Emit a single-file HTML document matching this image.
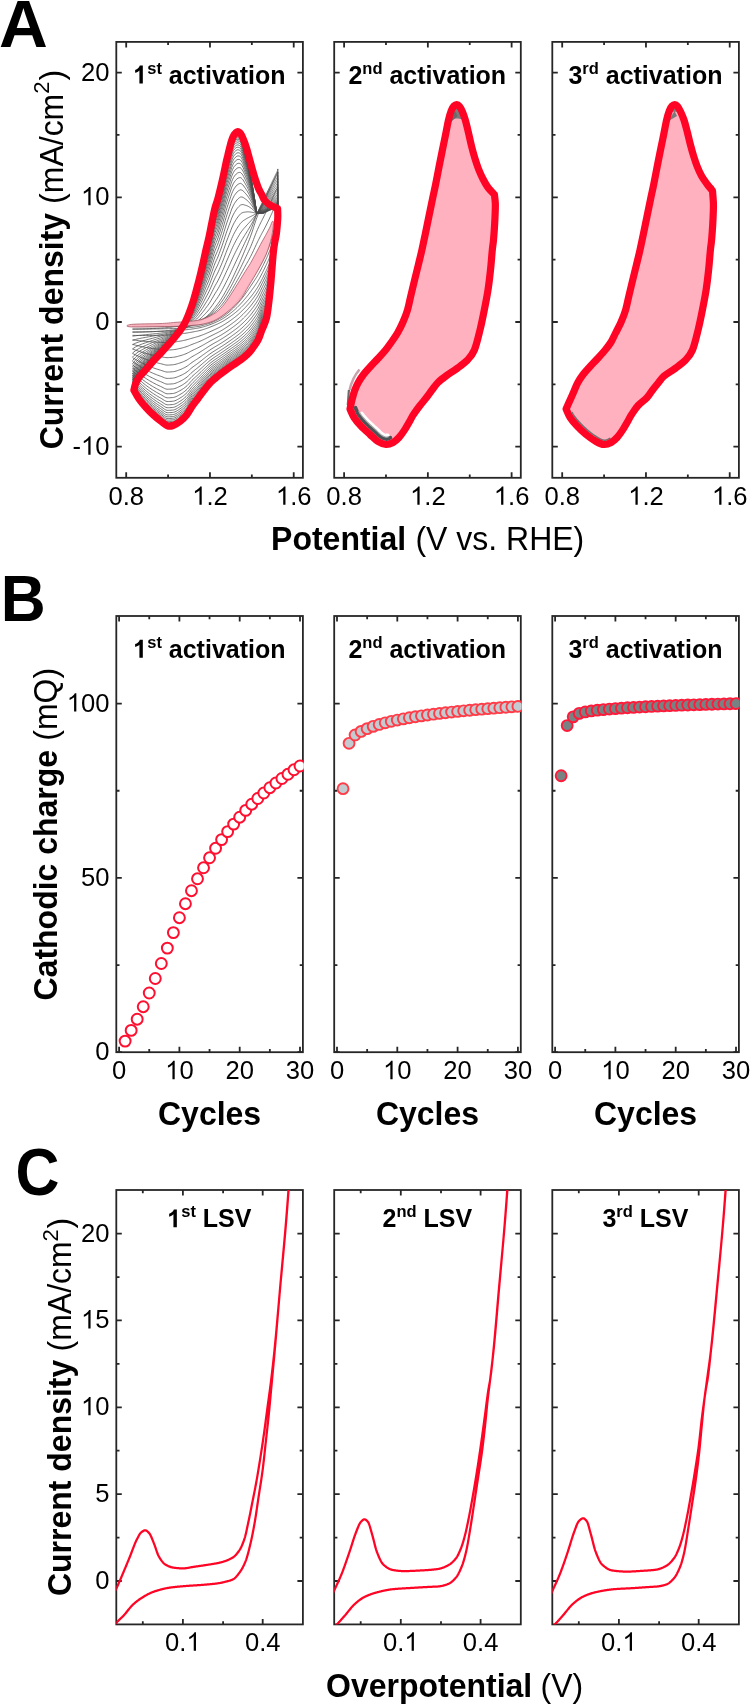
<!DOCTYPE html>
<html><head><meta charset="utf-8"><style>
html,body{margin:0;padding:0;background:#fff;}
svg{display:block;will-change:transform;}
text{font-family:"Liberation Sans",sans-serif;fill:#000;}
.t{font-size:25.6px;}
.b{font-weight:bold;}
</style></head><body>
<svg width="750" height="1704" viewBox="0 0 750 1704">
<rect x="116.3" y="41.9" width="186.6" height="435.9" fill="none" stroke="#262626" stroke-width="1.8"/>
<path d="M126.2,477.8V472.3M126.2,41.9V47.4M209.96,477.8V472.3M209.96,41.9V47.4M293.72,477.8V472.3M293.72,41.9V47.4M168.08,477.8V474.6M168.08,41.9V45.1M251.84,477.8V474.6M251.84,41.9V45.1M116.3,446.7H121.8M302.9,446.7H297.4M116.3,322H121.8M302.9,322H297.4M116.3,197.3H121.8M302.9,197.3H297.4M116.3,72.6H121.8M302.9,72.6H297.4M116.3,384.35H119.5M302.9,384.35H299.7M116.3,259.65H119.5M302.9,259.65H299.7M116.3,134.95H119.5M302.9,134.95H299.7" stroke="#262626" stroke-width="1.8" fill="none"/>
<rect x="334.2" y="41.9" width="186.6" height="435.9" fill="none" stroke="#262626" stroke-width="1.8"/>
<path d="M344.1,477.8V472.3M344.1,41.9V47.4M427.86,477.8V472.3M427.86,41.9V47.4M511.62,477.8V472.3M511.62,41.9V47.4M385.98,477.8V474.6M385.98,41.9V45.1M469.74,477.8V474.6M469.74,41.9V45.1M334.2,446.7H339.7M520.8,446.7H515.3M334.2,322H339.7M520.8,322H515.3M334.2,197.3H339.7M520.8,197.3H515.3M334.2,72.6H339.7M520.8,72.6H515.3M334.2,384.35H337.4M520.8,384.35H517.6M334.2,259.65H337.4M520.8,259.65H517.6M334.2,134.95H337.4M520.8,134.95H517.6" stroke="#262626" stroke-width="1.8" fill="none"/>
<rect x="552.3" y="41.9" width="186.6" height="435.9" fill="none" stroke="#262626" stroke-width="1.8"/>
<path d="M562.2,477.8V472.3M562.2,41.9V47.4M645.96,477.8V472.3M645.96,41.9V47.4M729.72,477.8V472.3M729.72,41.9V47.4M604.08,477.8V474.6M604.08,41.9V45.1M687.84,477.8V474.6M687.84,41.9V45.1M552.3,446.7H557.8M738.9,446.7H733.4M552.3,322H557.8M738.9,322H733.4M552.3,197.3H557.8M738.9,197.3H733.4M552.3,72.6H557.8M738.9,72.6H733.4M552.3,384.35H555.5M738.9,384.35H735.7M552.3,259.65H555.5M738.9,259.65H735.7M552.3,134.95H555.5M738.9,134.95H735.7" stroke="#262626" stroke-width="1.8" fill="none"/>
<rect x="116.3" y="616" width="186.6" height="436.2" fill="none" stroke="#262626" stroke-width="1.8"/>
<path d="M119.1,1052.2V1046.7M119.1,616V621.5M179.4,1052.2V1046.7M179.4,616V621.5M239.7,1052.2V1046.7M239.7,616V621.5M300,1052.2V1046.7M300,616V621.5M149.25,1052.2V1049M149.25,616V619.2M209.55,1052.2V1049M209.55,616V619.2M269.85,1052.2V1049M269.85,616V619.2M116.3,1052.2H121.8M302.9,1052.2H297.4M116.3,877.9H121.8M302.9,877.9H297.4M116.3,703.6H121.8M302.9,703.6H297.4M116.3,965.05H119.5M302.9,965.05H299.7M116.3,790.75H119.5M302.9,790.75H299.7" stroke="#262626" stroke-width="1.8" fill="none"/>
<rect x="334.2" y="616" width="186.6" height="436.2" fill="none" stroke="#262626" stroke-width="1.8"/>
<path d="M337,1052.2V1046.7M337,616V621.5M397.3,1052.2V1046.7M397.3,616V621.5M457.6,1052.2V1046.7M457.6,616V621.5M517.9,1052.2V1046.7M517.9,616V621.5M367.15,1052.2V1049M367.15,616V619.2M427.45,1052.2V1049M427.45,616V619.2M487.75,1052.2V1049M487.75,616V619.2M334.2,1052.2H339.7M520.8,1052.2H515.3M334.2,877.9H339.7M520.8,877.9H515.3M334.2,703.6H339.7M520.8,703.6H515.3M334.2,965.05H337.4M520.8,965.05H517.6M334.2,790.75H337.4M520.8,790.75H517.6" stroke="#262626" stroke-width="1.8" fill="none"/>
<rect x="552.3" y="616" width="186.6" height="436.2" fill="none" stroke="#262626" stroke-width="1.8"/>
<path d="M555.1,1052.2V1046.7M555.1,616V621.5M615.4,1052.2V1046.7M615.4,616V621.5M675.7,1052.2V1046.7M675.7,616V621.5M736,1052.2V1046.7M736,616V621.5M585.25,1052.2V1049M585.25,616V619.2M645.55,1052.2V1049M645.55,616V619.2M705.85,1052.2V1049M705.85,616V619.2M552.3,1052.2H557.8M738.9,1052.2H733.4M552.3,877.9H557.8M738.9,877.9H733.4M552.3,703.6H557.8M738.9,703.6H733.4M552.3,965.05H555.5M738.9,965.05H735.7M552.3,790.75H555.5M738.9,790.75H735.7" stroke="#262626" stroke-width="1.8" fill="none"/>
<rect x="116.3" y="1190" width="186.6" height="434.4" fill="none" stroke="#262626" stroke-width="1.8"/>
<path d="M182.9,1624.4V1618.9M182.9,1190V1195.5M262.7,1624.4V1618.9M262.7,1190V1195.5M142.8,1624.4V1621.2M142.8,1190V1193.2M223.1,1624.4V1621.2M223.1,1190V1193.2M116.3,1581H121.8M302.9,1581H297.4M116.3,1494.15H121.8M302.9,1494.15H297.4M116.3,1407.3H121.8M302.9,1407.3H297.4M116.3,1320.45H121.8M302.9,1320.45H297.4M116.3,1233.6H121.8M302.9,1233.6H297.4M116.3,1537.58H119.5M302.9,1537.58H299.7M116.3,1450.72H119.5M302.9,1450.72H299.7M116.3,1363.88H119.5M302.9,1363.88H299.7M116.3,1277.03H119.5M302.9,1277.03H299.7" stroke="#262626" stroke-width="1.8" fill="none"/>
<rect x="334.2" y="1190" width="186.6" height="434.4" fill="none" stroke="#262626" stroke-width="1.8"/>
<path d="M400.8,1624.4V1618.9M400.8,1190V1195.5M480.6,1624.4V1618.9M480.6,1190V1195.5M360.7,1624.4V1621.2M360.7,1190V1193.2M441,1624.4V1621.2M441,1190V1193.2M334.2,1581H339.7M520.8,1581H515.3M334.2,1494.15H339.7M520.8,1494.15H515.3M334.2,1407.3H339.7M520.8,1407.3H515.3M334.2,1320.45H339.7M520.8,1320.45H515.3M334.2,1233.6H339.7M520.8,1233.6H515.3M334.2,1537.58H337.4M520.8,1537.58H517.6M334.2,1450.72H337.4M520.8,1450.72H517.6M334.2,1363.88H337.4M520.8,1363.88H517.6M334.2,1277.03H337.4M520.8,1277.03H517.6" stroke="#262626" stroke-width="1.8" fill="none"/>
<rect x="552.3" y="1190" width="186.6" height="434.4" fill="none" stroke="#262626" stroke-width="1.8"/>
<path d="M618.9,1624.4V1618.9M618.9,1190V1195.5M698.7,1624.4V1618.9M698.7,1190V1195.5M578.8,1624.4V1621.2M578.8,1190V1193.2M659.1,1624.4V1621.2M659.1,1190V1193.2M552.3,1581H557.8M738.9,1581H733.4M552.3,1494.15H557.8M738.9,1494.15H733.4M552.3,1407.3H557.8M738.9,1407.3H733.4M552.3,1320.45H557.8M738.9,1320.45H733.4M552.3,1233.6H557.8M738.9,1233.6H733.4M552.3,1537.58H555.5M738.9,1537.58H735.7M552.3,1450.72H555.5M738.9,1450.72H735.7M552.3,1363.88H555.5M738.9,1363.88H735.7M552.3,1277.03H555.5M738.9,1277.03H735.7" stroke="#262626" stroke-width="1.8" fill="none"/>
<clipPath id="bc0"><rect x="115.4" y="615.1" width="188.4" height="438"/></clipPath>
<clipPath id="bc1"><rect x="333.3" y="615.1" width="188.4" height="438"/></clipPath>
<clipPath id="bc2"><rect x="551.4" y="615.1" width="188.4" height="438"/></clipPath>
<g clip-path="url(#bc0)">
<circle cx="125.13" cy="1041.1" r="5.45" fill="#fff" stroke="#ff1030" stroke-width="2.0"/>
<circle cx="131.16" cy="1030.4" r="5.45" fill="#fff" stroke="#ff1030" stroke-width="2.0"/>
<circle cx="137.19" cy="1019.2" r="5.45" fill="#fff" stroke="#ff1030" stroke-width="2.0"/>
<circle cx="143.22" cy="1006.7" r="5.45" fill="#fff" stroke="#ff1030" stroke-width="2.0"/>
<circle cx="149.25" cy="993" r="5.45" fill="#fff" stroke="#ff1030" stroke-width="2.0"/>
<circle cx="155.28" cy="978.5" r="5.45" fill="#fff" stroke="#ff1030" stroke-width="2.0"/>
<circle cx="161.31" cy="963.5" r="5.45" fill="#fff" stroke="#ff1030" stroke-width="2.0"/>
<circle cx="167.34" cy="948.1" r="5.45" fill="#fff" stroke="#ff1030" stroke-width="2.0"/>
<circle cx="173.37" cy="932.6" r="5.45" fill="#fff" stroke="#ff1030" stroke-width="2.0"/>
<circle cx="179.4" cy="917.7" r="5.45" fill="#fff" stroke="#ff1030" stroke-width="2.0"/>
<circle cx="185.43" cy="903.7" r="5.45" fill="#fff" stroke="#ff1030" stroke-width="2.0"/>
<circle cx="191.46" cy="890.7" r="5.45" fill="#fff" stroke="#ff1030" stroke-width="2.0"/>
<circle cx="197.49" cy="878.8" r="5.45" fill="#fff" stroke="#ff1030" stroke-width="2.0"/>
<circle cx="203.52" cy="867.8" r="5.45" fill="#fff" stroke="#ff1030" stroke-width="2.0"/>
<circle cx="209.55" cy="857.8" r="5.45" fill="#fff" stroke="#ff1030" stroke-width="2.0"/>
<circle cx="215.58" cy="848.3" r="5.45" fill="#fff" stroke="#ff1030" stroke-width="2.0"/>
<circle cx="221.61" cy="839.6" r="5.45" fill="#fff" stroke="#ff1030" stroke-width="2.0"/>
<circle cx="227.64" cy="831.6" r="5.45" fill="#fff" stroke="#ff1030" stroke-width="2.0"/>
<circle cx="233.67" cy="824.1" r="5.45" fill="#fff" stroke="#ff1030" stroke-width="2.0"/>
<circle cx="239.7" cy="817.2" r="5.45" fill="#fff" stroke="#ff1030" stroke-width="2.0"/>
<circle cx="245.73" cy="810.4" r="5.45" fill="#fff" stroke="#ff1030" stroke-width="2.0"/>
<circle cx="251.76" cy="804.2" r="5.45" fill="#fff" stroke="#ff1030" stroke-width="2.0"/>
<circle cx="257.79" cy="798.5" r="5.45" fill="#fff" stroke="#ff1030" stroke-width="2.0"/>
<circle cx="263.82" cy="793" r="5.45" fill="#fff" stroke="#ff1030" stroke-width="2.0"/>
<circle cx="269.85" cy="787.7" r="5.45" fill="#fff" stroke="#ff1030" stroke-width="2.0"/>
<circle cx="275.88" cy="783" r="5.45" fill="#fff" stroke="#ff1030" stroke-width="2.0"/>
<circle cx="281.91" cy="778.5" r="5.45" fill="#fff" stroke="#ff1030" stroke-width="2.0"/>
<circle cx="287.94" cy="774.3" r="5.45" fill="#fff" stroke="#ff1030" stroke-width="2.0"/>
<circle cx="293.97" cy="769.8" r="5.45" fill="#fff" stroke="#ff1030" stroke-width="2.0"/>
<circle cx="300" cy="766" r="5.45" fill="#fff" stroke="#ff1030" stroke-width="2.0"/>
</g><g clip-path="url(#bc1)">
<circle cx="343.03" cy="788.66" r="5.45" fill="#c3cbd0" stroke="#ff3c48" stroke-width="1.9"/>
<circle cx="349.06" cy="743.34" r="5.45" fill="#c3cbd0" stroke="#ff3c48" stroke-width="1.9"/>
<circle cx="355.09" cy="734.97" r="5.45" fill="#c3cbd0" stroke="#ff3c48" stroke-width="1.9"/>
<circle cx="361.12" cy="731.4" r="5.45" fill="#c3cbd0" stroke="#ff3c48" stroke-width="1.9"/>
<circle cx="367.15" cy="728.63" r="5.45" fill="#c3cbd0" stroke="#ff3c48" stroke-width="1.9"/>
<circle cx="373.18" cy="726.37" r="5.45" fill="#c3cbd0" stroke="#ff3c48" stroke-width="1.9"/>
<circle cx="379.21" cy="724.46" r="5.45" fill="#c3cbd0" stroke="#ff3c48" stroke-width="1.9"/>
<circle cx="385.24" cy="722.8" r="5.45" fill="#c3cbd0" stroke="#ff3c48" stroke-width="1.9"/>
<circle cx="391.27" cy="721.34" r="5.45" fill="#c3cbd0" stroke="#ff3c48" stroke-width="1.9"/>
<circle cx="397.3" cy="720.03" r="5.45" fill="#c3cbd0" stroke="#ff3c48" stroke-width="1.9"/>
<circle cx="403.33" cy="718.85" r="5.45" fill="#c3cbd0" stroke="#ff3c48" stroke-width="1.9"/>
<circle cx="409.36" cy="717.77" r="5.45" fill="#c3cbd0" stroke="#ff3c48" stroke-width="1.9"/>
<circle cx="415.39" cy="716.77" r="5.45" fill="#c3cbd0" stroke="#ff3c48" stroke-width="1.9"/>
<circle cx="421.42" cy="715.85" r="5.45" fill="#c3cbd0" stroke="#ff3c48" stroke-width="1.9"/>
<circle cx="427.45" cy="715" r="5.45" fill="#c3cbd0" stroke="#ff3c48" stroke-width="1.9"/>
<circle cx="433.48" cy="714.2" r="5.45" fill="#c3cbd0" stroke="#ff3c48" stroke-width="1.9"/>
<circle cx="439.51" cy="713.44" r="5.45" fill="#c3cbd0" stroke="#ff3c48" stroke-width="1.9"/>
<circle cx="445.54" cy="712.73" r="5.45" fill="#c3cbd0" stroke="#ff3c48" stroke-width="1.9"/>
<circle cx="451.57" cy="712.06" r="5.45" fill="#c3cbd0" stroke="#ff3c48" stroke-width="1.9"/>
<circle cx="457.6" cy="711.43" r="5.45" fill="#c3cbd0" stroke="#ff3c48" stroke-width="1.9"/>
<circle cx="463.63" cy="710.82" r="5.45" fill="#c3cbd0" stroke="#ff3c48" stroke-width="1.9"/>
<circle cx="469.66" cy="710.24" r="5.45" fill="#c3cbd0" stroke="#ff3c48" stroke-width="1.9"/>
<circle cx="475.69" cy="709.69" r="5.45" fill="#c3cbd0" stroke="#ff3c48" stroke-width="1.9"/>
<circle cx="481.72" cy="709.16" r="5.45" fill="#c3cbd0" stroke="#ff3c48" stroke-width="1.9"/>
<circle cx="487.75" cy="708.66" r="5.45" fill="#c3cbd0" stroke="#ff3c48" stroke-width="1.9"/>
<circle cx="493.78" cy="708.17" r="5.45" fill="#c3cbd0" stroke="#ff3c48" stroke-width="1.9"/>
<circle cx="499.81" cy="707.7" r="5.45" fill="#c3cbd0" stroke="#ff3c48" stroke-width="1.9"/>
<circle cx="505.84" cy="707.25" r="5.45" fill="#c3cbd0" stroke="#ff3c48" stroke-width="1.9"/>
<circle cx="511.87" cy="706.82" r="5.45" fill="#c3cbd0" stroke="#ff3c48" stroke-width="1.9"/>
<circle cx="517.9" cy="706.39" r="5.45" fill="#c3cbd0" stroke="#ff3c48" stroke-width="1.9"/>
</g><g clip-path="url(#bc2)">
<circle cx="561.13" cy="775.76" r="5.45" fill="#788283" stroke="#ff1a3a" stroke-width="1.9"/>
<circle cx="567.16" cy="725.56" r="5.45" fill="#788283" stroke="#ff1a3a" stroke-width="1.9"/>
<circle cx="573.19" cy="716.85" r="5.45" fill="#788283" stroke="#ff1a3a" stroke-width="1.9"/>
<circle cx="579.22" cy="713.36" r="5.45" fill="#788283" stroke="#ff1a3a" stroke-width="1.9"/>
<circle cx="585.25" cy="711.97" r="5.45" fill="#788283" stroke="#ff1a3a" stroke-width="1.9"/>
<circle cx="591.28" cy="710.92" r="5.45" fill="#788283" stroke="#ff1a3a" stroke-width="1.9"/>
<circle cx="597.31" cy="710.22" r="5.45" fill="#788283" stroke="#ff1a3a" stroke-width="1.9"/>
<circle cx="603.34" cy="709.62" r="5.45" fill="#788283" stroke="#ff1a3a" stroke-width="1.9"/>
<circle cx="609.37" cy="709.08" r="5.45" fill="#788283" stroke="#ff1a3a" stroke-width="1.9"/>
<circle cx="615.4" cy="708.6" r="5.45" fill="#788283" stroke="#ff1a3a" stroke-width="1.9"/>
<circle cx="621.43" cy="708.17" r="5.45" fill="#788283" stroke="#ff1a3a" stroke-width="1.9"/>
<circle cx="627.46" cy="707.77" r="5.45" fill="#788283" stroke="#ff1a3a" stroke-width="1.9"/>
<circle cx="633.49" cy="707.41" r="5.45" fill="#788283" stroke="#ff1a3a" stroke-width="1.9"/>
<circle cx="639.52" cy="707.07" r="5.45" fill="#788283" stroke="#ff1a3a" stroke-width="1.9"/>
<circle cx="645.55" cy="706.75" r="5.45" fill="#788283" stroke="#ff1a3a" stroke-width="1.9"/>
<circle cx="651.58" cy="706.46" r="5.45" fill="#788283" stroke="#ff1a3a" stroke-width="1.9"/>
<circle cx="657.61" cy="706.19" r="5.45" fill="#788283" stroke="#ff1a3a" stroke-width="1.9"/>
<circle cx="663.64" cy="705.92" r="5.45" fill="#788283" stroke="#ff1a3a" stroke-width="1.9"/>
<circle cx="669.67" cy="705.68" r="5.45" fill="#788283" stroke="#ff1a3a" stroke-width="1.9"/>
<circle cx="675.7" cy="705.45" r="5.45" fill="#788283" stroke="#ff1a3a" stroke-width="1.9"/>
<circle cx="681.73" cy="705.22" r="5.45" fill="#788283" stroke="#ff1a3a" stroke-width="1.9"/>
<circle cx="687.76" cy="705.01" r="5.45" fill="#788283" stroke="#ff1a3a" stroke-width="1.9"/>
<circle cx="693.79" cy="704.81" r="5.45" fill="#788283" stroke="#ff1a3a" stroke-width="1.9"/>
<circle cx="699.82" cy="704.62" r="5.45" fill="#788283" stroke="#ff1a3a" stroke-width="1.9"/>
<circle cx="705.85" cy="704.43" r="5.45" fill="#788283" stroke="#ff1a3a" stroke-width="1.9"/>
<circle cx="711.88" cy="704.25" r="5.45" fill="#788283" stroke="#ff1a3a" stroke-width="1.9"/>
<circle cx="717.91" cy="704.08" r="5.45" fill="#788283" stroke="#ff1a3a" stroke-width="1.9"/>
<circle cx="723.94" cy="703.91" r="5.45" fill="#788283" stroke="#ff1a3a" stroke-width="1.9"/>
<circle cx="729.97" cy="703.75" r="5.45" fill="#788283" stroke="#ff1a3a" stroke-width="1.9"/>
<circle cx="736" cy="703.6" r="5.45" fill="#788283" stroke="#ff1a3a" stroke-width="1.9"/>
</g>
<path d="M132.5,326.12 133.96,326.12 135.41,326.11 136.86,326.1 138.3,326.08 139.73,326.06 141.16,326.03 142.58,326 144,325.96 145.41,325.92 146.81,325.88 148.21,325.83 149.6,325.78 150.99,325.73 152.36,325.68 153.74,325.63 155.1,325.57 156.46,325.51 157.82,325.46 159.16,325.4 160.51,325.34 161.84,325.26 163.17,325.17 164.49,325.07 165.81,324.96 167.12,324.85 168.42,324.72 169.72,324.59 171.01,324.46 172.29,324.33 173.57,324.2 174.84,324.08 176.11,323.96 177.37,323.84 178.62,323.72 179.87,323.61 181.1,323.49 182.34,323.37 183.56,323.24 184.78,323.11 186,322.96 187.2,322.81 188.4,322.65 189.6,322.47 190.78,322.29 191.96,322.09 193.14,321.89 194.3,321.67 195.46,321.43 196.62,321.16 197.76,320.85 198.9,320.51 200.04,320.13 201.16,319.72 202.28,319.28 203.4,318.83 204.5,318.35 205.6,317.86 206.69,317.34 207.78,316.77 208.86,316.16 209.93,315.5 210.99,314.8 212.05,314.06 213.1,313.28 214.15,312.48 215.18,311.64 216.21,310.77 217.24,309.86 218.25,308.87 219.26,307.81 220.26,306.69 221.26,305.51 222.25,304.3 223.23,303.04 224.2,301.76 225.16,300.4 226.12,298.97 227.07,297.5 228.02,296.01 228.95,294.52 229.88,293.02 230.81,291.49 231.72,289.95 232.63,288.4 233.53,286.85 234.42,285.31 235.3,283.78 236.18,282.26 237.05,280.74 237.91,279.24 238.77,277.73 239.62,276.24 240.45,274.74 241.29,273.25 242.11,271.77 242.93,270.3 243.73,268.84 244.53,267.4 245.33,265.98 246.11,264.59 246.89,263.23 247.66,261.89 248.42,260.54 249.17,259.19 249.92,257.82 250.65,256.42 251.38,254.98 252.1,253.5 252.81,252 253.52,250.48 254.21,248.97 254.9,247.48 255.58,246.02 256.25,244.6 256.91,243.2 257.56,241.85 258.21,240.54 258.84,239.26 259.47,238.02 260.09,236.82 260.7,235.64 261.3,234.51 261.89,233.4 262.48,232.31 263.05,231.24 263.62,230.18 264.17,229.14 264.72,228.1 265.26,227.07 265.79,226.03 266.31,225 266.81,223.98 267.31,222.96 267.81,221.95 268.29,220.96 268.76,219.98 269.22,219.01 269.67,218.06 270.11,217.12 270.54,216.19 270.96,215.27 271.37,214.38 271.77,213.5 272.16,212.65 272.54,211.82 272.9,211.01 273.26,210.22 273.61,209.46 273.94,208.71 274.26,208.01 274.57,207.33 274.87,206.69 275.16,206.09 275.43,205.52 275.69,204.98 275.94,204.47 276.18,203.99 276.4,203.54 276.61,203.13 276.81,202.74 276.99,202.39 277.15,202.06 277.3,201.77 277.43,201.51 277.55,201.29 277.65,201.11 277.72,200.96 277.78,200.86 277.8,200.81 277.8,210 277.78,210.68 277.72,212.28 277.65,214.26 277.55,215.51 277.43,216.52 277.3,217.48 277.15,218.32 276.99,219.07 276.81,219.76 276.61,220.51 276.4,221.45 276.18,222.44 275.94,223.44 275.69,224.46 275.43,225.48 275.16,226.53 274.87,227.6 274.57,228.72 274.26,229.9 273.94,231.12 273.61,232.37 273.26,233.65 272.9,234.93 272.54,236.21 272.16,237.48 271.77,238.73 271.37,239.98 270.96,241.22 270.54,242.47 270.11,243.7 269.67,244.93 269.22,246.15 268.76,247.35 268.29,248.53 267.81,249.7 267.31,250.86 266.81,252 266.31,253.13 265.79,254.26 265.26,255.38 264.72,256.51 264.17,257.64 263.62,258.78 263.05,259.93 262.48,261.07 261.89,262.22 261.3,263.36 260.7,264.5 260.09,265.64 259.47,266.77 258.84,267.89 258.21,269.01 257.56,270.11 256.91,271.19 256.25,272.27 255.58,273.34 254.9,274.42 254.21,275.5 253.52,276.59 252.81,277.7 252.1,278.84 251.38,280.01 250.65,281.2 249.92,282.41 249.17,283.64 248.42,284.87 247.66,286.11 246.89,287.34 246.11,288.56 245.33,289.76 244.53,290.96 243.73,292.17 242.93,293.37 242.11,294.56 241.29,295.74 240.45,296.91 239.62,298.05 238.77,299.16 237.91,300.24 237.05,301.3 236.18,302.35 235.3,303.39 234.42,304.4 233.53,305.39 232.63,306.35 231.72,307.29 230.81,308.19 229.88,309.08 228.95,309.96 228.02,310.83 227.07,311.68 226.12,312.51 225.16,313.31 224.2,314.08 223.23,314.82 222.25,315.51 221.26,316.15 220.26,316.77 219.26,317.37 218.25,317.96 217.24,318.53 216.21,319.07 215.18,319.6 214.15,320.1 213.1,320.57 212.05,321.02 210.99,321.44 209.93,321.82 208.86,322.19 207.78,322.56 206.69,322.91 205.6,323.25 204.5,323.58 203.4,323.88 202.28,324.17 201.16,324.43 200.04,324.66 198.9,324.86 197.76,325.03 196.62,325.19 195.46,325.34 194.3,325.49 193.14,325.63 191.96,325.77 190.78,325.89 189.6,326.01 188.4,326.11 187.2,326.2 186,326.28 184.78,326.34 183.56,326.38 182.34,326.4 181.1,326.42 179.87,326.43 178.62,326.45 177.37,326.46 176.11,326.47 174.84,326.49 173.57,326.5 172.29,326.51 171.01,326.52 169.72,326.53 168.42,326.54 167.12,326.55 165.81,326.56 164.49,326.56 163.17,326.57 161.84,326.58 160.51,326.58 159.16,326.59 157.82,326.59 156.46,326.59 155.1,326.6 153.74,326.6 152.36,326.6 150.99,326.6 149.6,326.6 148.21,326.6 146.81,326.6 145.41,326.6 144,326.6 142.58,326.6 141.16,326.6 139.73,326.6 138.3,326.6 136.86,326.6 135.41,326.6 133.96,326.6 132.5,326.6M132.5,329.03 133.96,329.03 135.41,329.02 136.86,329 138.3,328.98 139.73,328.95 141.16,328.92 142.58,328.88 144,328.84 145.41,328.8 146.81,328.75 148.21,328.7 149.6,328.64 150.99,328.59 152.36,328.53 153.74,328.47 155.1,328.4 156.46,328.34 157.82,328.27 159.16,328.21 160.51,328.14 161.84,328.06 163.17,327.96 164.49,327.86 165.81,327.74 167.12,327.62 168.42,327.48 169.72,327.34 171.01,327.2 172.29,327.05 173.57,326.9 174.84,326.74 176.11,326.59 177.37,326.43 178.62,326.27 179.87,326.11 181.1,325.94 182.34,325.75 183.56,325.55 184.78,325.33 186,325.09 187.2,324.84 188.4,324.57 189.6,324.29 190.78,323.99 191.96,323.67 193.14,323.34 194.3,323 195.46,322.64 196.62,322.23 197.76,321.78 198.9,321.28 200.04,320.74 201.16,320.16 202.28,319.56 203.4,318.93 204.5,318.27 205.6,317.59 206.69,316.89 207.78,316.15 208.86,315.35 209.93,314.5 210.99,313.6 212.05,312.65 213.1,311.67 214.15,310.65 215.18,309.6 216.21,308.53 217.24,307.41 218.25,306.24 219.26,305.01 220.26,303.71 221.26,302.36 222.25,300.96 223.23,299.53 224.2,298.06 225.16,296.54 226.12,294.98 227.07,293.38 228.02,291.77 228.95,290.15 229.88,288.5 230.81,286.83 231.72,285.13 232.63,283.42 233.53,281.71 234.42,279.99 235.3,278.29 236.18,276.58 237.05,274.89 237.91,273.2 238.77,271.5 239.62,269.81 240.45,268.11 241.29,266.41 242.11,264.72 242.93,263.03 243.73,261.36 244.53,259.69 245.33,258.04 246.11,256.42 246.89,254.82 247.66,253.22 248.42,251.62 249.17,250.01 249.92,248.38 250.65,246.72 251.38,245.02 252.1,243.25 252.81,241.43 253.52,239.59 254.21,237.75 254.9,235.95 255.58,234.21 256.25,232.53 256.91,230.94 257.56,229.44 258.21,228.02 258.84,226.66 259.47,225.35 260.09,224.08 260.7,222.84 261.3,221.64 261.89,220.45 262.48,219.27 263.05,218.11 263.62,216.98 264.17,215.86 264.72,214.75 265.26,213.66 265.79,212.57 266.31,211.49 266.81,210.43 267.31,209.38 267.81,208.34 268.29,207.32 268.76,206.31 269.22,205.33 269.67,204.36 270.11,203.4 270.54,202.46 270.96,201.55 271.37,200.65 271.77,199.77 272.16,198.92 272.54,198.1 272.9,197.29 273.26,196.51 273.61,195.75 273.94,195.02 274.26,194.31 274.57,193.64 274.87,193 275.16,192.39 275.43,191.81 275.69,191.26 275.94,190.74 276.18,190.25 276.4,189.79 276.61,189.36 276.81,188.96 276.99,188.59 277.15,188.26 277.3,187.96 277.43,187.69 277.55,187.45 277.65,187.26 277.72,187.11 277.78,187 277.8,186.95 277.8,195.64 277.78,197.69 277.72,201.96 277.65,206 277.55,209.32 277.43,212.1 277.3,214.45 277.15,216.64 276.99,218.62 276.81,220.38 276.61,221.99 276.4,223.6 276.18,225.19 275.94,226.73 275.69,228.22 275.43,229.64 275.16,231.02 274.87,232.37 274.57,233.73 274.26,235.1 273.94,236.47 273.61,237.85 273.26,239.22 272.9,240.57 272.54,241.9 272.16,243.21 271.77,244.48 271.37,245.75 270.96,247 270.54,248.25 270.11,249.47 269.67,250.68 269.22,251.87 268.76,253.05 268.29,254.2 267.81,255.33 267.31,256.45 266.81,257.56 266.31,258.67 265.79,259.77 265.26,260.88 264.72,262.01 264.17,263.14 263.62,264.28 263.05,265.43 262.48,266.57 261.89,267.72 261.3,268.87 260.7,270.01 260.09,271.14 259.47,272.27 258.84,273.39 258.21,274.49 257.56,275.58 256.91,276.65 256.25,277.7 255.58,278.74 254.9,279.79 254.21,280.83 253.52,281.87 252.81,282.93 252.1,283.99 251.38,285.08 250.65,286.17 249.92,287.27 249.17,288.38 248.42,289.5 247.66,290.61 246.89,291.71 246.11,292.81 245.33,293.89 244.53,294.97 243.73,296.05 242.93,297.13 242.11,298.21 241.29,299.27 240.45,300.31 239.62,301.34 238.77,302.34 237.91,303.32 237.05,304.28 236.18,305.22 235.3,306.15 234.42,307.06 233.53,307.94 232.63,308.81 231.72,309.65 230.81,310.47 229.88,311.28 228.95,312.09 228.02,312.88 227.07,313.65 226.12,314.41 225.16,315.14 224.2,315.85 223.23,316.53 222.25,317.18 221.26,317.78 220.26,318.36 219.26,318.93 218.25,319.47 217.24,320 216.21,320.51 215.18,321.01 214.15,321.48 213.1,321.94 212.05,322.38 210.99,322.8 209.93,323.19 208.86,323.57 207.78,323.94 206.69,324.3 205.6,324.65 204.5,324.98 203.4,325.3 202.28,325.59 201.16,325.86 200.04,326.11 198.9,326.33 197.76,326.51 196.62,326.69 195.46,326.85 194.3,327.01 193.14,327.17 191.96,327.32 190.78,327.46 189.6,327.6 188.4,327.72 187.2,327.84 186,327.94 184.78,328.04 183.56,328.11 182.34,328.18 181.1,328.23 179.87,328.29 178.62,328.34 177.37,328.39 176.11,328.44 174.84,328.49 173.57,328.53 172.29,328.57 171.01,328.61 169.72,328.65 168.42,328.68 167.12,328.72 165.81,328.75 164.49,328.77 163.17,328.8 161.84,328.82 160.51,328.85 159.16,328.87 157.82,328.9 156.46,328.92 155.1,328.94 153.74,328.96 152.36,328.98 150.99,329 149.6,329.02 148.21,329.03 146.81,329.05 145.41,329.06 144,329.08 142.58,329.09 141.16,329.1 139.73,329.11 138.3,329.12 136.86,329.12 135.41,329.13 133.96,329.13 132.5,329.13M132.5,332.22 133.96,332.22 135.41,332.21 136.86,332.19 138.3,332.17 139.73,332.14 141.16,332.1 142.58,332.06 144,332.01 145.41,331.96 146.81,331.91 148.21,331.85 149.6,331.79 150.99,331.73 152.36,331.66 153.74,331.59 155.1,331.52 156.46,331.45 157.82,331.37 159.16,331.3 160.51,331.22 161.84,331.13 163.17,331.03 164.49,330.92 165.81,330.8 167.12,330.67 168.42,330.52 169.72,330.37 171.01,330.21 172.29,330.04 173.57,329.86 174.84,329.67 176.11,329.48 177.37,329.28 178.62,329.07 179.87,328.86 181.1,328.63 182.34,328.37 183.56,328.08 184.78,327.77 186,327.43 187.2,327.07 188.4,326.69 189.6,326.28 190.78,325.85 191.96,325.41 193.14,324.94 194.3,324.46 195.46,323.96 196.62,323.41 197.76,322.79 198.9,322.13 200.04,321.41 201.16,320.66 202.28,319.86 203.4,319.03 204.5,318.18 205.6,317.3 206.69,316.39 207.78,315.45 208.86,314.45 209.93,313.39 210.99,312.27 212.05,311.11 213.1,309.9 214.15,308.65 215.18,307.36 216.21,306.05 217.24,304.71 218.25,303.35 219.26,301.92 220.26,300.43 221.26,298.88 222.25,297.29 223.23,295.66 224.2,293.99 225.16,292.3 226.12,290.58 227.07,288.84 228.02,287.1 228.95,285.33 229.88,283.53 230.81,281.7 231.72,279.83 232.63,277.95 233.53,276.05 234.42,274.15 235.3,272.24 236.18,270.34 237.05,268.45 237.91,266.55 238.77,264.64 239.62,262.73 240.45,260.81 241.29,258.89 242.11,256.96 242.93,255.04 243.73,253.12 244.53,251.21 245.33,249.31 246.11,247.42 246.89,245.55 247.66,243.68 248.42,241.81 249.17,239.92 249.92,238 250.65,236.06 251.38,234.07 252.1,231.97 252.81,229.8 253.52,227.6 254.21,225.41 254.9,223.27 255.58,221.21 256.25,219.26 256.91,217.44 257.56,215.78 258.21,214.24 258.84,212.78 259.47,211.4 260.09,210.06 260.7,208.76 261.3,207.47 261.89,206.19 262.48,204.92 263.05,203.67 263.62,202.44 264.17,201.24 264.72,200.06 265.26,198.9 265.79,197.76 266.31,196.63 266.81,195.52 267.31,194.43 267.81,193.36 268.29,192.31 268.76,191.27 269.22,190.26 269.67,189.27 270.11,188.31 270.54,187.36 270.96,186.44 271.37,185.54 271.77,184.67 272.16,183.82 272.54,182.99 272.9,182.2 273.26,181.42 273.61,180.67 273.94,179.95 274.26,179.25 274.57,178.58 274.87,177.93 275.16,177.32 275.43,176.73 275.69,176.17 275.94,175.63 276.18,175.13 276.4,174.66 276.61,174.21 276.81,173.8 276.99,173.42 277.15,173.07 277.3,172.75 277.43,172.47 277.55,172.23 277.65,172.02 277.72,171.86 277.78,171.75 277.8,171.7 277.8,179.83 277.78,183.38 277.72,190.61 277.65,196.91 277.55,202.52 277.43,207.23 277.3,211.13 277.15,214.79 276.99,218.13 276.81,221.07 276.61,223.61 276.4,225.96 276.18,228.21 275.94,230.35 275.69,232.35 275.43,234.22 275.16,235.97 274.87,237.63 274.57,239.23 274.26,240.81 273.94,242.36 273.61,243.87 273.26,245.35 272.9,246.78 272.54,248.16 272.16,249.51 271.77,250.81 271.37,252.09 270.96,253.36 270.54,254.61 270.11,255.83 269.67,257.02 269.22,258.18 268.76,259.32 268.29,260.43 267.81,261.53 267.31,262.61 266.81,263.68 266.31,264.75 265.79,265.84 265.26,266.93 264.72,268.06 264.17,269.19 263.62,270.33 263.05,271.48 262.48,272.63 261.89,273.78 261.3,274.93 260.7,276.07 260.09,277.21 259.47,278.33 258.84,279.44 258.21,280.53 257.56,281.6 256.91,282.65 256.25,283.67 255.58,284.69 254.9,285.69 254.21,286.69 253.52,287.69 252.81,288.68 252.1,289.67 251.38,290.65 250.65,291.64 249.92,292.63 249.17,293.61 248.42,294.59 247.66,295.56 246.89,296.52 246.11,297.48 245.33,298.44 244.53,299.39 243.73,300.34 242.93,301.28 242.11,302.22 241.29,303.14 240.45,304.06 239.62,304.96 238.77,305.84 237.91,306.7 237.05,307.55 236.18,308.38 235.3,309.19 234.42,309.99 233.53,310.75 232.63,311.51 231.72,312.26 230.81,312.99 229.88,313.71 228.95,314.43 228.02,315.13 227.07,315.82 226.12,316.5 225.16,317.16 224.2,317.8 223.23,318.42 222.25,319.01 221.26,319.58 220.26,320.12 219.26,320.64 218.25,321.14 217.24,321.62 216.21,322.09 215.18,322.56 214.15,323.01 213.1,323.45 212.05,323.88 210.99,324.3 209.93,324.7 208.86,325.09 207.78,325.47 206.69,325.84 205.6,326.19 204.5,326.53 203.4,326.85 202.28,327.16 201.16,327.44 200.04,327.7 198.9,327.93 197.76,328.14 196.62,328.33 195.46,328.51 194.3,328.69 193.14,328.86 191.96,329.03 190.78,329.19 189.6,329.35 188.4,329.5 187.2,329.64 186,329.78 184.78,329.9 183.56,330.02 182.34,330.13 181.1,330.23 179.87,330.33 178.62,330.43 177.37,330.52 176.11,330.61 174.84,330.69 173.57,330.77 172.29,330.85 171.01,330.92 169.72,330.98 168.42,331.05 167.12,331.1 165.81,331.16 164.49,331.2 163.17,331.25 161.84,331.3 160.51,331.34 159.16,331.39 157.82,331.43 156.46,331.48 155.1,331.52 153.74,331.56 152.36,331.6 150.99,331.64 149.6,331.68 148.21,331.71 146.81,331.74 145.41,331.77 144,331.8 142.58,331.83 141.16,331.85 139.73,331.87 138.3,331.88 136.86,331.9 135.41,331.91 133.96,331.91 132.5,331.92M132.5,336.15 133.96,335.96 135.41,335.77 136.86,335.59 138.3,335.43 139.73,335.29 141.16,335.14 142.58,335.01 144,334.87 145.41,334.73 146.81,334.59 148.21,334.45 149.6,334.3 150.99,334.16 152.36,334.01 153.74,333.87 155.1,333.72 156.46,333.57 157.82,333.43 159.16,333.28 160.51,333.13 161.84,332.97 163.17,332.8 164.49,332.61 165.81,332.42 167.12,332.22 168.42,332.01 169.72,331.79 171.01,331.56 172.29,331.32 173.57,331.06 174.84,330.8 176.11,330.53 177.37,330.25 178.62,329.96 179.87,329.66 181.1,329.33 182.34,328.97 183.56,328.56 184.78,328.11 186,327.62 187.2,327.1 188.4,326.54 189.6,325.94 190.78,325.31 191.96,324.64 193.14,323.95 194.3,323.25 195.46,322.5 196.62,321.7 197.76,320.83 198.9,319.91 200.04,318.94 201.16,317.91 202.28,316.84 203.4,315.74 204.5,314.59 205.6,313.42 206.69,312.25 207.78,311.06 208.86,309.81 209.93,308.46 210.99,307.05 212.05,305.59 213.1,304.1 214.15,302.58 215.18,301.07 216.21,299.59 217.24,298.1 218.25,296.55 219.26,294.93 220.26,293.24 221.26,291.5 222.25,289.71 223.23,287.87 224.2,285.99 225.16,284.08 226.12,282.17 227.07,280.27 228.02,278.39 228.95,276.5 229.88,274.58 230.81,272.62 231.72,270.64 232.63,268.7 233.53,266.77 234.42,264.86 235.3,262.98 236.18,261.11 237.05,259.26 237.91,257.43 238.77,255.61 239.62,253.8 240.45,251.99 241.29,250.22 242.11,248.48 242.93,246.75 243.73,245.05 244.53,243.38 245.33,241.7 246.11,240.04 246.89,238.39 247.66,236.75 248.42,235.11 249.17,233.47 249.92,231.81 250.65,230.12 251.38,228.4 252.1,226.58 252.81,224.71 253.52,222.81 254.21,220.91 254.9,219.06 255.58,217.33 256.25,215.69 256.91,214.09 257.56,212.52 258.21,211.04 258.84,209.65 259.47,208.33 260.09,207.05 260.7,205.81 261.3,204.58 261.89,203.36 262.48,202.13 263.05,200.92 263.62,199.74 264.17,198.58 264.72,197.43 265.26,196.31 265.79,195.2 266.31,194.11 266.81,193.04 267.31,191.99 267.81,190.96 268.29,189.95 268.76,188.96 269.22,187.99 269.67,187.04 270.11,186.12 270.54,185.21 270.96,184.33 271.37,183.48 271.77,182.65 272.16,181.84 272.54,181.06 272.9,180.3 273.26,179.56 273.61,178.85 273.94,178.16 274.26,177.5 274.57,176.86 274.87,176.25 275.16,175.66 275.43,175.1 275.69,174.56 275.94,174.05 276.18,173.57 276.4,173.12 276.61,172.69 276.81,172.3 276.99,171.93 277.15,171.6 277.3,171.29 277.43,171.02 277.55,170.79 277.65,170.59 277.72,170.44 277.78,170.33 277.8,170.28 277.8,168.93 277.78,173.54 277.72,182.84 277.65,190.74 277.55,197.97 277.43,204.05 277.3,209.05 277.15,213.77 276.99,218.07 276.81,221.84 276.61,225.06 276.4,227.94 276.18,230.68 275.94,233.24 275.69,235.62 275.43,237.82 275.16,239.84 274.87,241.71 274.57,243.5 274.26,245.24 273.94,246.91 273.61,248.54 273.26,250.11 272.9,251.62 272.54,253.09 272.16,254.51 271.77,255.92 271.37,257.32 270.96,258.67 270.54,260 270.11,261.29 269.67,262.54 269.22,263.75 268.76,264.93 268.29,266.08 267.81,267.21 267.31,268.31 266.81,269.4 266.31,270.48 265.79,271.56 265.26,272.66 264.72,273.79 264.17,274.93 263.62,276.07 263.05,277.22 262.48,278.38 261.89,279.54 261.3,280.7 260.7,281.86 260.09,283 259.47,284.14 258.84,285.26 258.21,286.35 257.56,287.41 256.91,288.44 256.25,289.44 255.58,290.44 254.9,291.42 254.21,292.38 253.52,293.34 252.81,294.28 252.1,295.21 251.38,296.13 250.65,297.04 249.92,297.93 249.17,298.82 248.42,299.69 247.66,300.56 246.89,301.42 246.11,302.27 245.33,303.12 244.53,303.97 243.73,304.82 242.93,305.65 242.11,306.48 241.29,307.31 240.45,308.12 239.62,308.92 238.77,309.71 237.91,310.48 237.05,311.24 236.18,311.98 235.3,312.7 234.42,313.4 233.53,314.08 232.63,314.76 231.72,315.43 230.81,316.09 229.88,316.75 228.95,317.4 228.02,318.04 227.07,318.67 226.12,319.29 225.16,319.9 224.2,320.49 223.23,321.06 222.25,321.62 221.26,322.16 220.26,322.68 219.26,323.18 218.25,323.65 217.24,324.11 216.21,324.56 215.18,325.01 214.15,325.45 213.1,325.89 212.05,326.33 210.99,326.76 209.93,327.18 208.86,327.6 207.78,328.01 206.69,328.4 205.6,328.79 204.5,329.15 203.4,329.51 202.28,329.85 201.16,330.17 200.04,330.47 198.9,330.75 197.76,331 196.62,331.24 195.46,331.46 194.3,331.68 193.14,331.9 191.96,332.11 190.78,332.33 189.6,332.54 188.4,332.75 187.2,332.95 186,333.14 184.78,333.33 183.56,333.5 182.34,333.67 181.1,333.83 179.87,333.98 178.62,334.13 177.37,334.27 176.11,334.41 174.84,334.53 173.57,334.64 172.29,334.75 171.01,334.84 169.72,334.93 168.42,335.01 167.12,335.08 165.81,335.14 164.49,335.18 163.17,335.22 161.84,335.25 160.51,335.28 159.16,335.32 157.82,335.35 156.46,335.38 155.1,335.41 153.74,335.44 152.36,335.46 150.99,335.48 149.6,335.5 148.21,335.51 146.81,335.52 145.41,335.53 144,335.53 142.58,335.52 141.16,335.51 139.73,335.49 138.3,335.47 136.86,335.44 135.41,335.41 133.96,335.37 132.5,335.32M132.5,340.37 133.96,339.92 135.41,339.5 136.86,339.11 138.3,338.77 139.73,338.47 141.16,338.19 142.58,337.92 144,337.66 145.41,337.41 146.81,337.16 148.21,336.91 149.6,336.65 150.99,336.39 152.36,336.15 153.74,335.9 155.1,335.65 156.46,335.41 157.82,335.17 159.16,334.92 160.51,334.68 161.84,334.42 163.17,334.16 164.49,333.89 165.81,333.61 167.12,333.32 168.42,333.02 169.72,332.71 171.01,332.39 172.29,332.06 173.57,331.71 174.84,331.36 176.11,331 177.37,330.63 178.62,330.24 179.87,329.84 181.1,329.4 182.34,328.91 183.56,328.37 184.78,327.76 186,327.11 187.2,326.41 188.4,325.65 189.6,324.84 190.78,323.96 191.96,323.05 193.14,322.11 194.3,321.14 195.46,320.12 196.62,319.02 197.76,317.87 198.9,316.66 200.04,315.4 201.16,314.07 202.28,312.7 203.4,311.28 204.5,309.81 205.6,308.31 206.69,306.85 207.78,305.4 208.86,303.87 209.93,302.22 210.99,300.47 212.05,298.69 213.1,296.9 214.15,295.09 215.18,293.36 216.21,291.73 217.24,290.1 218.25,288.38 219.26,286.56 220.26,284.67 221.26,282.73 222.25,280.73 223.23,278.69 224.2,276.59 225.16,274.44 226.12,272.32 227.07,270.26 228.02,268.24 228.95,266.23 229.88,264.21 230.81,262.12 231.72,260.04 232.63,258.08 233.53,256.16 234.42,254.31 235.3,252.53 236.18,250.76 237.05,249.05 237.91,247.37 238.77,245.74 239.62,244.12 240.45,242.54 241.29,241.06 242.11,239.64 242.93,238.24 243.73,236.92 244.53,235.63 245.33,234.34 246.11,233.07 246.89,231.81 247.66,230.57 248.42,229.34 249.17,228.11 249.92,226.88 250.65,225.63 251.38,224.37 252.1,223.03 252.81,221.66 253.52,220.28 254.21,218.89 254.9,217.54 255.58,216.36 256.25,215.23 256.91,213.99 257.56,212.58 258.21,211.23 258.84,209.95 259.47,208.75 260.09,207.58 260.7,206.44 261.3,205.32 261.89,204.19 262.48,203.06 263.05,201.95 263.62,200.85 264.17,199.76 264.72,198.69 265.26,197.63 265.79,196.59 266.31,195.57 266.81,194.57 267.31,193.58 267.81,192.62 268.29,191.67 268.76,190.75 269.22,189.84 269.67,188.96 270.11,188.09 270.54,187.25 270.96,186.43 271.37,185.63 271.77,184.85 272.16,184.1 272.54,183.37 272.9,182.66 273.26,181.97 273.61,181.31 273.94,180.67 274.26,180.05 274.57,179.46 274.87,178.89 275.16,178.34 275.43,177.82 275.69,177.32 275.94,176.85 276.18,176.4 276.4,175.98 276.61,175.58 276.81,175.22 276.99,174.87 277.15,174.56 277.3,174.28 277.43,174.03 277.55,173.81 277.65,173.63 277.72,173.49 277.78,173.39 277.8,173.34 277.8,172.1 277.78,176.48 277.72,185.32 277.65,192.91 277.55,199.81 277.43,205.64 277.3,210.44 277.15,214.97 276.99,219.11 276.81,222.74 276.61,225.87 276.4,228.68 276.18,231.36 275.94,233.88 275.69,236.22 275.43,238.39 275.16,240.39 274.87,242.24 274.57,244.01 274.26,245.73 273.94,247.41 273.61,249.07 273.26,250.7 272.9,252.3 272.54,253.89 272.16,255.5 271.77,257.19 271.37,258.91 270.96,260.56 270.54,262.15 270.11,263.7 269.67,265.21 269.22,266.65 268.76,268.04 268.29,269.42 267.81,270.75 267.31,272.05 266.81,273.28 266.31,274.45 265.79,275.59 265.26,276.73 264.72,277.88 264.17,279.03 263.62,280.18 263.05,281.34 262.48,282.51 261.89,283.69 261.3,284.89 260.7,286.09 260.09,287.29 259.47,288.47 258.84,289.62 258.21,290.74 257.56,291.82 256.91,292.85 256.25,293.86 255.58,294.85 254.9,295.83 254.21,296.79 253.52,297.75 252.81,298.69 252.1,299.63 251.38,300.55 250.65,301.45 249.92,302.35 249.17,303.23 248.42,304.1 247.66,304.96 246.89,305.8 246.11,306.65 245.33,307.49 244.53,308.32 243.73,309.15 242.93,309.97 242.11,310.79 241.29,311.59 240.45,312.39 239.62,313.17 238.77,313.94 237.91,314.7 237.05,315.44 236.18,316.17 235.3,316.88 234.42,317.57 233.53,318.24 232.63,318.91 231.72,319.58 230.81,320.24 229.88,320.9 228.95,321.55 228.02,322.19 227.07,322.82 226.12,323.45 225.16,324.06 224.2,324.66 223.23,325.25 222.25,325.82 221.26,326.38 220.26,326.92 219.26,327.44 218.25,327.94 217.24,328.42 216.21,328.91 215.18,329.39 214.15,329.87 213.1,330.35 212.05,330.82 210.99,331.3 209.93,331.78 208.86,332.26 207.78,332.74 206.69,333.22 205.6,333.68 204.5,334.14 203.4,334.58 202.28,335.01 201.16,335.43 200.04,335.83 198.9,336.22 197.76,336.58 196.62,336.92 195.46,337.25 194.3,337.57 193.14,337.9 191.96,338.23 190.78,338.58 189.6,338.95 188.4,339.3 187.2,339.64 186,339.94 184.78,340.22 183.56,340.48 182.34,340.73 181.1,340.97 179.87,341.19 178.62,341.4 177.37,341.6 176.11,341.8 174.84,341.97 173.57,342.11 172.29,342.21 171.01,342.31 169.72,342.4 168.42,342.48 167.12,342.54 165.81,342.55 164.49,342.51 163.17,342.44 161.84,342.38 160.51,342.32 159.16,342.27 157.82,342.21 156.46,342.15 155.1,342.08 153.74,342 152.36,341.92 150.99,341.83 149.6,341.73 148.21,341.63 146.81,341.51 145.41,341.39 144,341.26 142.58,341.11 141.16,340.96 139.73,340.79 138.3,340.62 136.86,340.44 135.41,340.24 133.96,340.04 132.5,339.82M132.5,344.65 133.96,343.94 135.41,343.28 136.86,342.67 138.3,342.16 139.73,341.7 141.16,341.27 142.58,340.87 144,340.49 145.41,340.13 146.81,339.76 148.21,339.39 149.6,339.02 150.99,338.66 152.36,338.31 153.74,337.96 155.1,337.62 156.46,337.27 157.82,336.93 159.16,336.59 160.51,336.25 161.84,335.9 163.17,335.54 164.49,335.17 165.81,334.8 167.12,334.43 168.42,334.04 169.72,333.64 171.01,333.23 172.29,332.81 173.57,332.37 174.84,331.92 176.11,331.47 177.37,331.01 178.62,330.53 179.87,330.02 181.1,329.47 182.34,328.86 183.56,328.17 184.78,327.41 186,326.59 187.2,325.71 188.4,324.76 189.6,323.72 190.78,322.61 191.96,321.44 193.14,320.24 194.3,319.01 195.46,317.7 196.62,316.32 197.76,314.88 198.9,313.37 200.04,311.81 201.16,310.19 202.28,308.5 203.4,306.77 204.5,304.96 205.6,303.14 206.69,301.38 207.78,299.67 208.86,297.86 209.93,295.89 210.99,293.8 212.05,291.71 213.1,289.6 214.15,287.51 215.18,285.55 216.21,283.77 217.24,282.01 218.25,280.1 219.26,278.08 220.26,275.98 221.26,273.84 222.25,271.64 223.23,269.39 224.2,267.07 225.16,264.68 226.12,262.35 227.07,260.12 228.02,257.95 228.95,255.83 229.88,253.7 230.81,251.49 231.72,249.3 232.63,247.32 233.53,245.41 234.42,243.62 235.3,241.94 236.18,240.28 237.05,238.69 237.91,237.18 238.77,235.73 239.62,234.32 240.45,232.96 241.29,231.77 242.11,230.68 242.93,229.62 243.73,228.67 244.53,227.79 245.33,226.89 246.11,226.01 246.89,225.14 247.66,224.3 248.42,223.48 249.17,222.68 249.92,221.88 250.65,221.09 251.38,220.28 252.1,219.43 252.81,218.58 253.52,217.72 254.21,216.84 254.9,216 255.58,215.38 256.25,214.76 256.91,213.88 257.56,212.64 258.21,211.42 258.84,210.27 259.47,209.17 260.09,208.11 260.7,207.08 261.3,206.06 261.89,205.04 262.48,204.01 263.05,202.98 263.62,201.97 264.17,200.96 264.72,199.96 265.26,198.97 265.79,198 266.31,197.05 266.81,196.11 267.31,195.19 267.81,194.29 268.29,193.42 268.76,192.56 269.22,191.72 269.67,190.89 270.11,190.09 270.54,189.31 270.96,188.55 271.37,187.8 271.77,187.08 272.16,186.39 272.54,185.71 272.9,185.05 273.26,184.42 273.61,183.81 273.94,183.21 274.26,182.64 274.57,182.09 274.87,181.57 275.16,181.06 275.43,180.58 275.69,180.12 275.94,179.68 276.18,179.27 276.4,178.88 276.61,178.51 276.81,178.17 276.99,177.86 277.15,177.57 277.3,177.31 277.43,177.08 277.55,176.88 277.65,176.71 277.72,176.58 277.78,176.49 277.8,176.44 277.8,175.32 277.78,179.45 277.72,187.84 277.65,195.11 277.55,201.68 277.43,207.25 277.3,211.85 277.15,216.19 276.99,220.16 276.81,223.66 276.61,226.69 276.4,229.43 276.18,232.06 275.94,234.53 275.69,236.83 275.43,238.97 275.16,240.95 274.87,242.78 274.57,244.53 274.26,246.23 273.94,247.92 273.61,249.6 273.26,251.29 272.9,252.98 272.54,254.7 272.16,256.49 271.77,258.47 271.37,260.52 270.96,262.46 270.54,264.33 270.11,266.15 269.67,267.91 269.22,269.59 268.76,271.2 268.29,272.8 267.81,274.35 267.31,275.83 266.81,277.21 266.31,278.47 265.79,279.67 265.26,280.85 264.72,282.02 264.17,283.19 263.62,284.34 263.05,285.51 262.48,286.69 261.89,287.89 261.3,289.13 260.7,290.38 260.09,291.62 259.47,292.85 258.84,294.05 258.21,295.19 257.56,296.28 256.91,297.32 256.25,298.34 255.58,299.33 254.9,300.3 254.21,301.26 253.52,302.22 252.81,303.16 252.1,304.1 251.38,305.02 250.65,305.93 249.92,306.82 249.17,307.7 248.42,308.56 247.66,309.41 246.89,310.25 246.11,311.08 245.33,311.91 244.53,312.73 243.73,313.55 242.93,314.35 242.11,315.15 241.29,315.93 240.45,316.71 239.62,317.48 238.77,318.23 237.91,318.97 237.05,319.7 236.18,320.41 235.3,321.11 234.42,321.79 233.53,322.45 232.63,323.12 231.72,323.78 230.81,324.44 229.88,325.09 228.95,325.75 228.02,326.39 227.07,327.03 226.12,327.66 225.16,328.28 224.2,328.89 223.23,329.49 222.25,330.08 221.26,330.65 220.26,331.21 219.26,331.75 218.25,332.28 217.24,332.8 216.21,333.31 215.18,333.82 214.15,334.34 213.1,334.86 212.05,335.38 210.99,335.91 209.93,336.44 208.86,336.99 207.78,337.54 206.69,338.1 205.6,338.65 204.5,339.19 203.4,339.72 202.28,340.24 201.16,340.76 200.04,341.27 198.9,341.76 197.76,342.23 196.62,342.67 195.46,343.11 194.3,343.54 193.14,343.98 191.96,344.44 190.78,344.92 189.6,345.43 188.4,345.94 187.2,346.41 186,346.82 184.78,347.2 183.56,347.56 182.34,347.89 181.1,348.2 179.87,348.49 178.62,348.76 177.37,349.03 176.11,349.29 174.84,349.5 173.57,349.67 172.29,349.78 171.01,349.88 169.72,349.96 168.42,350.04 167.12,350.1 165.81,350.06 164.49,349.94 163.17,349.77 161.84,349.6 160.51,349.46 159.16,349.31 157.82,349.16 156.46,349 155.1,348.83 153.74,348.65 152.36,348.46 150.99,348.26 149.6,348.04 148.21,347.82 146.81,347.58 145.41,347.33 144,347.06 142.58,346.78 141.16,346.48 139.73,346.16 138.3,345.84 136.86,345.5 135.41,345.14 133.96,344.76 132.5,344.37M132.5,348.94 133.96,347.98 135.41,347.07 136.86,346.25 138.3,345.55 139.73,344.93 141.16,344.36 142.58,343.83 144,343.33 145.41,342.85 146.81,342.37 148.21,341.89 149.6,341.41 150.99,340.94 152.36,340.48 153.74,340.03 155.1,339.58 156.46,339.14 157.82,338.71 159.16,338.27 160.51,337.83 161.84,337.37 163.17,336.92 164.49,336.46 165.81,336 167.12,335.54 168.42,335.06 169.72,334.58 171.01,334.08 172.29,333.56 173.57,333.03 174.84,332.49 176.11,331.95 177.37,331.39 178.62,330.81 179.87,330.2 181.1,329.54 182.34,328.81 183.56,327.98 184.78,327.06 186,326.07 187.2,325 188.4,323.86 189.6,322.59 190.78,321.24 191.96,319.83 193.14,318.36 194.3,316.86 195.46,315.27 196.62,313.6 197.76,311.87 198.9,310.07 200.04,308.21 201.16,306.29 202.28,304.29 203.4,302.24 204.5,300.1 205.6,297.95 206.69,295.9 207.78,293.91 208.86,291.83 209.93,289.54 210.99,287.12 212.05,284.7 213.1,282.29 214.15,279.9 215.18,277.72 216.21,275.78 217.24,273.88 218.25,271.8 219.26,269.57 220.26,267.27 221.26,264.92 222.25,262.52 223.23,260.06 224.2,257.51 225.16,254.88 226.12,252.35 227.07,249.95 228.02,247.64 228.95,245.39 229.88,243.15 230.81,240.82 231.72,238.53 232.63,236.52 233.53,234.63 234.42,232.9 235.3,231.31 236.18,229.77 237.05,228.31 237.91,226.96 238.77,225.7 239.62,224.49 240.45,223.36 241.29,222.45 242.11,221.69 242.93,220.97 243.73,220.41 244.53,219.92 245.33,219.41 246.11,218.92 246.89,218.45 247.66,218.01 248.42,217.61 249.17,217.23 249.92,216.87 250.65,216.53 251.38,216.18 252.1,215.82 252.81,215.49 253.52,215.15 254.21,214.78 254.9,214.46 255.58,214.4 256.25,214.29 256.91,213.78 257.56,212.7 258.21,211.61 258.84,210.58 259.47,209.6 260.09,208.65 260.7,207.72 261.3,206.8 261.89,205.88 262.48,204.96 263.05,204.02 263.62,203.09 264.17,202.16 264.72,201.24 265.26,200.32 265.79,199.42 266.31,198.53 266.81,197.66 267.31,196.8 267.81,195.97 268.29,195.16 268.76,194.37 269.22,193.6 269.67,192.84 270.11,192.1 270.54,191.38 270.96,190.67 271.37,189.99 271.77,189.32 272.16,188.68 272.54,188.06 272.9,187.46 273.26,186.87 273.61,186.31 273.94,185.76 274.26,185.24 274.57,184.73 274.87,184.25 275.16,183.79 275.43,183.34 275.69,182.92 275.94,182.52 276.18,182.14 276.4,181.78 276.61,181.45 276.81,181.14 276.99,180.85 277.15,180.59 277.3,180.35 277.43,180.14 277.55,179.95 277.65,179.8 277.72,179.68 277.78,179.59 277.8,179.55 277.8,178.54 277.78,182.44 277.72,190.37 277.65,197.32 277.55,203.56 277.43,208.86 277.3,213.27 277.15,217.42 276.99,221.21 276.81,224.58 276.61,227.51 276.4,230.19 276.18,232.75 275.94,235.17 275.69,237.44 275.43,239.55 275.16,241.51 274.87,243.32 274.57,245.04 274.26,246.73 273.94,248.42 273.61,250.14 273.26,251.89 272.9,253.67 272.54,255.52 272.16,257.49 271.77,259.76 271.37,262.14 270.96,264.38 270.54,266.52 270.11,268.6 269.67,270.62 269.22,272.54 268.76,274.37 268.29,276.19 267.81,277.96 267.31,279.63 266.81,281.16 266.31,282.5 265.79,283.76 265.26,284.98 264.72,286.18 264.17,287.36 263.62,288.52 263.05,289.69 262.48,290.88 261.89,292.11 261.3,293.38 260.7,294.68 260.09,295.97 259.47,297.25 258.84,298.49 258.21,299.66 257.56,300.76 256.91,301.81 256.25,302.83 255.58,303.82 254.9,304.79 254.21,305.75 253.52,306.7 252.81,307.65 252.1,308.59 251.38,309.51 250.65,310.42 249.92,311.31 249.17,312.18 248.42,313.04 247.66,313.88 246.89,314.71 246.11,315.53 245.33,316.35 244.53,317.16 243.73,317.95 242.93,318.74 242.11,319.52 241.29,320.29 240.45,321.05 239.62,321.8 238.77,322.54 237.91,323.26 237.05,323.97 236.18,324.67 235.3,325.35 234.42,326.02 233.53,326.68 232.63,327.34 231.72,328 230.81,328.65 229.88,329.31 228.95,329.96 228.02,330.6 227.07,331.25 226.12,331.88 225.16,332.51 224.2,333.13 223.23,333.74 222.25,334.35 221.26,334.94 220.26,335.52 219.26,336.08 218.25,336.64 217.24,337.19 216.21,337.73 215.18,338.28 214.15,338.82 213.1,339.38 212.05,339.95 210.99,340.52 209.93,341.12 208.86,341.73 207.78,342.36 206.69,342.99 205.6,343.62 204.5,344.25 203.4,344.87 202.28,345.49 201.16,346.11 200.04,346.73 198.9,347.32 197.76,347.9 196.62,348.45 195.46,348.99 194.3,349.53 193.14,350.08 191.96,350.66 190.78,351.28 189.6,351.94 188.4,352.59 187.2,353.2 186,353.72 184.78,354.2 183.56,354.65 182.34,355.07 181.1,355.46 179.87,355.81 178.62,356.15 177.37,356.49 176.11,356.8 174.84,357.06 173.57,357.26 172.29,357.37 171.01,357.47 169.72,357.55 168.42,357.63 167.12,357.68 165.81,357.59 164.49,357.39 163.17,357.12 161.84,356.84 160.51,356.61 159.16,356.38 157.82,356.13 156.46,355.87 155.1,355.6 153.74,355.31 152.36,355.02 150.99,354.7 149.6,354.38 148.21,354.03 146.81,353.67 145.41,353.29 144,352.89 142.58,352.46 141.16,352.01 139.73,351.55 138.3,351.07 136.86,350.57 135.41,350.05 133.96,349.51 132.5,348.94M132.5,353.15 133.96,351.93 135.41,350.79 136.86,349.75 138.3,348.88 139.73,348.11 141.16,347.4 142.58,346.74 144,346.12 145.41,345.52 146.81,344.93 148.21,344.34 149.6,343.74 150.99,343.17 152.36,342.6 153.74,342.05 155.1,341.51 156.46,340.98 157.82,340.44 159.16,339.91 160.51,339.37 161.84,338.83 163.17,338.28 164.49,337.73 165.81,337.18 167.12,336.63 168.42,336.07 169.72,335.49 171.01,334.91 172.29,334.3 173.57,333.68 174.84,333.05 176.11,332.41 177.37,331.76 178.62,331.09 179.87,330.38 181.1,329.61 182.34,328.75 183.56,327.79 184.78,326.72 186,325.56 187.2,324.31 188.4,322.97 189.6,321.49 190.78,319.91 191.96,318.24 193.14,316.52 194.3,314.76 195.46,312.9 196.62,310.94 197.76,308.92 198.9,306.84 200.04,304.68 201.16,302.46 202.28,300.16 203.4,297.8 204.5,295.34 205.6,292.86 206.69,290.52 207.78,288.27 208.86,285.91 209.93,283.31 210.99,280.56 212.05,277.83 213.1,275.11 214.15,272.44 215.18,270.03 216.21,267.95 217.24,265.91 218.25,263.65 219.26,261.23 220.26,258.72 221.26,256.17 222.25,253.57 223.23,250.91 224.2,248.14 225.16,245.27 226.12,242.53 227.07,239.97 228.02,237.51 228.95,235.14 229.88,232.8 230.81,230.35 231.72,227.96 232.63,225.93 233.53,224.05 234.42,222.38 235.3,220.89 236.18,219.45 237.05,218.12 237.91,216.93 238.77,215.85 239.62,214.84 240.45,213.93 241.29,213.31 242.11,212.87 242.93,212.49 243.73,212.29 244.53,212.19 245.33,212.08 246.11,211.97 246.89,211.88 247.66,211.84 248.42,211.85 249.17,211.89 249.92,211.96 250.65,212.05 251.38,212.16 252.1,212.28 252.81,212.45 253.52,212.62 254.21,212.76 254.9,212.94 255.58,213.43 256.25,213.83 256.91,213.68 257.56,212.76 258.21,211.79 258.84,210.88 259.47,210.01 260.09,209.17 260.7,208.35 261.3,207.53 261.89,206.72 262.48,205.89 263.05,205.04 263.62,204.19 264.17,203.34 264.72,202.49 265.26,201.64 265.79,200.81 266.31,199.98 266.81,199.18 267.31,198.39 267.81,197.62 268.29,196.88 268.76,196.15 269.22,195.44 269.67,194.75 270.11,194.07 270.54,193.4 270.96,192.76 271.37,192.13 271.77,191.52 272.16,190.93 272.54,190.36 272.9,189.81 273.26,189.28 273.61,188.76 273.94,188.27 274.26,187.79 274.57,187.33 274.87,186.88 275.16,186.46 275.43,186.06 275.69,185.67 275.94,185.31 276.18,184.96 276.4,184.63 276.61,184.33 276.81,184.05 276.99,183.78 277.15,183.54 277.3,183.33 277.43,183.14 277.55,182.97 277.65,182.83 277.72,182.72 277.78,182.64 277.8,182.61 277.8,181.7 277.78,185.37 277.72,192.85 277.65,199.48 277.55,205.4 277.43,210.45 277.3,214.65 277.15,218.62 276.99,222.25 276.81,225.48 276.61,228.31 276.4,230.93 276.18,233.43 275.94,235.81 275.69,238.04 275.43,240.12 275.16,242.05 274.87,243.84 274.57,245.55 274.26,247.23 273.94,248.92 273.61,250.67 273.26,252.48 272.9,254.35 272.54,256.32 272.16,258.47 271.77,261.02 271.37,263.73 270.96,266.25 270.54,268.66 270.11,271.01 269.67,273.28 269.22,275.43 268.76,277.48 268.29,279.52 267.81,281.49 267.31,283.35 266.81,285.03 266.31,286.46 265.79,287.78 265.26,289.04 264.72,290.26 264.17,291.45 263.62,292.62 263.05,293.8 262.48,295 261.89,296.25 261.3,297.56 260.7,298.9 260.09,300.24 259.47,301.57 258.84,302.84 258.21,304.04 257.56,305.15 256.91,306.21 256.25,307.23 255.58,308.22 254.9,309.19 254.21,310.15 253.52,311.1 252.81,312.05 252.1,312.99 251.38,313.92 250.65,314.83 249.92,315.72 249.17,316.58 248.42,317.43 247.66,318.27 246.89,319.09 246.11,319.9 245.33,320.7 244.53,321.5 243.73,322.28 242.93,323.05 242.11,323.81 241.29,324.57 240.45,325.31 239.62,326.04 238.77,326.76 237.91,327.47 237.05,328.16 236.18,328.84 235.3,329.51 234.42,330.17 233.53,330.82 232.63,331.48 231.72,332.13 230.81,332.79 229.88,333.44 228.95,334.09 228.02,334.74 227.07,335.39 226.12,336.03 225.16,336.66 224.2,337.29 223.23,337.92 222.25,338.53 221.26,339.14 220.26,339.74 219.26,340.33 218.25,340.92 217.24,341.49 216.21,342.07 215.18,342.64 214.15,343.23 213.1,343.82 212.05,344.43 210.99,345.05 209.93,345.71 208.86,346.38 207.78,347.08 206.69,347.79 205.6,348.51 204.5,349.22 203.4,349.93 202.28,350.64 201.16,351.36 200.04,352.08 198.9,352.78 197.76,353.46 196.62,354.11 195.46,354.76 194.3,355.41 193.14,356.07 191.96,356.76 190.78,357.52 189.6,358.32 188.4,359.12 187.2,359.86 186,360.49 184.78,361.07 183.56,361.61 182.34,362.12 181.1,362.58 179.87,362.99 178.62,363.4 177.37,363.8 176.11,364.17 174.84,364.48 173.57,364.7 172.29,364.82 171.01,364.92 169.72,365 168.42,365.07 167.12,365.11 165.81,364.98 164.49,364.7 163.17,364.32 161.84,363.95 160.51,363.63 159.16,363.31 157.82,362.97 156.46,362.61 155.1,362.24 153.74,361.85 152.36,361.45 150.99,361.03 149.6,360.59 148.21,360.13 146.81,359.65 145.41,359.14 144,358.6 142.58,358.04 141.16,357.45 139.73,356.83 138.3,356.2 136.86,355.55 135.41,354.87 133.96,354.16 132.5,353.43M132.5,357.09 133.96,355.64 135.41,354.26 136.86,353.03 138.3,351.99 139.73,351.08 141.16,350.24 142.58,349.46 144,348.72 145.41,348.02 146.81,347.33 148.21,346.63 149.6,345.93 150.99,345.25 152.36,344.6 153.74,343.95 155.1,343.32 156.46,342.69 157.82,342.07 159.16,341.45 160.51,340.82 161.84,340.18 163.17,339.55 164.49,338.92 165.81,338.29 167.12,337.65 168.42,337.01 169.72,336.35 171.01,335.68 172.29,335 173.57,334.29 174.84,333.57 176.11,332.85 177.37,332.11 178.62,331.35 179.87,330.55 181.1,329.67 182.34,328.7 183.56,327.61 184.78,326.4 186,325.08 187.2,323.67 188.4,322.15 189.6,320.46 190.78,318.66 191.96,316.76 193.14,314.8 194.3,312.8 195.46,310.67 196.62,308.44 197.76,306.16 198.9,303.81 200.04,301.38 201.16,298.88 202.28,296.3 203.4,293.65 204.5,290.88 205.6,288.1 206.69,285.49 207.78,282.99 208.86,280.38 209.93,277.49 210.99,274.42 212.05,271.4 213.1,268.39 214.15,265.46 215.18,262.84 216.21,260.62 217.24,258.46 218.25,256.03 219.26,253.42 220.26,250.72 221.26,247.99 222.25,245.2 223.23,242.35 224.2,239.37 225.16,236.28 226.12,233.35 227.07,230.63 228.02,228.04 228.95,225.56 229.88,223.12 230.81,220.56 231.72,218.08 232.63,216.02 233.53,214.15 234.42,212.54 235.3,211.14 236.18,209.8 237.05,208.59 237.91,207.54 238.77,206.64 239.62,205.82 240.45,205.12 241.29,204.77 242.11,204.62 242.93,204.55 243.73,204.7 244.53,204.97 245.33,205.22 246.11,205.46 246.89,205.74 247.66,206.07 248.42,206.46 249.17,206.89 249.92,207.36 250.65,207.87 251.38,208.4 252.1,208.97 252.81,209.61 253.52,210.27 254.21,210.88 254.9,211.52 255.58,212.53 256.25,213.4 256.91,213.58 257.56,212.81 258.21,211.97 258.84,211.17 259.47,210.41 260.09,209.67 260.7,208.94 261.3,208.22 261.89,207.49 262.48,206.75 263.05,206 263.62,205.22 264.17,204.44 264.72,203.66 265.26,202.88 265.79,202.1 266.31,201.34 266.81,200.6 267.31,199.87 267.81,199.17 268.29,198.49 268.76,197.82 269.22,197.17 269.67,196.53 270.11,195.91 270.54,195.3 270.96,194.71 271.37,194.14 271.77,193.58 272.16,193.04 272.54,192.52 272.9,192.02 273.26,191.53 273.61,191.06 273.94,190.61 274.26,190.17 274.57,189.75 274.87,189.35 275.16,188.96 275.43,188.59 275.69,188.24 275.94,187.91 276.18,187.6 276.4,187.3 276.61,187.03 276.81,186.77 276.99,186.53 277.15,186.31 277.3,186.12 277.43,185.94 277.55,185.79 277.65,185.66 277.72,185.56 277.78,185.49 277.8,185.46 277.8,184.66 277.78,188.11 277.72,195.16 277.65,201.5 277.55,207.12 277.43,211.93 277.3,215.95 277.15,219.74 276.99,223.22 276.81,226.32 276.61,229.07 276.4,231.62 276.18,234.07 275.94,236.4 275.69,238.6 275.43,240.66 275.16,242.57 274.87,244.34 274.57,246.02 274.26,247.69 273.94,249.38 273.61,251.16 273.26,253.03 272.9,254.98 272.54,257.06 272.16,259.38 271.77,262.2 271.37,265.22 270.96,268.01 270.54,270.67 270.11,273.26 269.67,275.76 269.22,278.13 268.76,280.39 268.29,282.63 267.81,284.8 267.31,286.84 266.81,288.65 266.31,290.16 265.79,291.54 265.26,292.83 264.72,294.08 264.17,295.28 263.62,296.45 263.05,297.64 262.48,298.85 261.89,300.12 261.3,301.47 260.7,302.85 260.09,304.24 259.47,305.6 258.84,306.92 258.21,308.14 257.56,309.26 256.91,310.33 256.25,311.35 255.58,312.34 254.9,313.3 254.21,314.26 253.52,315.21 252.81,316.17 252.1,317.11 251.38,318.04 250.65,318.95 249.92,319.84 249.17,320.7 248.42,321.54 247.66,322.37 246.89,323.18 246.11,323.98 245.33,324.78 244.53,325.56 243.73,326.32 242.93,327.08 242.11,327.83 241.29,328.56 240.45,329.29 239.62,330.01 238.77,330.71 237.91,331.4 237.05,332.08 236.18,332.75 235.3,333.41 234.42,334.06 233.53,334.7 232.63,335.35 231.72,336 230.81,336.66 229.88,337.31 228.95,337.96 228.02,338.61 227.07,339.26 226.12,339.9 225.16,340.55 224.2,341.19 223.23,341.82 222.25,342.45 221.26,343.08 220.26,343.7 219.26,344.31 218.25,344.92 217.24,345.52 216.21,346.12 215.18,346.73 214.15,347.34 213.1,347.97 212.05,348.62 210.99,349.29 209.93,350 208.86,350.74 207.78,351.5 206.69,352.28 205.6,353.08 204.5,353.86 203.4,354.65 202.28,355.46 201.16,356.27 200.04,357.08 198.9,357.88 197.76,358.66 196.62,359.41 195.46,360.15 194.3,360.9 193.14,361.67 191.96,362.47 190.78,363.35 189.6,364.29 188.4,365.23 187.2,366.09 186,366.82 184.78,367.5 183.56,368.12 182.34,368.71 181.1,369.24 179.87,369.71 178.62,370.18 177.37,370.64 176.11,371.07 174.84,371.42 173.57,371.66 172.29,371.78 171.01,371.88 169.72,371.97 168.42,372.03 167.12,372.07 165.81,371.9 164.49,371.53 163.17,371.07 161.84,370.6 160.51,370.2 159.16,369.79 157.82,369.36 156.46,368.92 155.1,368.46 153.74,367.97 152.36,367.47 150.99,366.95 149.6,366.4 148.21,365.83 146.81,365.24 145.41,364.61 144,363.95 142.58,363.25 141.16,362.53 139.73,361.78 138.3,361.01 136.86,360.21 135.41,359.37 133.96,358.51 132.5,357.62M132.5,360.69 133.96,359.01 135.41,357.44 136.86,356.03 138.3,354.84 139.73,353.79 141.16,352.83 142.58,351.94 144,351.1 145.41,350.3 146.81,349.51 148.21,348.72 149.6,347.93 150.99,347.16 152.36,346.41 153.74,345.68 155.1,344.97 156.46,344.26 157.82,343.55 159.16,342.85 160.51,342.14 161.84,341.42 163.17,340.71 164.49,340 165.81,339.29 167.12,338.58 168.42,337.86 169.72,337.13 171.01,336.39 172.29,335.63 173.57,334.84 174.84,334.04 176.11,333.25 177.37,332.44 178.62,331.59 179.87,330.7 181.1,329.73 182.34,328.66 183.56,327.45 184.78,326.11 186,324.65 187.2,323.08 188.4,321.39 189.6,319.52 190.78,317.51 191.96,315.4 193.14,313.23 194.3,311.01 195.46,308.64 196.62,306.17 197.76,303.64 198.9,301.04 200.04,298.37 201.16,295.61 202.28,292.77 203.4,289.85 204.5,286.8 205.6,283.75 206.69,280.89 207.78,278.17 208.86,275.32 209.93,272.17 210.99,268.82 212.05,265.52 213.1,262.26 214.15,259.08 215.18,256.27 216.21,253.93 217.24,251.65 218.25,249.07 219.26,246.3 220.26,243.42 221.26,240.52 222.25,237.56 223.23,234.53 224.2,231.36 225.16,228.08 226.12,224.97 227.07,222.11 228.02,219.39 228.95,216.81 229.88,214.29 230.81,211.62 231.72,209.05 232.63,206.98 233.53,205.12 234.42,203.56 235.3,202.23 236.18,200.99 237.05,199.89 237.91,198.97 238.77,198.23 239.62,197.58 240.45,197.07 241.29,196.96 242.11,197.08 242.93,197.3 243.73,197.77 244.53,198.37 245.33,198.95 246.11,199.52 246.89,200.13 247.66,200.8 248.42,201.54 249.17,202.33 249.92,203.16 250.65,204.04 251.38,204.96 252.1,205.94 252.81,207.02 253.52,208.11 254.21,209.15 254.9,210.23 255.58,211.71 256.25,213.01 256.91,213.49 257.56,212.87 258.21,212.13 258.84,211.43 259.47,210.76 260.09,210.11 260.7,209.48 261.3,208.84 261.89,208.2 262.48,207.55 263.05,206.87 263.62,206.16 264.17,205.45 264.72,204.73 265.26,204.01 265.79,203.29 266.31,202.58 266.81,201.89 267.31,201.22 267.81,200.58 268.29,199.95 268.76,199.34 269.22,198.75 269.67,198.16 270.11,197.59 270.54,197.03 270.96,196.49 271.37,195.97 271.77,195.46 272.16,194.96 272.54,194.49 272.9,194.03 273.26,193.59 273.61,193.16 273.94,192.74 274.26,192.35 274.57,191.96 274.87,191.6 275.16,191.25 275.43,190.91 275.69,190.59 275.94,190.29 276.18,190.01 276.4,189.74 276.61,189.49 276.81,189.25 276.99,189.04 277.15,188.84 277.3,188.66 277.43,188.5 277.55,188.36 277.65,188.25 277.72,188.16 277.78,188.1 277.8,188.07 277.8,187.36 277.78,190.61 277.72,197.28 277.65,203.35 277.55,208.69 277.43,213.28 277.3,217.14 277.15,220.77 276.99,224.1 276.81,227.09 276.61,229.75 276.4,232.25 276.18,234.65 275.94,236.94 275.69,239.11 275.43,241.14 275.16,243.04 274.87,244.79 274.57,246.46 274.26,248.11 273.94,249.8 273.61,251.61 273.26,253.53 272.9,255.55 272.54,257.75 272.16,260.22 271.77,263.27 271.37,266.57 270.96,269.61 270.54,272.5 270.11,275.32 269.67,278.04 269.22,280.6 268.76,283.04 268.29,285.47 267.81,287.83 267.31,290.02 266.81,291.95 266.31,293.55 265.79,294.97 265.26,296.3 264.72,297.56 264.17,298.77 263.62,299.96 263.05,301.14 262.48,302.36 261.89,303.66 261.3,305.03 260.7,306.45 260.09,307.88 259.47,309.29 258.84,310.64 258.21,311.88 257.56,313.02 256.91,314.09 256.25,315.11 255.58,316.1 254.9,317.06 254.21,318.02 253.52,318.97 252.81,319.93 252.1,320.87 251.38,321.8 250.65,322.71 249.92,323.6 249.17,324.46 248.42,325.3 247.66,326.12 246.89,326.92 246.11,327.71 245.33,328.49 244.53,329.26 243.73,330.02 242.93,330.76 242.11,331.49 241.29,332.21 240.45,332.93 239.62,333.63 238.77,334.32 237.91,334.99 237.05,335.66 236.18,336.31 235.3,336.96 234.42,337.6 233.53,338.24 232.63,338.89 231.72,339.54 230.81,340.19 229.88,340.84 228.95,341.49 228.02,342.14 227.07,342.79 226.12,343.44 225.16,344.1 224.2,344.74 223.23,345.39 222.25,346.03 221.26,346.67 220.26,347.3 219.26,347.94 218.25,348.57 217.24,349.2 216.21,349.82 215.18,350.46 214.15,351.1 213.1,351.76 212.05,352.45 210.99,353.16 209.93,353.91 208.86,354.71 207.78,355.54 206.69,356.39 205.6,357.25 204.5,358.11 203.4,358.97 202.28,359.86 201.16,360.75 200.04,361.65 198.9,362.54 197.76,363.41 196.62,364.25 195.46,365.08 194.3,365.92 193.14,366.78 191.96,367.69 190.78,368.68 189.6,369.75 188.4,370.81 187.2,371.78 186,372.61 184.78,373.36 183.56,374.07 182.34,374.72 181.1,375.32 179.87,375.85 178.62,376.37 177.37,376.89 176.11,377.36 174.84,377.75 173.57,378.02 172.29,378.15 171.01,378.24 169.72,378.33 168.42,378.39 167.12,378.42 165.81,378.21 164.49,377.77 163.17,377.22 161.84,376.67 160.51,376.19 159.16,375.71 157.82,375.2 156.46,374.68 155.1,374.13 153.74,373.56 152.36,372.97 150.99,372.35 149.6,371.71 148.21,371.04 146.81,370.34 145.41,369.61 144,368.83 142.58,368.02 141.16,367.17 139.73,366.29 138.3,365.39 136.86,364.46 135.41,363.49 133.96,362.49 132.5,361.45M132.5,363.93 133.96,362.06 135.41,360.3 136.86,358.73 138.3,357.4 139.73,356.23 141.16,355.17 142.58,354.18 144,353.25 145.41,352.36 146.81,351.49 148.21,350.61 149.6,349.73 150.99,348.88 152.36,348.05 153.74,347.24 155.1,346.45 156.46,345.67 157.82,344.89 159.16,344.11 160.51,343.33 161.84,342.54 163.17,341.75 164.49,340.98 165.81,340.2 167.12,339.42 168.42,338.64 169.72,337.84 171.01,337.03 172.29,336.2 173.57,335.34 174.84,334.47 176.11,333.6 177.37,332.72 178.62,331.81 179.87,330.84 181.1,329.78 182.34,328.62 183.56,327.3 184.78,325.84 186,324.25 187.2,322.55 188.4,320.71 189.6,318.67 190.78,316.48 191.96,314.18 193.14,311.82 194.3,309.39 195.46,306.81 196.62,304.11 197.76,301.37 198.9,298.55 200.04,295.65 201.16,292.66 202.28,289.59 203.4,286.43 204.5,283.13 205.6,279.83 206.69,276.75 207.78,273.82 208.86,270.76 209.93,267.37 210.99,263.76 212.05,260.23 213.1,256.73 214.15,253.34 215.18,250.35 216.21,247.89 217.24,245.51 218.25,242.8 219.26,239.87 220.26,236.84 221.26,233.78 222.25,230.67 223.23,227.48 224.2,224.14 225.16,220.68 226.12,217.41 227.07,214.42 228.02,211.6 228.95,208.93 229.88,206.32 230.81,203.56 231.72,200.91 232.63,198.82 233.53,196.97 234.42,195.45 235.3,194.2 236.18,193.05 237.05,192.04 237.91,191.25 238.77,190.64 239.62,190.15 240.45,189.81 241.29,189.92 242.11,190.29 242.93,190.76 243.73,191.52 244.53,192.43 245.33,193.3 246.11,194.17 246.89,195.08 247.66,196.05 248.42,197.1 249.17,198.21 249.92,199.38 250.65,200.6 251.38,201.87 252.1,203.21 252.81,204.68 253.52,206.17 254.21,207.6 254.9,209.06 255.58,210.96 256.25,212.65 256.91,213.42 257.56,212.91 258.21,212.27 258.84,211.67 259.47,211.08 260.09,210.52 260.7,209.96 261.3,209.41 261.89,208.84 262.48,208.27 263.05,207.65 263.62,207.01 264.17,206.36 264.72,205.69 265.26,205.02 265.79,204.36 266.31,203.7 266.81,203.06 267.31,202.44 267.81,201.85 268.29,201.28 268.76,200.72 269.22,200.17 269.67,199.63 270.11,199.11 270.54,198.6 270.96,198.1 271.37,197.62 271.77,197.15 272.16,196.7 272.54,196.26 272.9,195.84 273.26,195.44 273.61,195.05 273.94,194.67 274.26,194.31 274.57,193.96 274.87,193.63 275.16,193.31 275.43,193 275.69,192.71 275.94,192.44 276.18,192.18 276.4,191.93 276.61,191.71 276.81,191.49 276.99,191.3 277.15,191.12 277.3,190.96 277.43,190.81 277.55,190.69 277.65,190.58 277.72,190.5 277.78,190.44 277.8,190.42 277.8,189.8 277.78,192.87 277.72,199.19 277.65,205.02 277.55,210.11 277.43,214.5 277.3,218.21 277.15,221.69 276.99,224.9 276.81,227.78 276.61,230.37 276.4,232.82 276.18,235.18 275.94,237.43 275.69,239.57 275.43,241.58 275.16,243.46 274.87,245.19 274.57,246.85 274.26,248.49 273.94,250.19 273.61,252.01 273.26,253.98 272.9,256.07 272.54,258.36 272.16,260.98 271.77,264.25 271.37,267.8 270.96,271.06 270.54,274.15 270.11,277.17 269.67,280.08 269.22,282.83 268.76,285.44 268.29,288.04 267.81,290.55 267.31,292.89 266.81,294.93 266.31,296.59 265.79,298.06 265.26,299.42 264.72,300.7 264.17,301.92 263.62,303.11 263.05,304.3 262.48,305.53 261.89,306.85 261.3,308.25 260.7,309.7 260.09,311.17 259.47,312.61 258.84,313.99 258.21,315.26 257.56,316.4 256.91,317.48 256.25,318.5 255.58,319.49 254.9,320.45 254.21,321.4 253.52,322.36 252.81,323.32 252.1,324.26 251.38,325.19 250.65,326.11 249.92,326.99 249.17,327.85 248.42,328.68 247.66,329.49 246.89,330.29 246.11,331.08 245.33,331.85 244.53,332.61 243.73,333.35 242.93,334.08 242.11,334.8 241.29,335.51 240.45,336.21 239.62,336.89 238.77,337.57 237.91,338.23 237.05,338.89 236.18,339.53 235.3,340.17 234.42,340.8 233.53,341.44 232.63,342.08 231.72,342.72 230.81,343.37 229.88,344.02 228.95,344.67 228.02,345.33 227.07,345.98 226.12,346.64 225.16,347.29 224.2,347.95 223.23,348.6 222.25,349.26 221.26,349.91 220.26,350.56 219.26,351.21 218.25,351.86 217.24,352.51 216.21,353.16 215.18,353.82 214.15,354.49 213.1,355.18 212.05,355.9 210.99,356.65 209.93,357.45 208.86,358.29 207.78,359.17 206.69,360.08 205.6,361.01 204.5,361.93 203.4,362.87 202.28,363.82 201.16,364.8 200.04,365.77 198.9,366.74 197.76,367.69 196.62,368.61 195.46,369.53 194.3,370.45 193.14,371.39 191.96,372.39 190.78,373.48 189.6,374.66 188.4,375.84 187.2,376.92 186,377.82 184.78,378.65 183.56,379.43 182.34,380.15 181.1,380.8 179.87,381.38 178.62,381.96 177.37,382.52 176.11,383.04 174.84,383.46 173.57,383.75 172.29,383.88 171.01,383.98 169.72,384.06 168.42,384.12 167.12,384.15 165.81,383.9 164.49,383.4 163.17,382.78 161.84,382.15 160.51,381.6 159.16,381.05 157.82,380.47 156.46,379.87 155.1,379.25 153.74,378.6 152.36,377.93 150.99,377.23 149.6,376.5 148.21,375.74 146.81,374.94 145.41,374.11 144,373.23 142.58,372.31 141.16,371.35 139.73,370.36 138.3,369.35 136.86,368.29 135.41,367.2 133.96,366.07 132.5,364.9M132.5,366.81 133.96,364.77 135.41,362.85 136.86,361.13 138.3,359.68 139.73,358.41 141.16,357.24 142.58,356.17 144,355.16 145.41,354.19 146.81,353.24 148.21,352.28 149.6,351.33 150.99,350.4 152.36,349.51 153.74,348.63 155.1,347.77 156.46,346.92 157.82,346.08 159.16,345.24 160.51,344.39 161.84,343.53 163.17,342.68 164.49,341.84 165.81,341.01 167.12,340.17 168.42,339.32 169.72,338.47 171.01,337.6 172.29,336.7 173.57,335.79 174.84,334.85 176.11,333.92 177.37,332.98 178.62,332 179.87,330.96 181.1,329.83 182.34,328.58 183.56,327.17 184.78,325.61 186,323.91 187.2,322.08 188.4,320.11 189.6,317.92 190.78,315.57 191.96,313.1 193.14,310.56 194.3,307.95 195.46,305.18 196.62,302.29 197.76,299.35 198.9,296.33 200.04,293.23 201.16,290.05 202.28,286.76 203.4,283.39 204.5,279.87 205.6,276.34 206.69,273.07 207.78,269.96 208.86,266.72 209.93,263.11 210.99,259.28 212.05,255.52 213.1,251.82 214.15,248.23 215.18,245.09 216.21,242.53 217.24,240.06 218.25,237.23 219.26,234.16 220.26,230.99 221.26,227.8 222.25,224.55 223.23,221.22 224.2,217.73 225.16,214.1 226.12,210.69 227.07,207.59 228.02,204.67 228.95,201.92 229.88,199.24 230.81,196.39 231.72,193.68 232.63,191.58 233.53,189.73 234.42,188.26 235.3,187.07 236.18,185.99 237.05,185.07 237.91,184.39 238.77,183.9 239.62,183.55 240.45,183.36 241.29,183.67 242.11,184.26 242.93,184.96 243.73,185.97 244.53,187.14 245.33,188.28 246.11,189.41 246.89,190.59 247.66,191.83 248.42,193.16 249.17,194.55 249.92,196.01 250.65,197.54 251.38,199.12 252.1,200.79 252.81,202.6 253.52,204.44 254.21,206.22 254.9,208.02 255.58,210.3 256.25,212.34 256.91,213.35 257.56,212.95 258.21,212.4 258.84,211.88 259.47,211.37 260.09,210.88 260.7,210.39 261.3,209.9 261.89,209.41 262.48,208.9 263.05,208.35 263.62,207.77 264.17,207.16 264.72,206.55 265.26,205.93 265.79,205.31 266.31,204.7 266.81,204.1 267.31,203.53 267.81,202.98 268.29,202.45 268.76,201.93 269.22,201.43 269.67,200.94 270.11,200.45 270.54,199.98 270.96,199.53 271.37,199.08 271.77,198.65 272.16,198.24 272.54,197.84 272.9,197.46 273.26,197.09 273.61,196.73 273.94,196.38 274.26,196.05 274.57,195.73 274.87,195.43 275.16,195.14 275.43,194.86 275.69,194.59 275.94,194.34 276.18,194.11 276.4,193.89 276.61,193.68 276.81,193.48 276.99,193.31 277.15,193.14 277.3,192.99 277.43,192.86 277.55,192.75 277.65,192.66 277.72,192.58 277.78,192.53 277.8,192.51 277.8,191.96 277.78,194.87 277.72,200.88 277.65,206.5 277.55,211.37 277.43,215.58 277.3,219.16 277.15,222.52 276.99,225.61 276.81,228.4 276.61,230.92 276.4,233.32 276.18,235.65 275.94,237.87 275.69,239.98 275.43,241.97 275.16,243.84 274.87,245.56 274.57,247.2 274.26,248.83 273.94,250.53 273.61,252.37 273.26,254.38 272.9,256.54 272.54,258.91 272.16,261.65 271.77,265.11 271.37,268.88 270.96,272.34 270.54,275.62 270.11,278.82 269.67,281.9 269.22,284.81 268.76,287.56 268.29,290.31 267.81,292.97 267.31,295.43 266.81,297.58 266.31,299.3 265.79,300.81 265.26,302.2 264.72,303.49 264.17,304.72 263.62,305.92 263.05,307.11 262.48,308.35 261.89,309.68 261.3,311.11 260.7,312.59 260.09,314.09 259.47,315.57 258.84,316.97 258.21,318.26 257.56,319.41 256.91,320.49 256.25,321.52 255.58,322.5 254.9,323.46 254.21,324.41 253.52,325.37 252.81,326.33 252.1,327.28 251.38,328.21 250.65,329.12 249.92,330 249.17,330.86 248.42,331.68 247.66,332.49 246.89,333.29 246.11,334.06 245.33,334.83 244.53,335.58 243.73,336.31 242.93,337.03 242.11,337.73 241.29,338.43 240.45,339.12 239.62,339.8 238.77,340.46 237.91,341.11 237.05,341.75 236.18,342.39 235.3,343.02 234.42,343.64 233.53,344.27 232.63,344.91 231.72,345.55 230.81,346.2 229.88,346.85 228.95,347.5 228.02,348.16 227.07,348.81 226.12,349.47 225.16,350.14 224.2,350.8 223.23,351.46 222.25,352.12 221.26,352.79 220.26,353.45 219.26,354.12 218.25,354.79 217.24,355.46 216.21,356.13 215.18,356.81 214.15,357.5 213.1,358.22 212.05,358.96 210.99,359.75 209.93,360.58 208.86,361.47 207.78,362.41 206.69,363.37 205.6,364.35 204.5,365.33 203.4,366.33 202.28,367.35 201.16,368.39 200.04,369.43 198.9,370.47 197.76,371.5 196.62,372.49 195.46,373.47 194.3,374.47 193.14,375.49 191.96,376.56 190.78,377.75 189.6,379.03 188.4,380.31 187.2,381.48 186,382.46 184.78,383.36 183.56,384.19 182.34,384.97 181.1,385.67 179.87,386.3 178.62,386.92 177.37,387.53 176.11,388.08 174.84,388.54 173.57,388.84 172.29,388.98 171.01,389.08 169.72,389.16 168.42,389.22 167.12,389.24 165.81,388.96 164.49,388.4 163.17,387.71 161.84,387.01 160.51,386.4 159.16,385.79 157.82,385.15 156.46,384.48 155.1,383.79 153.74,383.08 152.36,382.33 150.99,381.56 149.6,380.75 148.21,379.91 146.81,379.03 145.41,378.11 144,377.14 142.58,376.13 141.16,375.07 139.73,373.98 138.3,372.86 136.86,371.7 135.41,370.5 133.96,369.25 132.5,367.97M132.5,369.4 133.96,367.2 135.41,365.13 136.86,363.28 138.3,361.73 139.73,360.35 141.16,359.1 142.58,357.95 144,356.87 145.41,355.83 146.81,354.81 148.21,353.79 149.6,352.76 150.99,351.77 152.36,350.81 153.74,349.88 155.1,348.96 156.46,348.05 157.82,347.15 159.16,346.25 160.51,345.34 161.84,344.42 163.17,343.52 164.49,342.62 165.81,341.73 167.12,340.84 168.42,339.94 169.72,339.03 171.01,338.11 172.29,337.16 173.57,336.19 174.84,335.19 176.11,334.21 177.37,333.21 178.62,332.17 179.87,331.07 181.1,329.87 182.34,328.55 183.56,327.06 184.78,325.4 186,323.59 187.2,321.66 188.4,319.56 189.6,317.24 190.78,314.75 191.96,312.12 193.14,309.43 194.3,306.66 195.46,303.72 196.62,300.66 197.76,297.54 198.9,294.35 200.04,291.07 201.16,287.7 202.28,284.23 203.4,280.67 204.5,276.94 205.6,273.22 206.69,269.77 207.78,266.49 208.86,263.09 209.93,259.29 210.99,255.25 212.05,251.31 213.1,247.42 214.15,243.65 215.18,240.37 216.21,237.72 217.24,235.17 218.25,232.23 219.26,229.04 220.26,225.74 221.26,222.43 222.25,219.06 223.23,215.6 224.2,211.98 225.16,208.2 226.12,204.67 227.07,201.47 228.02,198.46 228.95,195.63 229.88,192.89 230.81,189.97 231.72,187.19 232.63,185.08 233.53,183.24 234.42,181.8 235.3,180.68 236.18,179.66 237.05,178.82 237.91,178.23 238.77,177.86 239.62,177.64 240.45,177.58 241.29,178.06 242.11,178.85 242.93,179.75 243.73,180.99 244.53,182.41 245.33,183.78 246.11,185.15 246.89,186.56 247.66,188.04 248.42,189.62 249.17,191.28 249.92,193 250.65,194.79 251.38,196.65 252.1,198.62 252.81,200.74 253.52,202.9 254.21,204.98 254.9,207.09 255.58,209.71 256.25,212.05 256.91,213.28 257.56,212.99 258.21,212.52 258.84,212.06 259.47,211.63 260.09,211.2 260.7,210.78 261.3,210.35 261.89,209.92 262.48,209.47 263.05,208.97 263.62,208.44 264.17,207.89 264.72,207.32 265.26,206.74 265.79,206.16 266.31,205.59 266.81,205.04 267.31,204.5 267.81,203.99 268.29,203.5 268.76,203.03 269.22,202.56 269.67,202.11 270.11,201.66 270.54,201.23 270.96,200.81 271.37,200.4 271.77,200 272.16,199.62 272.54,199.26 272.9,198.9 273.26,198.56 273.61,198.23 273.94,197.92 274.26,197.61 274.57,197.32 274.87,197.04 275.16,196.78 275.43,196.52 275.69,196.28 275.94,196.05 276.18,195.84 276.4,195.63 276.61,195.44 276.81,195.27 276.99,195.11 277.15,194.96 277.3,194.82 277.43,194.7 277.55,194.6 277.65,194.52 277.72,194.45 277.78,194.4 277.8,194.38 277.8,193.9 277.78,196.67 277.72,202.4 277.65,207.83 277.55,212.49 277.43,216.55 277.3,220.01 277.15,223.25 276.99,226.24 276.81,228.95 276.61,231.42 276.4,233.78 276.18,236.07 275.94,238.26 275.69,240.34 275.43,242.32 275.16,244.17 274.87,245.88 274.57,247.51 274.26,249.13 273.94,250.83 273.61,252.7 273.26,254.74 272.9,256.95 272.54,259.4 272.16,262.25 271.77,265.88 271.37,269.86 270.96,273.49 270.54,276.93 270.11,280.3 269.67,283.53 269.22,286.58 268.76,289.47 268.29,292.36 267.81,295.14 267.31,297.72 266.81,299.95 266.31,301.73 265.79,303.28 265.26,304.69 264.72,306 264.17,307.23 263.62,308.43 263.05,309.63 262.48,310.88 261.89,312.22 261.3,313.67 260.7,315.18 260.09,316.71 259.47,318.21 258.84,319.64 258.21,320.94 257.56,322.11 256.91,323.19 256.25,324.22 255.58,325.21 254.9,326.16 254.21,327.11 253.52,328.07 252.81,329.03 252.1,329.98 251.38,330.91 250.65,331.82 249.92,332.71 249.17,333.55 248.42,334.38 247.66,335.19 246.89,335.97 246.11,336.74 245.33,337.5 244.53,338.24 243.73,338.96 242.93,339.67 242.11,340.37 241.29,341.05 240.45,341.73 239.62,342.4 238.77,343.05 237.91,343.69 237.05,344.32 236.18,344.95 235.3,345.57 234.42,346.19 233.53,346.82 232.63,347.45 231.72,348.09 230.81,348.74 229.88,349.38 228.95,350.04 228.02,350.69 227.07,351.35 226.12,352.02 225.16,352.68 224.2,353.35 223.23,354.02 222.25,354.69 221.26,355.37 220.26,356.04 219.26,356.73 218.25,357.41 217.24,358.1 216.21,358.79 215.18,359.49 214.15,360.2 213.1,360.94 212.05,361.71 210.99,362.53 209.93,363.4 208.86,364.33 207.78,365.31 206.69,366.32 205.6,367.35 204.5,368.38 203.4,369.43 202.28,370.51 201.16,371.61 200.04,372.72 198.9,373.82 197.76,374.91 196.62,375.97 195.46,377.01 194.3,378.07 193.14,379.16 191.96,380.31 190.78,381.58 189.6,382.95 188.4,384.32 187.2,385.56 186,386.61 184.78,387.57 183.56,388.47 182.34,389.29 181.1,390.04 179.87,390.71 178.62,391.36 177.37,392.01 176.11,392.6 174.84,393.09 173.57,393.41 172.29,393.55 171.01,393.64 169.72,393.73 168.42,393.78 167.12,393.8 165.81,393.49 164.49,392.89 163.17,392.13 161.84,391.37 160.51,390.71 159.16,390.04 157.82,389.35 156.46,388.62 155.1,387.87 153.74,387.09 152.36,386.28 150.99,385.44 149.6,384.56 148.21,383.65 146.81,382.69 145.41,381.7 144,380.65 142.58,379.55 141.16,378.4 139.73,377.22 138.3,376.01 136.86,374.75 135.41,373.45 133.96,372.11 132.5,370.72M132.5,371.67 133.96,369.34 135.41,367.14 136.86,365.18 138.3,363.53 139.73,362.07 141.16,360.74 142.58,359.52 144,358.37 145.41,357.27 146.81,356.19 148.21,355.11 149.6,354.03 150.99,352.98 152.36,351.96 153.74,350.97 155.1,350 156.46,349.04 157.82,348.09 159.16,347.13 160.51,346.18 161.84,345.21 163.17,344.25 164.49,343.3 165.81,342.37 167.12,341.43 168.42,340.48 169.72,339.53 171.01,338.55 172.29,337.56 173.57,336.54 174.84,335.49 176.11,334.46 177.37,333.41 178.62,332.32 179.87,331.16 181.1,329.91 182.34,328.52 183.56,326.95 184.78,325.21 186,323.32 187.2,321.28 188.4,319.09 189.6,316.65 190.78,314.02 191.96,311.27 193.14,308.43 194.3,305.53 195.46,302.43 196.62,299.21 197.76,295.95 198.9,292.6 200.04,289.16 201.16,285.63 202.28,281.99 203.4,278.27 204.5,274.37 205.6,270.47 206.69,266.86 207.78,263.44 208.86,259.89 209.93,255.92 210.99,251.7 212.05,247.59 213.1,243.53 214.15,239.61 215.18,236.22 216.21,233.49 217.24,230.86 218.25,227.82 219.26,224.53 220.26,221.12 221.26,217.7 222.25,214.22 223.23,210.65 224.2,206.91 225.16,203.01 226.12,199.36 227.07,196.07 228.02,192.98 228.95,190.1 229.88,187.3 230.81,184.31 231.72,181.48 232.63,179.35 233.53,177.52 234.42,176.11 235.3,175.04 236.18,174.08 237.05,173.31 237.91,172.81 238.77,172.54 239.62,172.42 240.45,172.49 241.29,173.12 242.11,174.08 242.93,175.16 243.73,176.61 244.53,178.23 245.33,179.81 246.11,181.39 246.89,183.01 247.66,184.71 248.42,186.51 249.17,188.39 249.92,190.34 250.65,192.37 251.38,194.47 252.1,196.7 252.81,199.1 253.52,201.53 254.21,203.89 254.9,206.27 255.58,209.19 256.25,211.81 256.91,213.23 257.56,213.02 258.21,212.62 258.84,212.23 259.47,211.85 260.09,211.48 260.7,211.12 261.3,210.75 261.89,210.37 262.48,209.97 263.05,209.53 263.62,209.04 264.17,208.53 264.72,207.99 265.26,207.45 265.79,206.91 266.31,206.38 266.81,205.86 267.31,205.36 267.81,204.88 268.29,204.43 268.76,203.99 269.22,203.56 269.67,203.14 270.11,202.73 270.54,202.32 270.96,201.93 271.37,201.56 271.77,201.19 272.16,200.84 272.54,200.5 272.9,200.18 273.26,199.86 273.61,199.56 273.94,199.27 274.26,198.99 274.57,198.72 274.87,198.47 275.16,198.22 275.43,197.99 275.69,197.77 275.94,197.56 276.18,197.36 276.4,197.18 276.61,197 276.81,196.84 276.99,196.69 277.15,196.56 277.3,196.44 277.43,196.33 277.55,196.23 277.65,196.15 277.72,196.09 277.78,196.05 277.8,196.03 277.8,195.61 277.78,198.26 277.72,203.74 277.65,209 277.55,213.49 277.43,217.41 277.3,220.76 277.15,223.9 276.99,226.8 276.81,229.43 276.61,231.85 276.4,234.18 276.18,236.43 275.94,238.6 275.69,240.67 275.43,242.63 275.16,244.47 274.87,246.16 274.57,247.78 274.26,249.4 273.94,251.1 273.61,252.98 273.26,255.06 272.9,257.31 272.54,259.83 272.16,262.78 271.77,266.56 271.37,270.72 270.96,274.5 270.54,278.09 270.11,281.6 269.67,284.97 269.22,288.15 268.76,291.15 268.29,294.16 267.81,297.06 267.31,299.73 266.81,302.04 266.31,303.87 265.79,305.45 265.26,306.88 264.72,308.2 264.17,309.45 263.62,310.65 263.05,311.85 262.48,313.1 261.89,314.46 261.3,315.93 260.7,317.46 260.09,319.02 259.47,320.55 258.84,322 258.21,323.31 257.56,324.48 256.91,325.57 256.25,326.6 255.58,327.59 254.9,328.54 254.21,329.49 253.52,330.44 252.81,331.41 252.1,332.36 251.38,333.29 250.65,334.21 249.92,335.09 249.17,335.93 248.42,336.76 247.66,337.56 246.89,338.34 246.11,339.1 245.33,339.85 244.53,340.58 243.73,341.3 242.93,342 242.11,342.69 241.29,343.36 240.45,344.03 239.62,344.69 238.77,345.33 237.91,345.97 237.05,346.59 236.18,347.21 235.3,347.82 234.42,348.44 233.53,349.06 232.63,349.69 231.72,350.33 230.81,350.97 229.88,351.62 228.95,352.27 228.02,352.93 227.07,353.59 226.12,354.26 225.16,354.93 224.2,355.6 223.23,356.28 222.25,356.96 221.26,357.64 220.26,358.33 219.26,359.02 218.25,359.72 217.24,360.43 216.21,361.14 215.18,361.85 214.15,362.58 213.1,363.34 212.05,364.14 210.99,364.98 209.93,365.88 208.86,366.84 207.78,367.86 206.69,368.91 205.6,369.99 204.5,371.07 203.4,372.16 202.28,373.29 201.16,374.45 200.04,375.61 198.9,376.77 197.76,377.92 196.62,379.03 195.46,380.13 194.3,381.25 193.14,382.4 191.96,383.61 190.78,384.95 189.6,386.4 188.4,387.85 187.2,389.17 186,390.27 184.78,391.29 183.56,392.23 182.34,393.1 181.1,393.89 179.87,394.59 178.62,395.28 177.37,395.97 176.11,396.59 174.84,397.1 173.57,397.43 172.29,397.57 171.01,397.67 169.72,397.75 168.42,397.81 167.12,397.82 165.81,397.49 164.49,396.84 163.17,396.03 161.84,395.21 160.51,394.51 159.16,393.79 157.82,393.04 156.46,392.27 155.1,391.46 153.74,390.63 152.36,389.76 150.99,388.86 149.6,387.92 148.21,386.94 146.81,385.92 145.41,384.86 144,383.74 142.58,382.56 141.16,381.34 139.73,380.08 138.3,378.79 136.86,377.45 135.41,376.06 133.96,374.62 132.5,373.15M132.5,373.77 133.96,371.31 135.41,368.99 136.86,366.93 138.3,365.18 139.73,363.65 141.16,362.25 142.58,360.97 144,359.76 145.41,358.6 146.81,357.47 148.21,356.33 149.6,355.19 150.99,354.09 152.36,353.02 153.74,351.98 155.1,350.96 156.46,349.95 157.82,348.95 159.16,347.95 160.51,346.95 161.84,345.93 163.17,344.93 164.49,343.94 165.81,342.95 167.12,341.97 168.42,340.98 169.72,339.98 171.01,338.97 172.29,337.93 173.57,336.86 174.84,335.77 176.11,334.69 177.37,333.6 178.62,332.46 179.87,331.25 181.1,329.94 182.34,328.49 183.56,326.86 184.78,325.04 186,323.06 187.2,320.94 188.4,318.65 189.6,316.1 190.78,313.36 191.96,310.48 193.14,307.52 194.3,304.48 195.46,301.25 196.62,297.89 197.76,294.48 198.9,290.99 200.04,287.4 201.16,283.72 202.28,279.94 203.4,276.06 204.5,271.99 205.6,267.93 206.69,264.18 207.78,260.63 208.86,256.94 209.93,252.82 210.99,248.44 212.05,244.17 213.1,239.96 214.15,235.9 215.18,232.39 216.21,229.59 217.24,226.89 218.25,223.77 219.26,220.37 220.26,216.86 221.26,213.35 222.25,209.77 223.23,206.1 224.2,202.24 225.16,198.23 226.12,194.48 227.07,191.1 228.02,187.95 228.95,185 229.88,182.15 230.81,179.1 231.72,176.22 232.63,174.08 233.53,172.26 234.42,170.88 235.3,169.85 236.18,168.95 237.05,168.24 237.91,167.81 238.77,167.64 239.62,167.62 240.45,167.8 241.29,168.57 242.11,169.69 242.93,170.94 243.73,172.57 244.53,174.39 245.33,176.16 246.11,177.93 246.89,179.74 247.66,181.64 248.42,183.64 249.17,185.73 249.92,187.89 250.65,190.14 251.38,192.47 252.1,194.94 252.81,197.59 253.52,200.28 254.21,202.88 254.9,205.52 255.58,208.71 256.25,211.58 256.91,213.18 257.56,213.05 258.21,212.71 258.84,212.38 259.47,212.06 260.09,211.75 260.7,211.43 261.3,211.11 261.89,210.79 262.48,210.44 263.05,210.03 263.62,209.59 264.17,209.11 264.72,208.62 265.26,208.11 265.79,207.6 266.31,207.1 266.81,206.61 267.31,206.14 267.81,205.7 268.29,205.29 268.76,204.88 269.22,204.48 269.67,204.09 270.11,203.7 270.54,203.33 270.96,202.97 271.37,202.62 271.77,202.29 272.16,201.96 272.54,201.65 272.9,201.35 273.26,201.06 273.61,200.78 273.94,200.52 274.26,200.26 274.57,200.01 274.87,199.78 275.16,199.56 275.43,199.34 275.69,199.14 275.94,198.95 276.18,198.77 276.4,198.6 276.61,198.44 276.81,198.29 276.99,198.15 277.15,198.03 277.3,197.92 277.43,197.82 277.55,197.73 277.65,197.66 277.72,197.6 277.78,197.57 277.8,197.55 277.8,197.19 277.78,199.71 277.72,204.98 277.65,210.08 277.55,214.41 277.43,218.2 277.3,221.45 277.15,224.5 276.99,227.32 276.81,229.88 276.61,232.25 276.4,234.55 276.18,236.77 275.94,238.92 275.69,240.97 275.43,242.92 275.16,244.74 274.87,246.43 274.57,248.03 274.26,249.64 273.94,251.34 273.61,253.24 273.26,255.35 272.9,257.65 272.54,260.23 272.16,263.26 271.77,267.19 271.37,271.51 270.96,275.44 270.54,279.16 270.11,282.8 269.67,286.3 269.22,289.58 268.76,292.7 268.29,295.81 267.81,298.82 267.31,301.59 266.81,303.97 266.31,305.84 265.79,307.45 265.26,308.9 264.72,310.23 264.17,311.48 263.62,312.69 263.05,313.89 262.48,315.15 261.89,316.52 261.3,318 260.7,319.56 260.09,321.14 259.47,322.7 258.84,324.17 258.21,325.49 257.56,326.67 256.91,327.76 256.25,328.79 255.58,329.78 254.9,330.73 254.21,331.68 253.52,332.63 252.81,333.6 252.1,334.55 251.38,335.49 250.65,336.4 249.92,337.28 249.17,338.12 248.42,338.94 247.66,339.74 246.89,340.52 246.11,341.27 245.33,342.02 244.53,342.74 243.73,343.45 242.93,344.14 242.11,344.82 241.29,345.49 240.45,346.15 239.62,346.8 238.77,347.43 237.91,348.06 237.05,348.67 236.18,349.29 235.3,349.89 234.42,350.5 233.53,351.12 232.63,351.75 231.72,352.39 230.81,353.03 229.88,353.68 228.95,354.33 228.02,354.99 227.07,355.65 226.12,356.32 225.16,357 224.2,357.67 223.23,358.36 222.25,359.04 221.26,359.73 220.26,360.43 219.26,361.14 218.25,361.85 217.24,362.57 216.21,363.29 215.18,364.02 214.15,364.77 213.1,365.55 212.05,366.37 210.99,367.23 209.93,368.16 208.86,369.16 207.78,370.21 206.69,371.3 205.6,372.42 204.5,373.54 203.4,374.68 202.28,375.85 201.16,377.06 200.04,378.27 198.9,379.49 197.76,380.68 196.62,381.85 195.46,383 194.3,384.17 193.14,385.38 191.96,386.65 190.78,388.06 189.6,389.58 188.4,391.1 187.2,392.48 186,393.64 184.78,394.7 183.56,395.69 182.34,396.6 181.1,397.43 179.87,398.17 178.62,398.89 177.37,399.61 176.11,400.26 174.84,400.79 173.57,401.14 172.29,401.28 171.01,401.38 169.72,401.46 168.42,401.51 167.12,401.52 165.81,401.17 164.49,400.48 163.17,399.62 161.84,398.75 160.51,398 159.16,397.24 157.82,396.45 156.46,395.62 155.1,394.77 153.74,393.88 152.36,392.96 150.99,392.01 149.6,391.01 148.21,389.98 146.81,388.9 145.41,387.77 144,386.58 142.58,385.34 141.16,384.04 139.73,382.71 138.3,381.34 136.86,379.92 135.41,378.46 133.96,376.94 132.5,375.38M132.5,375.62 133.96,373.05 135.41,370.63 136.86,368.47 138.3,366.65 139.73,365.05 141.16,363.59 142.58,362.25 144,360.99 145.41,359.78 146.81,358.6 148.21,357.41 149.6,356.22 150.99,355.07 152.36,353.96 153.74,352.88 155.1,351.81 156.46,350.76 157.82,349.72 159.16,348.68 160.51,347.63 161.84,346.57 163.17,345.52 164.49,344.49 165.81,343.47 167.12,342.45 168.42,341.42 169.72,340.39 171.01,339.33 172.29,338.25 173.57,337.15 174.84,336.02 176.11,334.9 177.37,333.76 178.62,332.59 179.87,331.33 181.1,329.97 182.34,328.47 183.56,326.77 184.78,324.89 186,322.84 187.2,320.64 188.4,318.26 189.6,315.62 190.78,312.77 191.96,309.78 193.14,306.71 194.3,303.55 195.46,300.2 196.62,296.71 197.76,293.18 198.9,289.56 200.04,285.85 201.16,282.04 202.28,278.12 203.4,274.1 204.5,269.89 205.6,265.69 206.69,261.81 207.78,258.14 208.86,254.33 209.93,250.07 210.99,245.55 212.05,241.14 213.1,236.8 214.15,232.61 215.18,229 216.21,226.13 217.24,223.38 218.25,220.18 219.26,216.69 220.26,213.1 221.26,209.49 222.25,205.82 223.23,202.06 224.2,198.11 225.16,193.99 226.12,190.15 227.07,186.7 228.02,183.48 228.95,180.48 229.88,177.58 230.81,174.49 231.72,171.56 232.63,169.41 233.53,167.59 234.42,166.24 235.3,165.26 236.18,164.4 237.05,163.75 237.91,163.39 238.77,163.29 239.62,163.37 240.45,163.64 241.29,164.54 242.11,165.8 242.93,167.2 243.73,168.99 244.53,170.98 245.33,172.93 246.11,174.86 246.89,176.85 247.66,178.92 248.42,181.1 249.17,183.37 249.92,185.73 250.65,188.17 251.38,190.7 252.1,193.38 252.81,196.25 253.52,199.17 254.21,201.99 254.9,204.85 255.58,208.28 256.25,211.37 256.91,213.13 257.56,213.08 258.21,212.79 258.84,212.52 259.47,212.24 260.09,211.98 260.7,211.71 261.3,211.43 261.89,211.15 262.48,210.85 263.05,210.48 263.62,210.07 264.17,209.63 264.72,209.17 265.26,208.69 265.79,208.21 266.31,207.74 266.81,207.28 267.31,206.84 267.81,206.43 268.29,206.04 268.76,205.66 269.22,205.29 269.67,204.93 270.11,204.57 270.54,204.23 270.96,203.89 271.37,203.57 271.77,203.26 272.16,202.95 272.54,202.67 272.9,202.39 273.26,202.12 273.61,201.87 273.94,201.62 274.26,201.38 274.57,201.16 274.87,200.94 275.16,200.73 275.43,200.54 275.69,200.35 275.94,200.18 276.18,200.01 276.4,199.85 276.61,199.71 276.81,199.57 276.99,199.45 277.15,199.33 277.3,199.23 277.43,199.14 277.55,199.06 277.65,199 277.72,198.95 277.78,198.91 277.8,198.89 277.8,198.58 277.78,201.01 277.72,206.07 277.65,211.03 277.55,215.22 277.43,218.9 277.3,222.06 277.15,225.03 276.99,227.77 276.81,230.28 276.61,232.61 276.4,234.87 276.18,237.07 275.94,239.2 275.69,241.23 275.43,243.17 275.16,244.98 274.87,246.66 274.57,248.26 274.26,249.86 273.94,251.56 273.61,253.48 273.26,255.61 272.9,257.95 272.54,260.58 272.16,263.7 271.77,267.75 271.37,272.21 270.96,276.27 270.54,280.1 270.11,283.86 269.67,287.47 269.22,290.86 268.76,294.07 268.29,297.28 267.81,300.38 267.31,303.23 266.81,305.67 266.31,307.58 265.79,309.22 265.26,310.69 264.72,312.03 264.17,313.29 263.62,314.49 263.05,315.7 262.48,316.96 261.89,318.34 261.3,319.85 260.7,321.42 260.09,323.03 259.47,324.6 258.84,326.09 258.21,327.43 257.56,328.61 256.91,329.7 256.25,330.73 255.58,331.72 254.9,332.67 254.21,333.62 253.52,334.57 252.81,335.54 252.1,336.49 251.38,337.43 250.65,338.34 249.92,339.22 249.17,340.06 248.42,340.88 247.66,341.67 246.89,342.45 246.11,343.2 245.33,343.94 244.53,344.66 243.73,345.36 242.93,346.04 242.11,346.71 241.29,347.37 240.45,348.03 239.62,348.67 238.77,349.3 237.91,349.91 237.05,350.52 236.18,351.13 235.3,351.73 234.42,352.34 233.53,352.95 232.63,353.58 231.72,354.21 230.81,354.85 229.88,355.5 228.95,356.15 228.02,356.81 227.07,357.48 226.12,358.15 225.16,358.83 224.2,359.51 223.23,360.2 222.25,360.89 221.26,361.59 220.26,362.3 219.26,363.01 218.25,363.74 217.24,364.47 216.21,365.2 215.18,365.95 214.15,366.71 213.1,367.51 212.05,368.34 210.99,369.23 209.93,370.18 208.86,371.21 207.78,372.29 206.69,373.42 205.6,374.57 204.5,375.73 203.4,376.91 202.28,378.13 201.16,379.37 200.04,380.63 198.9,381.89 197.76,383.13 196.62,384.35 195.46,385.55 194.3,386.76 193.14,388.02 191.96,389.34 190.78,390.81 189.6,392.39 188.4,393.98 187.2,395.42 186,396.63 184.78,397.73 183.56,398.76 182.34,399.71 181.1,400.57 179.87,401.34 178.62,402.09 177.37,402.83 176.11,403.51 174.84,404.06 173.57,404.42 172.29,404.56 171.01,404.66 169.72,404.74 168.42,404.8 167.12,404.8 165.81,404.42 164.49,403.7 163.17,402.8 161.84,401.89 160.51,401.1 159.16,400.3 157.82,399.46 156.46,398.6 155.1,397.7 153.74,396.77 152.36,395.8 150.99,394.8 149.6,393.75 148.21,392.66 146.81,391.53 145.41,390.35 144,389.1 142.58,387.8 141.16,386.44 139.73,385.04 138.3,383.6 136.86,382.12 135.41,380.58 133.96,378.99 132.5,377.36M132.5,377.27 133.96,374.6 135.41,372.09 136.86,369.85 138.3,367.96 139.73,366.29 141.16,364.78 142.58,363.39 144,362.08 145.41,360.83 146.81,359.6 148.21,358.37 149.6,357.14 150.99,355.95 152.36,354.79 153.74,353.67 155.1,352.57 156.46,351.48 157.82,350.4 159.16,349.32 160.51,348.23 161.84,347.14 163.17,346.06 164.49,344.99 165.81,343.93 167.12,342.88 168.42,341.82 169.72,340.75 171.01,339.66 172.29,338.54 173.57,337.4 174.84,336.24 176.11,335.08 177.37,333.91 178.62,332.7 179.87,331.4 181.1,330 182.34,328.45 183.56,326.7 184.78,324.76 186,322.64 187.2,320.37 188.4,317.91 189.6,315.18 190.78,312.25 191.96,309.16 193.14,305.98 194.3,302.73 195.46,299.27 196.62,295.67 197.76,292.02 198.9,288.29 200.04,284.46 201.16,280.54 202.28,276.5 203.4,272.36 204.5,268.02 205.6,263.7 206.69,259.7 207.78,255.93 208.86,252.01 209.93,247.63 210.99,242.98 212.05,238.44 213.1,233.98 214.15,229.69 215.18,225.99 216.21,223.06 217.24,220.25 218.25,216.99 219.26,213.42 220.26,209.75 221.26,206.06 222.25,202.32 223.23,198.47 224.2,194.43 225.16,190.22 226.12,186.3 227.07,182.79 228.02,179.52 228.95,176.47 229.88,173.53 230.81,170.39 231.72,167.42 232.63,165.26 233.53,163.45 234.42,162.12 235.3,161.17 236.18,160.36 237.05,159.76 237.91,159.46 238.77,159.44 239.62,159.59 240.45,159.95 241.29,160.96 242.11,162.34 242.93,163.87 243.73,165.81 244.53,167.96 245.33,170.05 246.11,172.14 246.89,174.27 247.66,176.5 248.42,178.84 249.17,181.28 249.92,183.8 250.65,186.42 251.38,189.12 252.1,191.99 252.81,195.06 253.52,198.18 254.21,201.2 254.9,204.26 255.58,207.9 256.25,211.19 256.91,213.09 257.56,213.1 258.21,212.87 258.84,212.64 259.47,212.41 260.09,212.18 260.7,211.95 261.3,211.72 261.89,211.48 262.48,211.21 263.05,210.88 263.62,210.51 264.17,210.09 264.72,209.66 265.26,209.21 265.79,208.76 266.31,208.31 266.81,207.88 267.31,207.46 267.81,207.08 268.29,206.71 268.76,206.36 269.22,206.01 269.67,205.68 270.11,205.34 270.54,205.02 270.96,204.71 271.37,204.41 271.77,204.12 272.16,203.84 272.54,203.57 272.9,203.31 273.26,203.06 273.61,202.83 273.94,202.6 274.26,202.38 274.57,202.17 274.87,201.97 275.16,201.78 275.43,201.6 275.69,201.43 275.94,201.27 276.18,201.11 276.4,200.97 276.61,200.84 276.81,200.71 276.99,200.6 277.15,200.49 277.3,200.4 277.43,200.32 277.55,200.24 277.65,200.18 277.72,200.14 277.78,200.1 277.8,200.09 277.8,199.82 277.78,202.15 277.72,207.04 277.65,211.88 277.55,215.94 277.43,219.52 277.3,222.6 277.15,225.5 276.99,228.18 276.81,230.63 276.61,232.92 276.4,235.16 276.18,237.34 275.94,239.45 275.69,241.46 275.43,243.39 275.16,245.2 274.87,246.87 274.57,248.46 274.26,250.06 273.94,251.76 273.61,253.68 273.26,255.84 272.9,258.21 272.54,260.9 272.16,264.08 271.77,268.24 271.37,272.83 270.96,277 270.54,280.94 270.11,284.8 269.67,288.51 269.22,291.99 268.76,295.29 268.29,298.58 267.81,301.76 267.31,304.69 266.81,307.19 266.31,309.14 265.79,310.79 265.26,312.28 264.72,313.63 264.17,314.89 263.62,316.1 263.05,317.31 262.48,318.58 261.89,319.96 261.3,321.48 260.7,323.08 260.09,324.7 259.47,326.29 258.84,327.79 258.21,329.14 257.56,330.33 256.91,331.43 256.25,332.46 255.58,333.44 254.9,334.4 254.21,335.34 253.52,336.3 252.81,337.26 252.1,338.22 251.38,339.15 250.65,340.07 249.92,340.95 249.17,341.79 248.42,342.6 247.66,343.39 246.89,344.16 246.11,344.91 245.33,345.64 244.53,346.36 243.73,347.05 242.93,347.73 242.11,348.4 241.29,349.05 240.45,349.7 239.62,350.33 238.77,350.95 237.91,351.56 237.05,352.16 236.18,352.76 235.3,353.36 234.42,353.96 233.53,354.57 232.63,355.2 231.72,355.83 230.81,356.47 229.88,357.12 228.95,357.77 228.02,358.43 227.07,359.1 226.12,359.77 225.16,360.45 224.2,361.14 223.23,361.83 222.25,362.53 221.26,363.24 220.26,363.95 219.26,364.68 218.25,365.41 217.24,366.16 216.21,366.9 215.18,367.66 214.15,368.44 213.1,369.25 212.05,370.1 210.99,371 209.93,371.98 208.86,373.03 207.78,374.14 206.69,375.3 205.6,376.48 204.5,377.68 203.4,378.89 202.28,380.14 201.16,381.43 200.04,382.73 198.9,384.03 197.76,385.31 196.62,386.57 195.46,387.81 194.3,389.07 193.14,390.36 191.96,391.73 190.78,393.25 189.6,394.9 188.4,396.53 187.2,398.03 186,399.28 184.78,400.43 183.56,401.49 182.34,402.47 181.1,403.36 179.87,404.15 178.62,404.93 177.37,405.7 176.11,406.4 174.84,406.97 173.57,407.33 172.29,407.48 171.01,407.58 169.72,407.66 168.42,407.71 167.12,407.71 165.81,407.32 164.49,406.56 163.17,405.62 161.84,404.67 160.51,403.85 159.16,403.01 157.82,402.14 156.46,401.24 155.1,400.3 153.74,399.33 152.36,398.32 150.99,397.28 149.6,396.19 148.21,395.05 146.81,393.87 145.41,392.64 144,391.34 142.58,389.98 141.16,388.57 139.73,387.11 138.3,385.62 136.86,384.07 135.41,382.47 133.96,380.81 132.5,379.11M132.5,378.77 133.96,376 135.41,373.41 136.86,371.09 138.3,369.14 139.73,367.42 141.16,365.86 142.58,364.42 144,363.07 145.41,361.77 146.81,360.51 148.21,359.24 149.6,357.97 150.99,356.74 152.36,355.55 153.74,354.39 155.1,353.25 156.46,352.13 157.82,351.02 159.16,349.9 160.51,348.78 161.84,347.65 163.17,346.54 164.49,345.44 165.81,344.35 167.12,343.27 168.42,342.17 169.72,341.07 171.01,339.95 172.29,338.81 173.57,337.63 174.84,336.43 176.11,335.25 177.37,334.04 178.62,332.8 179.87,331.47 181.1,330.02 182.34,328.43 183.56,326.63 184.78,324.63 186,322.46 187.2,320.12 188.4,317.6 189.6,314.79 190.78,311.77 191.96,308.6 193.14,305.33 194.3,301.99 195.46,298.42 196.62,294.72 197.76,290.98 198.9,287.14 200.04,283.21 201.16,279.18 202.28,275.03 203.4,270.78 204.5,266.33 205.6,261.89 206.69,257.79 207.78,253.93 208.86,249.91 209.93,245.43 210.99,240.65 212.05,236 213.1,231.44 214.15,227.04 215.18,223.27 216.21,220.28 217.24,217.43 218.25,214.1 219.26,210.46 220.26,206.71 221.26,202.96 222.25,199.14 223.23,195.23 224.2,191.11 225.16,186.82 226.12,182.82 227.07,179.25 228.02,175.93 228.95,172.84 229.88,169.86 230.81,166.67 231.72,163.67 232.63,161.51 233.53,159.7 234.42,158.39 235.3,157.48 236.18,156.7 237.05,156.15 237.91,155.9 238.77,155.94 239.62,156.17 240.45,156.61 241.29,157.72 242.11,159.22 242.93,160.86 243.73,162.94 244.53,165.22 245.33,167.45 246.11,169.67 246.89,171.95 247.66,174.31 248.42,176.8 249.17,179.38 249.92,182.06 250.65,184.83 251.38,187.7 252.1,190.73 252.81,193.98 253.52,197.28 254.21,200.49 254.9,203.72 255.58,207.56 256.25,211.03 256.91,213.06 257.56,213.12 258.21,212.93 258.84,212.74 259.47,212.56 260.09,212.37 260.7,212.18 261.3,211.98 261.89,211.78 262.48,211.54 263.05,211.24 263.62,210.9 264.17,210.51 264.72,210.1 265.26,209.68 265.79,209.25 266.31,208.83 266.81,208.42 267.31,208.02 267.81,207.66 268.29,207.32 268.76,206.99 269.22,206.67 269.67,206.35 270.11,206.04 270.54,205.74 270.96,205.45 271.37,205.17 271.77,204.9 272.16,204.64 272.54,204.39 272.9,204.15 273.26,203.92 273.61,203.7 273.94,203.49 274.26,203.29 274.57,203.09 274.87,202.91 275.16,202.73 275.43,202.56 275.69,202.4 275.94,202.25 276.18,202.11 276.4,201.98 276.61,201.86 276.81,201.74 276.99,201.64 277.15,201.54 277.3,201.46 277.43,201.38 277.55,201.31 277.65,201.26 277.72,201.21 277.78,201.18 277.8,201.17 277.8,200.94 277.78,203.19 277.72,207.92 277.65,212.64 277.55,216.59 277.43,220.08 277.3,223.1 277.15,225.93 276.99,228.55 276.81,230.95 276.61,233.21 276.4,235.42 276.18,237.58 275.94,239.67 275.69,241.67 275.43,243.59 275.16,245.39 274.87,247.05 274.57,248.64 274.26,250.23 273.94,251.93 273.61,253.87 273.26,256.05 272.9,258.45 272.54,261.18 272.16,264.43 271.77,268.69 271.37,273.39 270.96,277.67 270.54,281.7 270.11,285.66 269.67,289.45 269.22,293.02 268.76,296.39 268.29,299.76 267.81,303.02 267.31,306.01 266.81,308.56 266.31,310.54 265.79,312.22 265.26,313.72 264.72,315.08 264.17,316.34 263.62,317.55 263.05,318.77 262.48,320.04 261.89,321.43 261.3,322.96 260.7,324.57 260.09,326.21 259.47,327.82 258.84,329.34 258.21,330.7 257.56,331.89 256.91,332.99 256.25,334.02 255.58,335.01 254.9,335.96 254.21,336.9 253.52,337.86 252.81,338.82 252.1,339.78 251.38,340.72 250.65,341.63 249.92,342.51 249.17,343.35 248.42,344.16 247.66,344.95 246.89,345.71 246.11,346.46 245.33,347.19 244.53,347.9 243.73,348.59 242.93,349.26 242.11,349.92 241.29,350.56 240.45,351.2 239.62,351.83 238.77,352.45 237.91,353.05 237.05,353.65 236.18,354.24 235.3,354.84 234.42,355.44 233.53,356.04 232.63,356.67 231.72,357.3 230.81,357.94 229.88,358.58 228.95,359.24 228.02,359.9 227.07,360.56 226.12,361.24 225.16,361.93 224.2,362.62 223.23,363.31 222.25,364.02 221.26,364.73 220.26,365.45 219.26,366.18 218.25,366.93 217.24,367.68 216.21,368.44 215.18,369.21 214.15,370 213.1,370.82 212.05,371.69 210.99,372.61 209.93,373.61 208.86,374.68 207.78,375.82 206.69,377 205.6,378.22 204.5,379.44 203.4,380.68 202.28,381.97 201.16,383.29 200.04,384.63 198.9,385.96 197.76,387.28 196.62,388.57 195.46,389.85 194.3,391.15 193.14,392.49 191.96,393.89 190.78,395.46 189.6,397.16 188.4,398.85 187.2,400.39 186,401.68 184.78,402.86 183.56,403.96 182.34,404.97 181.1,405.88 179.87,406.7 178.62,407.5 177.37,408.29 176.11,409.01 174.84,409.6 173.57,409.97 172.29,410.12 171.01,410.22 169.72,410.3 168.42,410.35 167.12,410.35 165.81,409.94 164.49,409.16 163.17,408.18 161.84,407.19 160.51,406.34 159.16,405.47 157.82,404.57 156.46,403.63 155.1,402.66 153.74,401.65 152.36,400.6 150.99,399.52 149.6,398.39 148.21,397.22 146.81,395.99 145.41,394.71 144,393.37 142.58,391.96 141.16,390.49 139.73,388.98 138.3,387.44 136.86,385.83 135.41,384.18 133.96,382.46 132.5,380.7M132.5,380.09 133.96,377.25 135.41,374.58 136.86,372.19 138.3,370.18 139.73,368.42 141.16,366.81 142.58,365.33 144,363.94 145.41,362.61 146.81,361.31 148.21,360.01 149.6,358.7 150.99,357.44 152.36,356.22 153.74,355.03 155.1,353.86 156.46,352.71 157.82,351.56 159.16,350.42 160.51,349.27 161.84,348.11 163.17,346.96 164.49,345.84 165.81,344.72 167.12,343.61 168.42,342.49 169.72,341.36 171.01,340.21 172.29,339.04 173.57,337.84 174.84,336.61 176.11,335.39 177.37,334.16 178.62,332.88 179.87,331.52 181.1,330.04 182.34,328.41 183.56,326.57 184.78,324.53 186,322.3 187.2,319.91 188.4,317.32 189.6,314.45 190.78,311.35 191.96,308.1 193.14,304.75 194.3,301.33 195.46,297.68 196.62,293.89 197.76,290.05 198.9,286.13 200.04,282.1 201.16,277.98 202.28,273.73 203.4,269.39 204.5,264.84 205.6,260.29 206.69,256.1 207.78,252.16 208.86,248.05 209.93,243.47 210.99,238.59 212.05,233.84 213.1,229.18 214.15,224.69 215.18,220.85 216.21,217.82 217.24,214.92 218.25,211.54 219.26,207.84 220.26,204.03 221.26,200.21 222.25,196.33 223.23,192.35 224.2,188.16 225.16,183.8 226.12,179.74 227.07,176.11 228.02,172.75 228.95,169.62 229.88,166.61 230.81,163.38 231.72,160.35 232.63,158.18 233.53,156.37 234.42,155.08 235.3,154.2 236.18,153.45 237.05,152.94 237.91,152.75 238.77,152.85 239.62,153.14 240.45,153.65 241.29,154.84 242.11,156.44 242.93,158.2 243.73,160.39 244.53,162.79 245.33,165.15 246.11,167.49 246.89,169.88 247.66,172.37 248.42,174.99 249.17,177.7 249.92,180.51 250.65,183.42 251.38,186.43 252.1,189.62 252.81,193.03 253.52,196.49 254.21,199.85 254.9,203.24 255.58,207.26 256.25,210.88 256.91,213.02 257.56,213.14 258.21,212.99 258.84,212.84 259.47,212.69 260.09,212.53 260.7,212.37 261.3,212.21 261.89,212.04 262.48,211.83 263.05,211.56 263.62,211.24 264.17,210.88 264.72,210.5 265.26,210.09 265.79,209.69 266.31,209.28 266.81,208.89 267.31,208.52 267.81,208.18 268.29,207.86 268.76,207.55 269.22,207.25 269.67,206.95 270.11,206.66 270.54,206.38 270.96,206.11 271.37,205.84 271.77,205.59 272.16,205.34 272.54,205.11 272.9,204.89 273.26,204.67 273.61,204.47 273.94,204.27 274.26,204.09 274.57,203.91 274.87,203.73 275.16,203.57 275.43,203.42 275.69,203.27 275.94,203.13 276.18,203 276.4,202.88 276.61,202.76 276.81,202.66 276.99,202.56 277.15,202.47 277.3,202.39 277.43,202.32 277.55,202.26 277.65,202.21 277.72,202.17 277.78,202.14 277.8,202.13 277.8,201.94 277.78,204.11 277.72,208.7 277.65,213.33 277.55,217.17 277.43,220.58 277.3,223.53 277.15,226.31 276.99,228.87 276.81,231.23 276.61,233.46 276.4,235.66 276.18,237.8 275.94,239.87 275.69,241.86 275.43,243.77 275.16,245.57 274.87,247.22 274.57,248.8 274.26,250.39 273.94,252.09 273.61,254.03 273.26,256.23 272.9,258.66 272.54,261.43 272.16,264.73 271.77,269.09 271.37,273.89 270.96,278.26 270.54,282.38 270.11,286.41 269.67,290.29 269.22,293.93 268.76,297.37 268.29,300.81 267.81,304.13 267.31,307.18 266.81,309.78 266.31,311.78 265.79,313.48 265.26,314.99 264.72,316.36 264.17,317.63 263.62,318.84 263.05,320.06 262.48,321.33 261.89,322.73 261.3,324.28 260.7,325.9 260.09,327.55 259.47,329.18 258.84,330.71 258.21,332.07 257.56,333.27 256.91,334.37 256.25,335.41 255.58,336.39 254.9,337.34 254.21,338.28 253.52,339.24 252.81,340.2 252.1,341.16 251.38,342.1 250.65,343.02 249.92,343.89 249.17,344.73 248.42,345.54 247.66,346.32 246.89,347.09 246.11,347.83 245.33,348.55 244.53,349.26 243.73,349.95 242.93,350.61 242.11,351.27 241.29,351.91 240.45,352.54 239.62,353.17 238.77,353.78 237.91,354.37 237.05,354.97 236.18,355.56 235.3,356.15 234.42,356.74 233.53,357.35 232.63,357.97 231.72,358.6 230.81,359.24 229.88,359.88 228.95,360.54 228.02,361.2 227.07,361.87 226.12,362.54 225.16,363.23 224.2,363.92 223.23,364.62 222.25,365.33 221.26,366.05 220.26,366.78 219.26,367.52 218.25,368.27 217.24,369.04 216.21,369.8 215.18,370.58 214.15,371.38 213.1,372.22 212.05,373.1 210.99,374.03 209.93,375.05 208.86,376.14 207.78,377.3 206.69,378.51 205.6,379.75 204.5,381 203.4,382.27 202.28,383.59 201.16,384.94 200.04,386.31 198.9,387.68 197.76,389.03 196.62,390.36 195.46,391.67 194.3,393 193.14,394.37 191.96,395.81 190.78,397.42 189.6,399.17 188.4,400.9 187.2,402.49 186,403.81 184.78,405.02 183.56,406.15 182.34,407.18 181.1,408.12 179.87,408.96 178.62,409.77 177.37,410.59 176.11,411.33 174.84,411.93 173.57,412.31 172.29,412.46 171.01,412.56 169.72,412.64 168.42,412.69 167.12,412.69 165.81,412.26 164.49,411.45 163.17,410.44 161.84,409.43 160.51,408.54 159.16,407.65 157.82,406.72 156.46,405.75 155.1,404.74 153.74,403.7 152.36,402.63 150.99,401.51 149.6,400.34 148.21,399.13 146.81,397.87 145.41,396.55 144,395.17 142.58,393.71 141.16,392.2 139.73,390.65 138.3,389.05 136.86,387.4 135.41,385.69 133.96,383.93 132.5,382.11M132.5,381.34 133.96,378.42 135.41,375.68 136.86,373.24 138.3,371.17 139.73,369.36 141.16,367.71 142.58,366.19 144,364.77 145.41,363.41 146.81,362.07 148.21,360.74 149.6,359.4 150.99,358.1 152.36,356.85 153.74,355.63 155.1,354.43 156.46,353.25 157.82,352.08 159.16,350.91 160.51,349.73 161.84,348.54 163.17,347.37 164.49,346.22 165.81,345.07 167.12,343.93 168.42,342.79 169.72,341.63 171.01,340.46 172.29,339.26 173.57,338.03 174.84,336.77 176.11,335.53 177.37,334.27 178.62,332.97 179.87,331.57 181.1,330.06 182.34,328.4 183.56,326.52 184.78,324.42 186,322.14 187.2,319.7 188.4,317.06 189.6,314.12 190.78,310.95 191.96,307.63 193.14,304.21 194.3,300.7 195.46,296.97 196.62,293.09 197.76,289.17 198.9,285.16 200.04,281.05 201.16,276.84 202.28,272.51 203.4,268.07 204.5,263.42 205.6,258.78 206.69,254.5 207.78,250.48 208.86,246.29 209.93,241.62 210.99,236.64 212.05,231.8 213.1,227.05 214.15,222.47 215.18,218.56 216.21,215.49 217.24,212.55 218.25,209.11 219.26,205.36 220.26,201.48 221.26,197.61 222.25,193.67 223.23,189.63 224.2,185.37 225.16,180.94 226.12,176.82 227.07,173.14 228.02,169.73 228.95,166.57 229.88,163.53 230.81,160.27 231.72,157.2 232.63,155.03 233.53,153.23 234.42,151.95 235.3,151.1 236.18,150.39 237.05,149.91 237.91,149.77 238.77,149.92 239.62,150.27 240.45,150.84 241.29,152.12 242.11,153.82 242.93,155.67 243.73,157.97 244.53,160.49 245.33,162.96 246.11,165.42 246.89,167.93 247.66,170.54 248.42,173.27 249.17,176.11 249.92,179.05 250.65,182.09 251.38,185.24 252.1,188.57 252.81,192.12 253.52,195.74 254.21,199.25 254.9,202.79 255.58,206.97 256.25,210.75 256.91,212.99 257.56,213.16 258.21,213.05 258.84,212.93 259.47,212.81 260.09,212.69 260.7,212.56 261.3,212.43 261.89,212.28 262.48,212.11 263.05,211.87 263.62,211.57 264.17,211.23 264.72,210.87 265.26,210.49 265.79,210.1 266.31,209.72 266.81,209.34 267.31,208.99 267.81,208.67 268.29,208.37 268.76,208.08 269.22,207.8 269.67,207.52 270.11,207.25 270.54,206.98 270.96,206.73 271.37,206.48 271.77,206.24 272.16,206.01 272.54,205.8 272.9,205.59 273.26,205.39 273.61,205.2 273.94,205.02 274.26,204.84 274.57,204.68 274.87,204.52 275.16,204.37 275.43,204.22 275.69,204.09 275.94,203.96 276.18,203.84 276.4,203.73 276.61,203.62 276.81,203.52 276.99,203.43 277.15,203.35 277.3,203.28 277.43,203.21 277.55,203.16 277.65,203.11 277.72,203.08 277.78,203.05 277.8,203.04 277.8,202.88 277.78,204.98 277.72,209.43 277.65,213.97 277.55,217.72 277.43,221.05 277.3,223.95 277.15,226.66 276.99,229.18 276.81,231.5 276.61,233.7 276.4,235.88 276.18,238 275.94,240.06 275.69,242.04 275.43,243.94 275.16,245.73 274.87,247.38 274.57,248.95 274.26,250.53 273.94,252.24 273.61,254.19 273.26,256.41 272.9,258.86 272.54,261.67 272.16,265.03 271.77,269.46 271.37,274.37 270.96,278.81 270.54,283.02 270.11,287.13 269.67,291.08 269.22,294.79 268.76,298.29 268.29,301.8 267.81,305.18 267.31,308.29 266.81,310.93 266.31,312.96 265.79,314.67 265.26,316.2 264.72,317.57 264.17,318.84 263.62,320.06 263.05,321.28 262.48,322.56 261.89,323.96 261.3,325.52 260.7,327.16 260.09,328.82 259.47,330.46 258.84,332 258.21,333.38 257.56,334.58 256.91,335.68 256.25,336.72 255.58,337.7 254.9,338.65 254.21,339.59 253.52,340.55 252.81,341.51 252.1,342.47 251.38,343.41 250.65,344.33 249.92,345.2 249.17,346.04 248.42,346.85 247.66,347.63 246.89,348.39 246.11,349.13 245.33,349.85 244.53,350.55 243.73,351.23 242.93,351.9 242.11,352.54 241.29,353.18 240.45,353.81 239.62,354.43 238.77,355.03 237.91,355.63 237.05,356.21 236.18,356.8 235.3,357.38 234.42,357.98 233.53,358.58 232.63,359.2 231.72,359.83 230.81,360.47 229.88,361.11 228.95,361.77 228.02,362.43 227.07,363.1 226.12,363.78 225.16,364.47 224.2,365.16 223.23,365.87 222.25,366.58 221.26,367.3 220.26,368.03 219.26,368.78 218.25,369.54 217.24,370.32 216.21,371.09 215.18,371.88 214.15,372.69 213.1,373.54 212.05,374.43 210.99,375.38 209.93,376.41 208.86,377.53 207.78,378.71 206.69,379.94 205.6,381.2 204.5,382.48 203.4,383.77 202.28,385.12 201.16,386.5 200.04,387.9 198.9,389.3 197.76,390.69 196.62,392.04 195.46,393.38 194.3,394.74 193.14,396.15 191.96,397.63 190.78,399.28 189.6,401.07 188.4,402.85 187.2,404.47 186,405.83 184.78,407.06 183.56,408.22 182.34,409.28 181.1,410.24 179.87,411.09 178.62,411.93 177.37,412.76 176.11,413.52 174.84,414.13 173.57,414.53 172.29,414.68 171.01,414.78 169.72,414.86 168.42,414.91 167.12,414.9 165.81,414.46 164.49,413.63 163.17,412.59 161.84,411.54 160.51,410.63 159.16,409.71 157.82,408.75 156.46,407.75 155.1,406.72 153.74,405.65 152.36,404.54 150.99,403.39 149.6,402.19 148.21,400.95 146.81,399.65 145.41,398.29 144,396.87 142.58,395.37 141.16,393.82 139.73,392.22 138.3,390.58 136.86,388.88 135.41,387.12 133.96,385.31 132.5,383.45M132.5,382.44 133.96,379.45 135.41,376.65 136.86,374.15 138.3,372.04 139.73,370.19 141.16,368.5 142.58,366.95 144,365.49 145.41,364.1 146.81,362.74 148.21,361.37 149.6,360 150.99,358.68 152.36,357.4 153.74,356.16 155.1,354.93 156.46,353.73 157.82,352.53 159.16,351.33 160.51,350.13 161.84,348.92 163.17,347.72 164.49,346.54 165.81,345.38 167.12,344.22 168.42,343.05 169.72,341.87 171.01,340.67 172.29,339.45 173.57,338.2 174.84,336.92 176.11,335.65 177.37,334.37 178.62,333.04 179.87,331.62 181.1,330.08 182.34,328.38 183.56,326.47 184.78,324.33 186,322.01 187.2,319.52 188.4,316.83 189.6,313.83 190.78,310.61 191.96,307.21 193.14,303.73 194.3,300.16 195.46,296.35 196.62,292.4 197.76,288.41 198.9,284.32 200.04,280.14 201.16,275.85 202.28,271.43 203.4,266.91 204.5,262.18 205.6,257.45 206.69,253.1 207.78,249.01 208.86,244.76 209.93,240 210.99,234.93 212.05,230.01 213.1,225.18 214.15,220.53 215.18,216.57 216.21,213.45 217.24,210.48 218.25,207 219.26,203.19 220.26,199.26 221.26,195.34 222.25,191.34 223.23,187.25 224.2,182.94 225.16,178.44 226.12,174.27 227.07,170.55 228.02,167.1 228.95,163.91 229.88,160.84 230.81,157.55 231.72,154.46 232.63,152.28 233.53,150.48 234.42,149.22 235.3,148.39 236.18,147.71 237.05,147.27 237.91,147.16 238.77,147.36 239.62,147.76 240.45,148.4 241.29,149.75 242.11,151.53 242.93,153.47 243.73,155.87 244.53,158.49 245.33,161.06 246.11,163.61 246.89,166.22 247.66,168.94 248.42,171.78 249.17,174.72 249.92,177.77 250.65,180.93 251.38,184.19 252.1,187.65 252.81,191.33 253.52,195.09 254.21,198.73 254.9,202.4 255.58,206.72 256.25,210.63 256.91,212.97 257.56,213.18 258.21,213.09 258.84,213.01 259.47,212.92 260.09,212.83 260.7,212.72 261.3,212.62 261.89,212.5 262.48,212.35 263.05,212.13 263.62,211.86 264.17,211.54 264.72,211.19 265.26,210.83 265.79,210.46 266.31,210.09 266.81,209.74 267.31,209.41 267.81,209.1 268.29,208.82 268.76,208.55 269.22,208.28 269.67,208.01 270.11,207.76 270.54,207.51 270.96,207.27 271.37,207.04 271.77,206.81 272.16,206.6 272.54,206.39 272.9,206.2 273.26,206.02 273.61,205.84 273.94,205.67 274.26,205.51 274.57,205.35 274.87,205.2 275.16,205.06 275.43,204.93 275.69,204.8 275.94,204.68 276.18,204.57 276.4,204.47 276.61,204.37 276.81,204.28 276.99,204.2 277.15,204.12 277.3,204.05 277.43,203.99 277.55,203.94 277.65,203.9 277.72,203.86 277.78,203.84 277.8,203.83 277.8,203.7 277.78,205.75 277.72,210.08 277.65,214.53 277.55,218.19 277.43,221.46 277.3,224.31 277.15,226.98 276.99,229.45 276.81,231.73 276.61,233.91 276.4,236.07 276.18,238.18 275.94,240.22 275.69,242.2 275.43,244.09 275.16,245.87 274.87,247.51 274.57,249.08 274.26,250.66 273.94,252.37 273.61,254.33 273.26,256.56 272.9,259.04 272.54,261.88 272.16,265.28 271.77,269.79 271.37,274.78 270.96,279.3 270.54,283.57 270.11,287.75 269.67,291.77 269.22,295.54 268.76,299.1 268.29,302.66 267.81,306.1 267.31,309.25 266.81,311.93 266.31,313.99 265.79,315.72 265.26,317.25 264.72,318.63 264.17,319.91 263.62,321.12 263.05,322.34 262.48,323.62 261.89,325.04 261.3,326.6 260.7,328.25 260.09,329.93 259.47,331.58 258.84,333.13 258.21,334.52 257.56,335.72 256.91,336.82 256.25,337.86 255.58,338.84 254.9,339.79 254.21,340.73 253.52,341.69 252.81,342.66 252.1,343.61 251.38,344.56 250.65,345.47 249.92,346.35 249.17,347.18 248.42,347.99 247.66,348.77 246.89,349.53 246.11,350.26 245.33,350.98 244.53,351.68 243.73,352.36 242.93,353.01 242.11,353.66 241.29,354.29 240.45,354.91 239.62,355.53 238.77,356.13 237.91,356.72 237.05,357.3 236.18,357.88 235.3,358.47 234.42,359.05 233.53,359.66 232.63,360.28 231.72,360.91 230.81,361.54 229.88,362.19 228.95,362.84 228.02,363.5 227.07,364.17 226.12,364.85 225.16,365.55 224.2,366.24 223.23,366.95 222.25,367.67 221.26,368.39 220.26,369.13 219.26,369.89 218.25,370.65 217.24,371.44 216.21,372.22 215.18,373.02 214.15,373.84 213.1,374.69 212.05,375.59 210.99,376.56 209.93,377.6 208.86,378.74 207.78,379.94 206.69,381.19 205.6,382.47 204.5,383.77 203.4,385.09 202.28,386.46 201.16,387.86 200.04,389.29 198.9,390.72 197.76,392.13 196.62,393.51 195.46,394.88 194.3,396.27 193.14,397.7 191.96,399.21 190.78,400.9 189.6,402.72 188.4,404.54 187.2,406.2 186,407.58 184.78,408.85 183.56,410.03 182.34,411.11 181.1,412.09 179.87,412.96 178.62,413.81 177.37,414.66 176.11,415.43 174.84,416.06 173.57,416.46 172.29,416.61 171.01,416.71 169.72,416.79 168.42,416.84 167.12,416.83 165.81,416.38 164.49,415.53 163.17,414.46 161.84,413.39 160.51,412.45 159.16,411.51 157.82,410.53 156.46,409.5 155.1,408.45 153.74,407.35 152.36,406.21 150.99,405.03 149.6,403.81 148.21,402.53 146.81,401.2 145.41,399.81 144,398.35 142.58,396.82 141.16,395.23 139.73,393.59 138.3,391.91 136.86,390.17 135.41,388.37 133.96,386.52 132.5,384.61M132.5,383.4 133.96,380.35 135.41,377.5 136.86,374.95 138.3,372.8 139.73,370.91 141.16,369.19 142.58,367.61 144,366.13 145.41,364.71 146.81,363.32 148.21,361.93 149.6,360.54 150.99,359.19 152.36,357.89 153.74,356.62 155.1,355.37 156.46,354.15 157.82,352.93 159.16,351.71 160.51,350.48 161.84,349.25 163.17,348.03 164.49,346.83 165.81,345.65 167.12,344.46 168.42,343.28 169.72,342.08 171.01,340.86 172.29,339.62 173.57,338.34 174.84,337.04 176.11,335.76 177.37,334.46 178.62,333.1 179.87,331.66 181.1,330.1 182.34,328.37 183.56,326.42 184.78,324.26 186,321.9 187.2,319.37 188.4,316.63 189.6,313.58 190.78,310.3 191.96,306.85 193.14,303.31 194.3,299.68 195.46,295.81 196.62,291.79 197.76,287.73 198.9,283.58 200.04,279.33 201.16,274.97 202.28,270.49 203.4,265.9 204.5,261.09 205.6,256.29 206.69,251.88 207.78,247.73 208.86,243.41 209.93,238.58 210.99,233.44 212.05,228.45 213.1,223.55 214.15,218.83 215.18,214.81 216.21,211.67 217.24,208.67 218.25,205.14 219.26,201.29 220.26,197.32 221.26,193.35 222.25,189.31 223.23,185.16 224.2,180.81 225.16,176.25 226.12,172.03 227.07,168.28 228.02,164.8 228.95,161.58 229.88,158.49 230.81,155.17 231.72,152.05 232.63,149.86 233.53,148.07 234.42,146.82 235.3,146.02 236.18,145.36 237.05,144.95 237.91,144.88 238.77,145.12 239.62,145.56 240.45,146.25 241.29,147.67 242.11,149.52 242.93,151.54 243.73,154.02 244.53,156.73 245.33,159.39 246.11,162.03 246.89,164.73 247.66,167.53 248.42,170.47 249.17,173.51 249.92,176.66 250.65,179.91 251.38,183.28 252.1,186.84 252.81,190.64 253.52,194.51 254.21,198.27 254.9,202.05 255.58,206.5 256.25,210.52 256.91,212.94 257.56,213.19 258.21,213.14 258.84,213.08 259.47,213.02 260.09,212.95 260.7,212.87 261.3,212.78 261.89,212.69 262.48,212.56 263.05,212.36 263.62,212.11 264.17,211.81 264.72,211.48 265.26,211.13 265.79,210.78 266.31,210.42 266.81,210.09 267.31,209.77 267.81,209.47 268.29,209.21 268.76,208.95 269.22,208.7 269.67,208.45 270.11,208.21 270.54,207.97 270.96,207.74 271.37,207.52 271.77,207.31 272.16,207.11 272.54,206.92 272.9,206.74 273.26,206.56 273.61,206.4 273.94,206.24 274.26,206.09 274.57,205.94 274.87,205.8 275.16,205.67 275.43,205.55 275.69,205.43 275.94,205.32 276.18,205.21 276.4,205.12 276.61,205.03 276.81,204.94 276.99,204.87 277.15,204.8 277.3,204.73 277.43,204.68 277.55,204.63 277.65,204.59 277.72,204.56 277.78,204.54 277.8,204.53 277.8,204.42 277.78,206.41 277.72,210.64 277.65,215.02 277.55,218.61 277.43,221.82 277.3,224.62 277.15,227.25 276.99,229.69 276.81,231.94 276.61,234.09 276.4,236.24 276.18,238.33 275.94,240.37 275.69,242.33 275.43,244.22 275.16,246 274.87,247.63 274.57,249.2 274.26,250.77 273.94,252.48 273.61,254.45 273.26,256.7 272.9,259.19 272.54,262.06 272.16,265.5 271.77,270.08 271.37,275.14 270.96,279.73 270.54,284.06 270.11,288.3 269.67,292.38 269.22,296.2 268.76,299.81 268.29,303.42 267.81,306.91 267.31,310.1 266.81,312.82 266.31,314.89 265.79,316.63 265.26,318.17 264.72,319.56 264.17,320.84 263.62,322.06 263.05,323.28 262.48,324.56 261.89,325.98 261.3,327.55 260.7,329.21 260.09,330.9 259.47,332.56 258.84,334.12 258.21,335.51 257.56,336.72 256.91,337.83 256.25,338.86 255.58,339.85 254.9,340.8 254.21,341.74 253.52,342.69 252.81,343.66 252.1,344.62 251.38,345.56 250.65,346.47 249.92,347.35 249.17,348.18 248.42,348.99 247.66,349.77 246.89,350.52 246.11,351.26 245.33,351.97 244.53,352.67 243.73,353.34 242.93,354 242.11,354.64 241.29,355.26 240.45,355.88 239.62,356.49 238.77,357.09 237.91,357.68 237.05,358.26 236.18,358.83 235.3,359.41 234.42,360 233.53,360.6 232.63,361.22 231.72,361.85 230.81,362.48 229.88,363.13 228.95,363.78 228.02,364.44 227.07,365.11 226.12,365.8 225.16,366.49 224.2,367.19 223.23,367.9 222.25,368.62 221.26,369.35 220.26,370.09 219.26,370.85 218.25,371.63 217.24,372.42 216.21,373.21 215.18,374.01 214.15,374.84 213.1,375.7 212.05,376.62 210.99,377.59 209.93,378.65 208.86,379.8 207.78,381.01 206.69,382.28 205.6,383.58 204.5,384.9 203.4,386.24 202.28,387.63 201.16,389.06 200.04,390.51 198.9,391.96 197.76,393.4 196.62,394.8 195.46,396.2 194.3,397.61 193.14,399.07 191.96,400.61 190.78,402.32 189.6,404.18 188.4,406.03 187.2,407.72 186,409.13 184.78,410.41 183.56,411.61 182.34,412.71 181.1,413.71 179.87,414.6 178.62,415.47 177.37,416.33 176.11,417.11 174.84,417.75 173.57,418.16 172.29,418.31 171.01,418.41 169.72,418.49 168.42,418.54 167.12,418.52 165.81,418.07 164.49,417.19 163.17,416.1 161.84,415.01 160.51,414.05 159.16,413.09 157.82,412.08 156.46,411.04 155.1,409.96 153.74,408.84 152.36,407.68 150.99,406.47 149.6,405.22 148.21,403.92 146.81,402.56 145.41,401.14 144,399.65 142.58,398.09 141.16,396.47 139.73,394.79 138.3,393.08 136.86,391.31 135.41,389.47 133.96,387.58 132.5,385.63M132.5,384.28 133.96,381.18 135.41,378.27 136.86,375.68 138.3,373.49 139.73,371.57 141.16,369.83 142.58,368.22 144,366.71 145.41,365.27 146.81,363.86 148.21,362.44 149.6,361.02 150.99,359.66 152.36,358.33 153.74,357.04 155.1,355.78 156.46,354.53 157.82,353.29 159.16,352.05 160.51,350.8 161.84,349.55 163.17,348.31 164.49,347.1 165.81,345.89 167.12,344.69 168.42,343.49 169.72,342.27 171.01,341.04 172.29,339.77 173.57,338.48 174.84,337.16 176.11,335.86 177.37,334.54 178.62,333.16 179.87,331.7 181.1,330.11 182.34,328.36 183.56,326.38 184.78,324.18 186,321.79 187.2,319.22 188.4,316.44 189.6,313.35 190.78,310.02 191.96,306.52 193.14,302.93 194.3,299.24 195.46,295.31 196.62,291.24 197.76,287.12 198.9,282.91 200.04,278.6 201.16,274.18 202.28,269.63 203.4,264.97 204.5,260.1 205.6,255.23 206.69,250.76 207.78,246.55 208.86,242.17 209.93,237.28 210.99,232.07 212.05,227.01 213.1,222.05 214.15,217.28 215.18,213.21 216.21,210.03 217.24,207 218.25,203.44 219.26,199.55 220.26,195.53 221.26,191.52 222.25,187.44 223.23,183.25 224.2,178.85 225.16,174.25 226.12,169.99 227.07,166.2 228.02,162.68 228.95,159.44 229.88,156.33 230.81,152.98 231.72,149.85 232.63,147.65 233.53,145.86 234.42,144.63 235.3,143.84 236.18,143.2 237.05,142.82 237.91,142.78 238.77,143.06 239.62,143.55 240.45,144.28 241.29,145.76 242.11,147.68 242.93,149.76 243.73,152.32 244.53,155.12 245.33,157.86 246.11,160.58 246.89,163.36 247.66,166.24 248.42,169.26 249.17,172.39 249.92,175.63 250.65,178.98 251.38,182.44 252.1,186.1 252.81,190.01 253.52,193.98 254.21,197.85 254.9,201.74 255.58,206.3 256.25,210.43 256.91,212.92 257.56,213.2 258.21,213.18 258.84,213.14 259.47,213.1 260.09,213.06 260.7,213 261.3,212.94 261.89,212.86 262.48,212.76 263.05,212.58 263.62,212.34 264.17,212.06 264.72,211.74 265.26,211.41 265.79,211.07 266.31,210.73 266.81,210.4 267.31,210.1 267.81,209.82 268.29,209.57 268.76,209.32 269.22,209.08 269.67,208.85 270.11,208.62 270.54,208.39 270.96,208.18 271.37,207.97 271.77,207.77 272.16,207.58 272.54,207.4 272.9,207.23 273.26,207.07 273.61,206.91 273.94,206.76 274.26,206.62 274.57,206.48 274.87,206.35 275.16,206.23 275.43,206.11 275.69,206 275.94,205.9 276.18,205.8 276.4,205.71 276.61,205.63 276.81,205.55 276.99,205.48 277.15,205.41 277.3,205.35 277.43,205.3 277.55,205.26 277.65,205.22 277.72,205.19 277.78,205.17 277.8,205.16 277.8,205.08 277.78,207.02 277.72,211.16 277.65,215.48 277.55,219 277.43,222.15 277.3,224.91 277.15,227.5 276.99,229.9 276.81,232.13 276.61,234.26 276.4,236.39 276.18,238.48 275.94,240.5 275.69,242.46 275.43,244.34 275.16,246.11 274.87,247.74 274.57,249.3 274.26,250.88 273.94,252.58 273.61,254.56 273.26,256.82 272.9,259.33 272.54,262.23 272.16,265.71 271.77,270.34 271.37,275.47 270.96,280.12 270.54,284.51 270.11,288.8 269.67,292.93 269.22,296.8 268.76,300.46 268.29,304.12 267.81,307.65 267.31,310.88 266.81,313.62 266.31,315.72 265.79,317.47 265.26,319.02 264.72,320.41 264.17,321.69 263.62,322.91 263.05,324.13 262.48,325.42 261.89,326.84 261.3,328.42 260.7,330.09 260.09,331.8 259.47,333.46 258.84,335.03 258.21,336.43 257.56,337.63 256.91,338.75 256.25,339.78 255.58,340.77 254.9,341.72 254.21,342.65 253.52,343.61 252.81,344.58 252.1,345.54 251.38,346.48 250.65,347.39 249.92,348.27 249.17,349.1 248.42,349.91 247.66,350.68 246.89,351.44 246.11,352.17 245.33,352.88 244.53,353.57 243.73,354.24 242.93,354.9 242.11,355.53 241.29,356.16 240.45,356.77 239.62,357.38 238.77,357.97 237.91,358.55 237.05,359.13 236.18,359.7 235.3,360.28 234.42,360.87 233.53,361.47 232.63,362.08 231.72,362.71 230.81,363.35 229.88,363.99 228.95,364.64 228.02,365.31 227.07,365.98 226.12,366.66 225.16,367.36 224.2,368.06 223.23,368.77 222.25,369.49 221.26,370.23 220.26,370.98 219.26,371.74 218.25,372.52 217.24,373.32 216.21,374.11 215.18,374.92 214.15,375.76 213.1,376.63 212.05,377.55 210.99,378.54 209.93,379.61 208.86,380.77 207.78,382 206.69,383.28 205.6,384.6 204.5,385.94 203.4,387.29 202.28,388.71 201.16,390.15 200.04,391.63 198.9,393.1 197.76,394.56 196.62,395.98 195.46,397.4 194.3,398.84 193.14,400.32 191.96,401.88 190.78,403.62 189.6,405.51 188.4,407.39 187.2,409.11 186,410.54 184.78,411.85 183.56,413.06 182.34,414.18 181.1,415.2 179.87,416.1 178.62,416.98 177.37,417.85 176.11,418.65 174.84,419.3 173.57,419.71 172.29,419.86 171.01,419.96 169.72,420.04 168.42,420.09 167.12,420.08 165.81,419.61 164.49,418.72 163.17,417.61 161.84,416.49 160.51,415.52 159.16,414.53 157.82,413.51 156.46,412.45 155.1,411.35 153.74,410.21 152.36,409.02 150.99,407.8 149.6,406.52 148.21,405.19 146.81,403.81 145.41,402.36 144,400.84 142.58,399.25 141.16,397.6 139.73,395.9 138.3,394.15 136.86,392.35 135.41,390.48 133.96,388.55 132.5,386.57M132.5,385.07 133.96,381.93 135.41,378.98 136.86,376.34 138.3,374.12 139.73,372.17 141.16,370.4 142.58,368.77 144,367.24 145.41,365.77 146.81,364.34 148.21,362.91 149.6,361.47 150.99,360.08 152.36,358.74 153.74,357.43 155.1,356.14 156.46,354.87 157.82,353.62 159.16,352.36 160.51,351.1 161.84,349.82 163.17,348.57 164.49,347.34 165.81,346.12 167.12,344.9 168.42,343.68 169.72,342.44 171.01,341.19 172.29,339.91 173.57,338.6 174.84,337.27 176.11,335.94 177.37,334.61 178.62,333.21 179.87,331.73 181.1,330.12 182.34,328.35 183.56,326.35 184.78,324.12 186,321.69 187.2,319.09 188.4,316.28 189.6,313.14 190.78,309.77 191.96,306.22 193.14,302.58 194.3,298.84 195.46,294.86 196.62,290.73 197.76,286.56 198.9,282.3 200.04,277.93 201.16,273.45 202.28,268.85 203.4,264.13 204.5,259.19 205.6,254.27 206.69,249.74 207.78,245.48 208.86,241.05 209.93,236.1 210.99,230.83 212.05,225.71 213.1,220.69 214.15,215.86 215.18,211.75 216.21,208.55 217.24,205.49 218.25,201.9 219.26,197.97 220.26,193.91 221.26,189.86 222.25,185.74 223.23,181.52 224.2,177.07 225.16,172.43 226.12,168.13 227.07,164.3 228.02,160.77 228.95,157.5 229.88,154.37 230.81,151 231.72,147.84 232.63,145.65 233.53,143.86 234.42,142.63 235.3,141.87 236.18,141.25 237.05,140.89 237.91,140.88 238.77,141.2 239.62,141.72 240.45,142.5 241.29,144.03 242.11,146.01 242.93,148.16 243.73,150.79 244.53,153.66 245.33,156.47 246.11,159.26 246.89,162.12 247.66,165.08 248.42,168.17 249.17,171.38 249.92,174.7 250.65,178.13 251.38,181.68 252.1,185.43 252.81,189.43 253.52,193.51 254.21,197.47 254.9,201.45 255.58,206.12 256.25,210.34 256.91,212.9 257.56,213.21 258.21,213.21 258.84,213.2 259.47,213.18 260.09,213.15 260.7,213.12 261.3,213.07 261.89,213.02 262.48,212.93 263.05,212.77 263.62,212.55 264.17,212.28 264.72,211.98 265.26,211.66 265.79,211.33 266.31,211 266.81,210.69 267.31,210.4 267.81,210.13 268.29,209.89 268.76,209.66 269.22,209.43 269.67,209.21 270.11,208.99 270.54,208.78 270.96,208.57 271.37,208.38 271.77,208.19 272.16,208.01 272.54,207.84 272.9,207.68 273.26,207.52 273.61,207.37 273.94,207.23 274.26,207.1 274.57,206.97 274.87,206.85 275.16,206.74 275.43,206.63 275.69,206.52 275.94,206.43 276.18,206.34 276.4,206.25 276.61,206.17 276.81,206.1 276.99,206.03 277.15,205.97 277.3,205.92 277.43,205.87 277.55,205.83 277.65,205.8 277.72,205.77 277.78,205.75 277.8,205.74 277.8,205.68 277.78,207.58 277.72,211.63 277.65,215.89 277.55,219.35 277.43,222.45 277.3,225.17 277.15,227.73 276.99,230.1 276.81,232.3 276.61,234.41 276.4,236.53 276.18,238.61 275.94,240.62 275.69,242.57 275.43,244.45 275.16,246.22 274.87,247.84 274.57,249.4 274.26,250.97 273.94,252.68 273.61,254.66 273.26,256.93 272.9,259.46 272.54,262.38 272.16,265.89 271.77,270.58 271.37,275.77 270.96,280.48 270.54,284.91 270.11,289.26 269.67,293.43 269.22,297.35 268.76,301.04 268.29,304.75 267.81,308.32 267.31,311.58 266.81,314.36 266.31,316.47 265.79,318.23 265.26,319.79 264.72,321.19 264.17,322.47 263.62,323.69 263.05,324.91 262.48,326.2 261.89,327.63 261.3,329.22 260.7,330.89 260.09,332.6 259.47,334.28 258.84,335.86 258.21,337.26 257.56,338.47 256.91,339.58 256.25,340.62 255.58,341.6 254.9,342.55 254.21,343.49 253.52,344.44 252.81,345.41 252.1,346.37 251.38,347.31 250.65,348.23 249.92,349.1 249.17,349.94 248.42,350.74 247.66,351.51 246.89,352.27 246.11,353 245.33,353.71 244.53,354.4 243.73,355.06 242.93,355.71 242.11,356.34 241.29,356.96 240.45,357.58 239.62,358.18 238.77,358.77 237.91,359.35 237.05,359.92 236.18,360.5 235.3,361.07 234.42,361.65 233.53,362.25 232.63,362.87 231.72,363.49 230.81,364.13 229.88,364.77 228.95,365.43 228.02,366.09 227.07,366.76 226.12,367.45 225.16,368.14 224.2,368.85 223.23,369.56 222.25,370.29 221.26,371.03 220.26,371.78 219.26,372.55 218.25,373.33 217.24,374.13 216.21,374.93 215.18,375.75 214.15,376.59 213.1,377.47 212.05,378.4 210.99,379.39 209.93,380.48 208.86,381.65 207.78,382.89 206.69,384.19 205.6,385.53 204.5,386.88 203.4,388.25 202.28,389.68 201.16,391.15 200.04,392.64 198.9,394.13 197.76,395.61 196.62,397.06 195.46,398.49 194.3,399.95 193.14,401.45 191.96,403.04 190.78,404.8 189.6,406.72 188.4,408.63 187.2,410.37 186,411.82 184.78,413.15 183.56,414.38 182.34,415.52 181.1,416.54 179.87,417.46 178.62,418.35 177.37,419.24 176.11,420.05 174.84,420.7 173.57,421.12 172.29,421.27 171.01,421.37 169.72,421.45 168.42,421.5 167.12,421.48 165.81,421.01 164.49,420.1 163.17,418.97 161.84,417.84 160.51,416.85 159.16,415.85 157.82,414.81 156.46,413.72 155.1,412.6 153.74,411.44 152.36,410.24 150.99,408.99 149.6,407.69 148.21,406.34 146.81,404.94 145.41,403.47 144,401.93 142.58,400.31 141.16,398.63 139.73,396.9 138.3,395.12 136.86,393.29 135.41,391.39 133.96,389.43 132.5,387.42M132.5,385.73 133.96,382.55 135.41,379.56 136.86,376.89 138.3,374.65 139.73,372.67 141.16,370.88 142.58,369.22 144,367.67 145.41,366.19 146.81,364.74 148.21,363.29 149.6,361.83 150.99,360.43 152.36,359.07 153.74,357.74 155.1,356.44 156.46,355.16 157.82,353.89 159.16,352.62 160.51,351.34 161.84,350.05 163.17,348.78 164.49,347.54 165.81,346.3 167.12,345.07 168.42,343.83 169.72,342.59 171.01,341.32 172.29,340.03 173.57,338.7 174.84,337.35 176.11,336.02 177.37,334.66 178.62,333.26 179.87,331.76 181.1,330.14 182.34,328.34 183.56,326.32 184.78,324.07 186,321.61 187.2,318.98 188.4,316.14 189.6,312.97 190.78,309.56 191.96,305.97 193.14,302.29 194.3,298.51 195.46,294.49 196.62,290.32 197.76,286.1 198.9,281.79 200.04,277.37 201.16,272.85 202.28,268.2 203.4,263.44 204.5,258.45 205.6,253.47 206.69,248.89 207.78,244.59 208.86,240.13 209.93,235.12 210.99,229.8 212.05,224.63 213.1,219.56 214.15,214.69 215.18,210.55 216.21,207.32 217.24,204.24 218.25,200.62 219.26,196.66 220.26,192.57 221.26,188.49 222.25,184.34 223.23,180.09 224.2,175.6 225.16,170.92 226.12,166.59 227.07,162.74 228.02,159.18 228.95,155.9 229.88,152.75 230.81,149.36 231.72,146.19 232.63,143.99 233.53,142.2 234.42,140.99 235.3,140.23 236.18,139.63 237.05,139.29 237.91,139.31 238.77,139.66 239.62,140.21 240.45,141.02 241.29,142.6 242.11,144.63 242.93,146.83 243.73,149.52 244.53,152.45 245.33,155.32 246.11,158.17 246.89,161.09 247.66,164.11 248.42,167.27 249.17,170.54 249.92,173.93 250.65,177.43 251.38,181.05 252.1,184.87 252.81,188.96 253.52,193.11 254.21,197.15 254.9,201.21 255.58,205.96 256.25,210.27 256.91,212.89 257.56,213.22 258.21,213.24 258.84,213.25 259.47,213.25 260.09,213.24 260.7,213.22 261.3,213.19 261.89,213.15 262.48,213.08 263.05,212.93 263.62,212.72 264.17,212.46 264.72,212.17 265.26,211.86 265.79,211.55 266.31,211.23 266.81,210.93 267.31,210.64 267.81,210.39 268.29,210.16 268.76,209.94 269.22,209.72 269.67,209.51 270.11,209.3 270.54,209.1 270.96,208.9 271.37,208.71 271.77,208.53 272.16,208.36 272.54,208.2 272.9,208.04 273.26,207.9 273.61,207.76 273.94,207.63 274.26,207.5 274.57,207.38 274.87,207.26 275.16,207.16 275.43,207.05 275.69,206.96 275.94,206.86 276.18,206.78 276.4,206.7 276.61,206.62 276.81,206.56 276.99,206.49 277.15,206.44 277.3,206.39 277.43,206.34 277.55,206.3 277.65,206.27 277.72,206.24 277.78,206.23 277.8,206.22 277.8,206.17 277.78,208.04 277.72,212.02 277.65,216.22 277.55,219.63 277.43,222.7 277.3,225.39 277.15,227.92 276.99,230.26 276.81,232.44 276.61,234.54 276.4,236.65 276.18,238.71 275.94,240.72 275.69,242.66 275.43,244.54 275.16,246.3 274.87,247.93 274.57,249.48 274.26,251.05 273.94,252.75 273.61,254.74 273.26,257.02 272.9,259.57 272.54,262.5 272.16,266.05 271.77,270.78 271.37,276.02 270.96,280.77 270.54,285.25 270.11,289.64 269.67,293.85 269.22,297.8 268.76,301.53 268.29,305.27 267.81,308.87 267.31,312.17 266.81,314.96 266.31,317.09 265.79,318.86 265.26,320.43 264.72,321.83 264.17,323.11 263.62,324.33 263.05,325.56 262.48,326.85 261.89,328.28 261.3,329.87 260.7,331.56 260.09,333.27 259.47,334.96 258.84,336.54 258.21,337.95 257.56,339.16 256.91,340.27 256.25,341.31 255.58,342.29 254.9,343.24 254.21,344.18 253.52,345.13 252.81,346.1 252.1,347.06 251.38,348 250.65,348.92 249.92,349.79 249.17,350.63 248.42,351.43 247.66,352.2 246.89,352.95 246.11,353.68 245.33,354.39 244.53,355.08 243.73,355.74 242.93,356.39 242.11,357.02 241.29,357.63 240.45,358.25 239.62,358.85 238.77,359.43 237.91,360.01 237.05,360.58 236.18,361.15 235.3,361.72 234.42,362.31 233.53,362.9 232.63,363.52 231.72,364.14 230.81,364.78 229.88,365.42 228.95,366.07 228.02,366.74 227.07,367.41 226.12,368.1 225.16,368.8 224.2,369.5 223.23,370.22 222.25,370.94 221.26,371.68 220.26,372.44 219.26,373.21 218.25,374 217.24,374.81 216.21,375.61 215.18,376.43 214.15,377.28 213.1,378.17 212.05,379.1 210.99,380.1 209.93,381.19 208.86,382.38 207.78,383.63 206.69,384.95 205.6,386.29 204.5,387.66 203.4,389.04 202.28,390.49 201.16,391.97 200.04,393.48 198.9,394.99 197.76,396.48 196.62,397.95 195.46,399.4 194.3,400.87 193.14,402.39 191.96,403.99 190.78,405.78 189.6,407.72 188.4,409.65 187.2,411.42 186,412.88 184.78,414.23 183.56,415.47 182.34,416.62 181.1,417.66 179.87,418.58 178.62,419.49 177.37,420.39 176.11,421.2 174.84,421.86 173.57,422.29 172.29,422.44 171.01,422.54 169.72,422.62 168.42,422.67 167.12,422.65 165.81,422.17 164.49,421.25 163.17,420.1 161.84,418.95 160.51,417.95 159.16,416.93 157.82,415.88 156.46,414.78 155.1,413.65 153.74,412.47 152.36,411.25 150.99,409.99 149.6,408.67 148.21,407.3 146.81,405.87 145.41,404.39 144,402.82 142.58,401.18 141.16,399.48 139.73,397.73 138.3,395.93 136.86,394.07 135.41,392.15 133.96,390.16 132.5,388.12M132.5,386.32 133.96,383.1 135.41,380.08 136.86,377.38 138.3,375.11 139.73,373.11 141.16,371.3 142.58,369.63 144,368.06 145.41,366.56 146.81,365.1 148.21,363.63 149.6,362.16 150.99,360.74 152.36,359.36 153.74,358.02 155.1,356.71 156.46,355.42 157.82,354.13 159.16,352.85 160.51,351.55 161.84,350.25 163.17,348.97 164.49,347.71 165.81,346.46 167.12,345.22 168.42,343.97 169.72,342.71 171.01,341.44 172.29,340.13 173.57,338.79 174.84,337.43 176.11,336.08 177.37,334.72 178.62,333.3 179.87,331.79 181.1,330.14 182.34,328.34 183.56,326.29 184.78,324.02 186,321.54 187.2,318.89 188.4,316.01 189.6,312.82 190.78,309.37 191.96,305.75 193.14,302.03 194.3,298.22 195.46,294.16 196.62,289.95 197.76,285.69 198.9,281.34 200.04,276.89 201.16,272.32 202.28,267.63 203.4,262.82 204.5,257.79 205.6,252.77 206.69,248.15 207.78,243.81 208.86,239.31 209.93,234.26 210.99,228.89 212.05,223.68 213.1,218.57 214.15,213.66 215.18,209.49 216.21,206.24 217.24,203.14 218.25,199.5 219.26,195.51 220.26,191.39 221.26,187.28 222.25,183.1 223.23,178.82 224.2,174.31 225.16,169.59 226.12,165.23 227.07,161.36 228.02,157.78 228.95,154.48 229.88,151.32 230.81,147.91 231.72,144.73 232.63,142.52 233.53,140.74 234.42,139.53 235.3,138.79 236.18,138.21 237.05,137.88 237.91,137.92 238.77,138.29 239.62,138.88 240.45,139.72 241.29,141.33 242.11,143.41 242.93,145.65 243.73,148.39 244.53,151.38 245.33,154.3 246.11,157.21 246.89,160.18 247.66,163.26 248.42,166.47 249.17,169.8 249.92,173.25 250.65,176.81 251.38,180.49 252.1,184.38 252.81,188.54 253.52,192.76 254.21,196.87 254.9,201 255.58,205.83 256.25,210.2 256.91,212.87 257.56,213.23 258.21,213.27 258.84,213.29 259.47,213.31 260.09,213.31 260.7,213.3 261.3,213.29 261.89,213.27 262.48,213.21 263.05,213.07 263.62,212.87 264.17,212.63 264.72,212.35 265.26,212.05 265.79,211.74 266.31,211.43 266.81,211.14 267.31,210.86 267.81,210.62 268.29,210.4 268.76,210.19 269.22,209.98 269.67,209.77 270.11,209.57 270.54,209.38 270.96,209.19 271.37,209.01 271.77,208.84 272.16,208.67 272.54,208.52 272.9,208.37 273.26,208.23 273.61,208.1 273.94,207.97 274.26,207.85 274.57,207.74 274.87,207.63 275.16,207.53 275.43,207.43 275.69,207.34 275.94,207.25 276.18,207.17 276.4,207.09 276.61,207.02 276.81,206.96 276.99,206.9 277.15,206.85 277.3,206.8 277.43,206.76 277.55,206.72 277.65,206.69 277.72,206.67 277.78,206.65 277.8,206.64 277.8,206.61 277.78,208.44 277.72,212.36 277.65,216.52 277.55,219.89 277.43,222.92 277.3,225.58 277.15,228.08 276.99,230.4 276.81,232.56 276.61,234.65 276.4,236.75 276.18,238.81 275.94,240.81 275.69,242.75 275.43,244.62 275.16,246.38 274.87,248 274.57,249.55 274.26,251.12 273.94,252.82 273.61,254.81 273.26,257.1 272.9,259.66 272.54,262.61 272.16,266.18 271.77,270.95 271.37,276.24 270.96,281.03 270.54,285.55 270.11,289.97 269.67,294.22 269.22,298.2 268.76,301.96 268.29,305.73 267.81,309.36 267.31,312.68 266.81,315.5 266.31,317.63 265.79,319.42 265.26,320.99 264.72,322.39 264.17,323.68 263.62,324.9 263.05,326.12 262.48,327.41 261.89,328.85 261.3,330.45 260.7,332.14 260.09,333.86 259.47,335.56 258.84,337.14 258.21,338.55 257.56,339.76 256.91,340.88 256.25,341.92 255.58,342.9 254.9,343.85 254.21,344.79 253.52,345.74 252.81,346.71 252.1,347.67 251.38,348.61 250.65,349.53 249.92,350.4 249.17,351.23 248.42,352.03 247.66,352.81 246.89,353.56 246.11,354.28 245.33,354.99 244.53,355.68 243.73,356.34 242.93,356.98 242.11,357.61 241.29,358.23 240.45,358.84 239.62,359.43 238.77,360.02 237.91,360.59 237.05,361.16 236.18,361.73 235.3,362.3 234.42,362.88 233.53,363.48 232.63,364.09 231.72,364.72 230.81,365.35 229.88,365.99 228.95,366.65 228.02,367.31 227.07,367.98 226.12,368.67 225.16,369.37 224.2,370.08 223.23,370.79 222.25,371.52 221.26,372.27 220.26,373.02 219.26,373.8 218.25,374.59 217.24,375.4 216.21,376.21 215.18,377.04 214.15,377.89 213.1,378.78 212.05,379.72 210.99,380.73 209.93,381.83 208.86,383.02 207.78,384.29 206.69,385.61 205.6,386.97 204.5,388.35 203.4,389.74 202.28,391.2 201.16,392.7 200.04,394.22 198.9,395.74 197.76,397.25 196.62,398.73 195.46,400.2 194.3,401.68 193.14,403.22 191.96,404.84 190.78,406.64 189.6,408.6 188.4,410.56 187.2,412.34 186,413.82 184.78,415.18 183.56,416.44 182.34,417.6 181.1,418.64 179.87,419.58 178.62,420.49 177.37,421.4 176.11,422.22 174.84,422.89 173.57,423.31 172.29,423.47 171.01,423.57 169.72,423.65 168.42,423.7 167.12,423.68 165.81,423.19 164.49,422.26 163.17,421.1 161.84,419.93 160.51,418.92 159.16,417.89 157.82,416.82 156.46,415.71 155.1,414.56 153.74,413.37 152.36,412.14 150.99,410.86 149.6,409.53 148.21,408.14 146.81,406.7 145.41,405.2 144,403.61 142.58,401.95 141.16,400.23 139.73,398.46 138.3,396.64 136.86,394.76 135.41,392.81 133.96,390.8 132.5,388.74M132.5,386.8 133.96,383.56 135.41,380.51 136.86,377.78 138.3,375.49 139.73,373.48 141.16,371.65 142.58,369.96 144,368.38 145.41,366.87 146.81,365.39 148.21,363.91 149.6,362.43 150.99,361 152.36,359.61 153.74,358.26 155.1,356.94 156.46,355.63 157.82,354.33 159.16,353.04 160.51,351.73 161.84,350.42 163.17,349.13 164.49,347.86 165.81,346.6 167.12,345.35 168.42,344.09 169.72,342.82 171.01,341.53 172.29,340.22 173.57,338.87 174.84,337.49 176.11,336.14 177.37,334.76 178.62,333.33 179.87,331.81 181.1,330.15 182.34,328.33 183.56,326.27 184.78,323.98 186,321.48 187.2,318.81 188.4,315.91 189.6,312.69 190.78,309.22 191.96,305.57 193.14,301.82 194.3,297.98 195.46,293.88 196.62,289.64 197.76,285.35 198.9,280.96 200.04,276.48 201.16,271.88 202.28,267.15 203.4,262.31 204.5,257.23 205.6,252.17 206.69,247.53 207.78,243.16 208.86,238.62 209.93,233.54 210.99,228.13 212.05,222.88 213.1,217.74 214.15,212.79 215.18,208.59 216.21,205.33 217.24,202.22 218.25,198.55 219.26,194.54 220.26,190.4 221.26,186.27 222.25,182.06 223.23,177.76 224.2,173.22 225.16,168.48 226.12,164.09 227.07,160.2 228.02,156.61 228.95,153.29 229.88,150.11 230.81,146.7 231.72,143.5 232.63,141.29 233.53,139.51 234.42,138.31 235.3,137.58 236.18,137.01 237.05,136.7 237.91,136.76 238.77,137.15 239.62,137.76 240.45,138.62 241.29,140.27 242.11,142.38 242.93,144.67 243.73,147.45 244.53,150.48 245.33,153.45 246.11,156.4 246.89,159.42 247.66,162.54 248.42,165.8 249.17,169.18 249.92,172.68 250.65,176.29 251.38,180.02 252.1,183.97 252.81,188.19 253.52,192.47 254.21,196.64 254.9,200.83 255.58,205.72 256.25,210.15 256.91,212.86 257.56,213.24 258.21,213.29 258.84,213.33 259.47,213.35 260.09,213.37 260.7,213.38 261.3,213.37 261.89,213.36 262.48,213.32 263.05,213.19 263.62,213 264.17,212.76 264.72,212.49 265.26,212.2 265.79,211.9 266.31,211.6 266.81,211.31 267.31,211.05 267.81,210.81 268.29,210.6 268.76,210.39 269.22,210.19 269.67,209.99 270.11,209.8 270.54,209.61 270.96,209.43 271.37,209.26 271.77,209.09 272.16,208.93 272.54,208.79 272.9,208.64 273.26,208.51 273.61,208.38 273.94,208.26 274.26,208.15 274.57,208.04 274.87,207.93 275.16,207.84 275.43,207.74 275.69,207.66 275.94,207.57 276.18,207.5 276.4,207.42 276.61,207.36 276.81,207.3 276.99,207.24 277.15,207.19 277.3,207.14 277.43,207.1 277.55,207.07 277.65,207.04 277.72,207.02 277.78,207 277.8,207 277.8,206.98 277.78,208.78 277.72,212.65 277.65,216.78 277.55,220.1 277.43,223.1 277.3,225.74 277.15,228.22 276.99,230.52 276.81,232.67 276.61,234.74 276.4,236.83 276.18,238.89 275.94,240.88 275.69,242.82 275.43,244.68 275.16,246.44 274.87,248.06 274.57,249.61 274.26,251.17 273.94,252.88 273.61,254.87 273.26,257.17 272.9,259.74 272.54,262.71 272.16,266.3 271.77,271.1 271.37,276.43 270.96,281.25 270.54,285.8 270.11,290.25 269.67,294.53 269.22,298.54 268.76,302.32 268.29,306.12 267.81,309.77 267.31,313.12 266.81,315.95 266.31,318.09 265.79,319.88 265.26,321.46 264.72,322.86 264.17,324.15 263.62,325.38 263.05,326.6 262.48,327.89 261.89,329.33 261.3,330.93 260.7,332.63 260.09,334.36 259.47,336.06 258.84,337.65 258.21,339.06 257.56,340.27 256.91,341.39 256.25,342.43 255.58,343.41 254.9,344.36 254.21,345.3 253.52,346.25 252.81,347.22 252.1,348.18 251.38,349.12 250.65,350.04 249.92,350.92 249.17,351.74 248.42,352.54 247.66,353.32 246.89,354.07 246.11,354.79 245.33,355.5 244.53,356.18 243.73,356.84 242.93,357.48 242.11,358.11 241.29,358.72 240.45,359.33 239.62,359.93 238.77,360.51 237.91,361.08 237.05,361.65 236.18,362.21 235.3,362.78 234.42,363.36 233.53,363.96 232.63,364.57 231.72,365.2 230.81,365.83 229.88,366.47 228.95,367.13 228.02,367.79 227.07,368.46 226.12,369.15 225.16,369.85 224.2,370.56 223.23,371.28 222.25,372.01 221.26,372.75 220.26,373.51 219.26,374.29 218.25,375.09 217.24,375.9 216.21,376.72 215.18,377.54 214.15,378.4 213.1,379.29 212.05,380.24 210.99,381.26 209.93,382.36 208.86,383.56 207.78,384.84 206.69,386.17 205.6,387.54 204.5,388.92 203.4,390.33 202.28,391.8 201.16,393.31 200.04,394.84 198.9,396.38 197.76,397.9 196.62,399.39 195.46,400.87 194.3,402.36 193.14,403.91 191.96,405.55 190.78,407.37 189.6,409.34 188.4,411.31 187.2,413.11 186,414.61 184.78,415.97 183.56,417.25 182.34,418.41 181.1,419.47 179.87,420.41 178.62,421.33 177.37,422.25 176.11,423.08 174.84,423.75 173.57,424.18 172.29,424.33 171.01,424.44 169.72,424.51 168.42,424.56 167.12,424.54 165.81,424.05 164.49,423.11 163.17,421.93 161.84,420.76 160.51,419.73 159.16,418.7 157.82,417.62 156.46,416.5 155.1,415.34 153.74,414.13 152.36,412.89 150.99,411.59 149.6,410.25 148.21,408.85 146.81,407.39 145.41,405.88 144,404.28 142.58,402.6 141.16,400.86 139.73,399.07 138.3,397.24 136.86,395.34 135.41,393.37 133.96,391.35 132.5,389.26M132.5,387.25 133.96,383.97 135.41,380.9 136.86,378.15 138.3,375.84 139.73,373.81 141.16,371.97 142.58,370.27 144,368.68 145.41,367.15 146.81,365.66 148.21,364.17 149.6,362.68 150.99,361.23 152.36,359.83 153.74,358.47 155.1,357.14 156.46,355.82 157.82,354.52 159.16,353.21 160.51,351.9 161.84,350.57 163.17,349.27 164.49,347.99 165.81,346.72 167.12,345.46 168.42,344.2 169.72,342.92 171.01,341.62 172.29,340.3 173.57,338.94 174.84,337.55 176.11,336.18 177.37,334.8 178.62,333.36 179.87,331.82 181.1,330.16 182.34,328.32 183.56,326.25 184.78,323.94 186,321.43 187.2,318.74 188.4,315.82 189.6,312.58 190.78,309.08 191.96,305.4 193.14,301.63 194.3,297.76 195.46,293.63 196.62,289.36 197.76,285.04 198.9,280.62 200.04,276.1 201.16,271.47 202.28,266.71 203.4,261.84 204.5,256.73 205.6,251.64 206.69,246.96 207.78,242.56 208.86,238 209.93,232.88 210.99,227.44 212.05,222.16 213.1,216.98 214.15,212.01 215.18,207.78 216.21,204.5 217.24,201.38 218.25,197.69 219.26,193.66 220.26,189.5 221.26,185.34 222.25,181.12 223.23,176.79 224.2,172.23 225.16,167.46 226.12,163.06 227.07,159.15 228.02,155.54 228.95,152.21 229.88,149.02 230.81,145.59 231.72,142.38 232.63,140.18 233.53,138.39 234.42,137.2 235.3,136.48 236.18,135.92 237.05,135.63 237.91,135.7 238.77,136.11 239.62,136.74 240.45,137.63 241.29,139.31 242.11,141.45 242.93,143.77 243.73,146.6 244.53,149.67 245.33,152.68 246.11,155.67 246.89,158.72 247.66,161.89 248.42,165.2 249.17,168.62 249.92,172.16 250.65,175.82 251.38,179.6 252.1,183.6 252.81,187.87 253.52,192.2 254.21,196.42 254.9,200.67 255.58,205.62 256.25,210.1 256.91,212.85 257.56,213.24 258.21,213.31 258.84,213.36 259.47,213.4 260.09,213.43 260.7,213.44 261.3,213.45 261.89,213.45 262.48,213.41 263.05,213.3 263.62,213.12 264.17,212.89 264.72,212.62 265.26,212.34 265.79,212.05 266.31,211.75 266.81,211.47 267.31,211.21 267.81,210.98 268.29,210.78 268.76,210.58 269.22,210.39 269.67,210.19 270.11,210.01 270.54,209.83 270.96,209.65 271.37,209.48 271.77,209.32 272.16,209.17 272.54,209.03 272.9,208.89 273.26,208.76 273.61,208.64 273.94,208.53 274.26,208.42 274.57,208.31 274.87,208.21 275.16,208.12 275.43,208.03 275.69,207.95 275.94,207.87 276.18,207.79 276.4,207.72 276.61,207.66 276.81,207.6 276.99,207.55 277.15,207.5 277.3,207.46 277.43,207.42 277.55,207.39 277.65,207.36 277.72,207.34 277.78,207.32 277.8,207.32 277.8,207.31 277.78,209.09 277.72,212.91 277.65,217 277.55,220.3 277.43,223.27 277.3,225.89 277.15,228.35 276.99,230.63 276.81,232.76 276.61,234.83 276.4,236.91 276.18,238.96 275.94,240.95 275.69,242.88 275.43,244.74 275.16,246.5 274.87,248.12 274.57,249.66 274.26,251.22 273.94,252.93 273.61,254.93 273.26,257.23 272.9,259.81 272.54,262.79 272.16,266.4 271.77,271.23 271.37,276.59 270.96,281.45 270.54,286.02 270.11,290.5 269.67,294.81 269.22,298.84 268.76,302.65 268.29,306.47 267.81,310.14 267.31,313.51 266.81,316.35 266.31,318.51 265.79,320.31 265.26,321.89 264.72,323.29 264.17,324.58 263.62,325.81 263.05,327.03 262.48,328.33 261.89,329.77 261.3,331.37 260.7,333.07 260.09,334.81 259.47,336.51 258.84,338.11 258.21,339.52 257.56,340.74 256.91,341.85 256.25,342.89 255.58,343.87 254.9,344.82 254.21,345.76 253.52,346.71 252.81,347.68 252.1,348.65 251.38,349.59 250.65,350.5 249.92,351.38 249.17,352.21 248.42,353.01 247.66,353.78 246.89,354.53 246.11,355.25 245.33,355.95 244.53,356.64 243.73,357.3 242.93,357.94 242.11,358.56 241.29,359.17 240.45,359.78 239.62,360.37 238.77,360.95 237.91,361.52 237.05,362.09 236.18,362.65 235.3,363.22 234.42,363.8 233.53,364.39 232.63,365.01 231.72,365.63 230.81,366.27 229.88,366.91 228.95,367.56 228.02,368.23 227.07,368.9 226.12,369.59 225.16,370.29 224.2,371 223.23,371.72 222.25,372.45 221.26,373.2 220.26,373.96 219.26,374.74 218.25,375.54 217.24,376.35 216.21,377.17 215.18,378 214.15,378.86 213.1,379.76 212.05,380.71 210.99,381.73 209.93,382.85 208.86,384.05 207.78,385.33 206.69,386.67 205.6,388.05 204.5,389.45 203.4,390.86 202.28,392.34 201.16,393.86 200.04,395.4 198.9,396.95 197.76,398.48 196.62,399.98 195.46,401.47 194.3,402.98 193.14,404.54 191.96,406.19 190.78,408.02 189.6,410.02 188.4,412 187.2,413.81 186,415.32 184.78,416.7 183.56,417.98 182.34,419.16 181.1,420.22 179.87,421.17 178.62,422.1 177.37,423.02 176.11,423.86 174.84,424.53 173.57,424.96 172.29,425.12 171.01,425.22 169.72,425.3 168.42,425.34 167.12,425.32 165.81,424.83 164.49,423.88 163.17,422.69 161.84,421.51 160.51,420.47 159.16,419.43 157.82,418.34 156.46,417.21 155.1,416.04 153.74,414.82 152.36,413.57 150.99,412.26 149.6,410.9 148.21,409.49 146.81,408.02 145.41,406.49 144,404.88 142.58,403.19 141.16,401.43 139.73,399.63 138.3,397.78 136.86,395.86 135.41,393.88 133.96,391.84 132.5,389.73M132.5,387.5 133.96,384.21 135.41,381.12 136.86,378.36 138.3,376.04 139.73,374 141.16,372.15 142.58,370.44 144,368.84 145.41,367.31 146.81,365.82 148.21,364.32 149.6,362.82 150.99,361.37 152.36,359.96 153.74,358.59 155.1,357.25 156.46,355.93 157.82,354.62 159.16,353.31 160.51,351.99 161.84,350.66 163.17,349.35 164.49,348.07 165.81,346.8 167.12,345.53 168.42,344.26 169.72,342.97 171.01,341.67 172.29,340.34 173.57,338.98 174.84,337.59 176.11,336.21 177.37,334.82 178.62,333.38 179.87,331.84 181.1,330.16 182.34,328.32 183.56,326.24 184.78,323.92 186,321.4 187.2,318.69 188.4,315.77 189.6,312.51 190.78,309 191.96,305.31 193.14,301.52 194.3,297.63 195.46,293.49 196.62,289.2 197.76,284.86 198.9,280.43 200.04,275.89 201.16,271.24 202.28,266.47 203.4,261.57 204.5,256.45 205.6,251.33 206.69,246.64 207.78,242.22 208.86,237.64 209.93,232.51 210.99,227.05 212.05,221.75 213.1,216.55 214.15,211.56 215.18,207.32 216.21,204.03 217.24,200.9 218.25,197.2 219.26,193.16 220.26,188.99 221.26,184.82 222.25,180.59 223.23,176.24 224.2,171.67 225.16,166.89 226.12,162.47 227.07,158.55 228.02,154.93 228.95,151.6 229.88,148.4 230.81,144.97 231.72,141.75 232.63,139.54 233.53,137.76 234.42,136.57 235.3,135.86 236.18,135.3 237.05,135.02 237.91,135.1 238.77,135.52 239.62,136.16 240.45,137.07 241.29,138.76 242.11,140.93 242.93,143.27 243.73,146.11 244.53,149.21 245.33,152.24 246.11,155.25 246.89,158.33 247.66,161.52 248.42,164.85 249.17,168.3 249.92,171.87 250.65,175.55 251.38,179.36 252.1,183.39 252.81,187.68 253.52,192.05 254.21,196.3 254.9,200.58 255.58,205.56 256.25,210.07 256.91,212.84 257.56,213.25 258.21,213.32 258.84,213.38 259.47,213.42 260.09,213.46 260.7,213.48 261.3,213.49 261.89,213.5 262.48,213.47 263.05,213.36 263.62,213.18 264.17,212.96 264.72,212.7 265.26,212.42 265.79,212.13 266.31,211.84 266.81,211.57 267.31,211.31 267.81,211.08 268.29,210.88 268.76,210.69 269.22,210.5 269.67,210.31 270.11,210.13 270.54,209.95 270.96,209.78 271.37,209.61 271.77,209.46 272.16,209.31 272.54,209.17 272.9,209.03 273.26,208.91 273.61,208.79 273.94,208.68 274.26,208.57 274.57,208.47 274.87,208.37 275.16,208.28 275.43,208.19 275.69,208.11 275.94,208.03 276.18,207.96 276.4,207.9 276.61,207.83 276.81,207.78 276.99,207.73 277.15,207.68 277.3,207.64 277.43,207.6 277.55,207.57 277.65,207.54 277.72,207.52 277.78,207.51 277.8,207.5 277.8,207.5 277.78,209.27 277.72,213.06 277.65,217.13 277.55,220.41 277.43,223.36 277.3,225.97 277.15,228.42 276.99,230.7 276.81,232.82 276.61,234.88 276.4,236.96 276.18,239 275.94,240.99 275.69,242.91 275.43,244.78 275.16,246.53 274.87,248.15 274.57,249.69 274.26,251.25 273.94,252.96 273.61,254.96 273.26,257.27 272.9,259.85 272.54,262.84 272.16,266.46 271.77,271.31 271.37,276.69 270.96,281.56 270.54,286.15 270.11,290.65 269.67,294.97 269.22,299.02 268.76,302.84 268.29,306.67 267.81,310.36 267.31,313.73 266.81,316.59 266.31,318.75 265.79,320.55 265.26,322.13 264.72,323.54 264.17,324.83 263.62,326.05 263.05,327.28 262.48,328.57 261.89,330.01 261.3,331.62 260.7,333.33 260.09,335.06 259.47,336.77 258.84,338.37 258.21,339.78 257.56,341 256.91,342.12 256.25,343.16 255.58,344.14 254.9,345.09 254.21,346.02 253.52,346.98 252.81,347.95 252.1,348.91 251.38,349.85 250.65,350.77 249.92,351.64 249.17,352.47 248.42,353.27 247.66,354.04 246.89,354.79 246.11,355.51 245.33,356.21 244.53,356.9 243.73,357.56 242.93,358.2 242.11,358.82 241.29,359.43 240.45,360.03 239.62,360.63 238.77,361.21 237.91,361.78 237.05,362.34 236.18,362.9 235.3,363.47 234.42,364.05 233.53,364.64 232.63,365.26 231.72,365.88 230.81,366.51 229.88,367.16 228.95,367.81 228.02,368.47 227.07,369.15 226.12,369.84 225.16,370.54 224.2,371.25 223.23,371.97 222.25,372.7 221.26,373.45 220.26,374.21 219.26,374.99 218.25,375.8 217.24,376.61 216.21,377.43 215.18,378.27 214.15,379.13 213.1,380.03 212.05,380.98 210.99,382.01 209.93,383.12 208.86,384.33 207.78,385.62 206.69,386.96 205.6,388.34 204.5,389.74 203.4,391.17 202.28,392.65 201.16,394.17 200.04,395.72 198.9,397.28 197.76,398.82 196.62,400.32 195.46,401.82 194.3,403.33 193.14,404.9 191.96,406.55 190.78,408.4 189.6,410.4 188.4,412.39 187.2,414.21 186,415.73 184.78,417.11 183.56,418.4 182.34,419.58 181.1,420.65 179.87,421.6 178.62,422.53 177.37,423.46 176.11,424.3 174.84,424.98 173.57,425.41 172.29,425.57 171.01,425.67 169.72,425.74 168.42,425.79 167.12,425.77 165.81,425.27 164.49,424.31 163.17,423.13 161.84,421.93 160.51,420.89 159.16,419.84 157.82,418.75 156.46,417.61 155.1,416.43 153.74,415.21 152.36,413.95 150.99,412.64 149.6,411.28 148.21,409.86 146.81,408.38 145.41,406.84 144,405.22 142.58,403.52 141.16,401.76 139.73,399.94 138.3,398.08 136.86,396.16 135.41,394.17 133.96,392.11 132.5,390" fill="none" stroke="#4a4a4a" stroke-width="0.95" stroke-opacity="0.8"/>
<path d="M131.4,324.4C136.17,323.85 152.73,323.93 160,323.6C167.27,323.27 170.83,322.72 175,322.4C179.17,322.08 181.67,321.97 185,321.7C188.33,321.43 191.55,321.4 195,320.8C198.45,320.2 202.15,319.52 205.7,318.1C209.25,316.68 213.28,314.52 216.3,312.3C219.32,310.08 221.67,307.3 223.8,304.8C225.93,302.3 227.32,299.97 229.1,297.3C230.88,294.63 232.72,291.63 234.5,288.8C236.28,285.97 238.03,283.15 239.8,280.3C241.57,277.45 243.32,274.55 245.1,271.7C246.88,268.85 248.77,266.15 250.5,263.2C252.23,260.25 253.83,257.12 255.5,254C257.17,250.88 258.83,247.58 260.5,244.5C262.17,241.42 263.92,238.42 265.5,235.5C267.08,232.58 268.87,229.33 270,227C271.13,224.67 271.72,222.08 272.3,221.5C272.88,220.92 273.58,221.08 273.5,223.5C273.42,225.92 272.55,232.17 271.8,236C271.05,239.83 270.05,243.17 269,246.5C267.95,249.83 266.98,252.68 265.5,256C264.02,259.32 261.9,263.07 260.1,266.4C258.3,269.73 256.67,272.62 254.7,276C252.73,279.38 250.43,283.15 248.3,286.7C246.17,290.25 244.03,294.28 241.9,297.3C239.77,300.32 237.98,302.3 235.5,304.8C233.02,307.3 230.2,309.82 227,312.3C223.8,314.78 219.85,317.83 216.3,319.7C212.75,321.57 209.25,322.6 205.7,323.5C202.15,324.4 200.12,324.63 195,325.1C189.88,325.57 185.6,326 175,326.3C164.4,326.6 138.67,327.22 131.4,326.9C124.13,326.58 126.63,324.95 131.4,324.4Z" fill="#ffb1bf" fill-opacity="0.9" stroke="#a85a66" stroke-width="0.8"/>
<path d="M133.9,390.2C134.17,389.17 134.65,386.15 135.5,384C136.35,381.85 137.25,379.72 139,377.3C140.75,374.88 143.48,372.38 146,369.5C148.52,366.62 151.47,362.92 154.1,360C156.73,357.08 159.4,354.58 161.8,352C164.2,349.42 166.3,347 168.5,344.5C170.7,342 173,339.42 175,337C177,334.58 178.78,332.5 180.5,330C182.22,327.5 183.8,325 185.3,322C186.8,319 188.12,315.67 189.5,312C190.88,308.33 192.32,304.17 193.6,300C194.88,295.83 196.05,291.33 197.2,287C198.35,282.67 199.48,278.17 200.5,274C201.52,269.83 202.4,266 203.3,262C204.2,258 204.95,254.17 205.9,250C206.85,245.83 207.98,241.67 209,237C210.02,232.33 211,226.83 212,222C213,217.17 214.08,211.67 215,208C215.92,204.33 216.58,203.33 217.5,200C218.42,196.67 219.5,192.17 220.5,188C221.5,183.83 222.58,179.17 223.5,175C224.42,170.83 225.27,166.33 226,163C226.73,159.67 227.3,157.5 227.9,155C228.5,152.5 229,150.33 229.6,148C230.2,145.67 230.77,143.17 231.5,141C232.23,138.83 233.03,136.55 234,135C234.97,133.45 236.17,131.87 237.3,131.7C238.43,131.53 239.75,132.62 240.8,134C241.85,135.38 242.82,138.17 243.6,140C244.38,141.83 244.92,143.33 245.5,145C246.08,146.67 246.43,147.67 247.1,150C247.77,152.33 248.6,155.67 249.5,159C250.4,162.33 251.5,166.5 252.5,170C253.5,173.5 254.45,176.83 255.5,180C256.55,183.17 257.72,186.5 258.8,189C259.88,191.5 261.07,193.17 262,195C262.93,196.83 263.32,198.5 264.4,200C265.48,201.5 267.07,202.92 268.5,204C269.93,205.08 271.48,205.75 273,206.5C274.52,207.25 276.83,208.17 277.6,208.5C277.63,209.92 277.87,214.08 277.8,217C277.73,219.92 277.47,223 277.2,226C276.93,229 276.6,232.33 276.2,235C275.8,237.67 275.23,239.5 274.8,242C274.37,244.5 273.98,246.67 273.6,250C273.22,253.33 272.92,257 272.5,262C272.08,267 271.67,273.67 271.1,280C270.53,286.33 269.87,293.67 269.1,300C268.33,306.33 267.7,313 266.5,318C265.3,323 263.3,326.33 261.9,330C260.5,333.67 259.5,337.17 258.1,340C256.7,342.83 254.92,345 253.5,347C252.08,349 251.02,350.42 249.6,352C248.18,353.58 246.52,355.17 245,356.5C243.48,357.83 242.5,358.58 240.5,360C238.5,361.42 235.43,363.33 233,365C230.57,366.67 228.4,368.17 225.9,370C223.4,371.83 220.48,374 218,376C215.52,378 213.28,379.67 211,382C208.72,384.33 206.47,387.25 204.3,390C202.13,392.75 200.05,395.75 198,398.5C195.95,401.25 193.9,403.75 192,406.5C190.1,409.25 188.6,412.5 186.6,415C184.6,417.5 182.27,419.75 180,421.5C177.73,423.25 175.08,424.78 173,425.5C170.92,426.22 169.45,426.47 167.5,425.8C165.55,425.13 163.63,423.3 161.3,421.5C158.97,419.7 156.05,417.33 153.5,415C150.95,412.67 148.42,410.17 146,407.5C143.58,404.83 141.02,401.88 139,399C136.98,396.12 134.75,391.67 133.9,390.2Z" fill="none" stroke="#ff0424" stroke-width="7.2" stroke-linejoin="round"/>
<path d="M350,409C350.33,407.5 351.25,403 352,400C352.75,397 353.5,393.83 354.5,391C355.5,388.17 356.5,385.75 358,383C359.5,380.25 361.42,377.25 363.5,374.5C365.58,371.75 368.08,369.17 370.5,366.5C372.92,363.83 375.48,361.25 378,358.5C380.52,355.75 383.35,352.75 385.6,350C387.85,347.25 389.52,344.83 391.5,342C393.48,339.17 395.58,336.33 397.5,333C399.42,329.67 401.33,325.83 403,322C404.67,318.17 406.17,314.5 407.5,310C408.83,305.5 409.82,300 411,295C412.18,290 413.38,285 414.6,280C415.82,275 417.08,270 418.3,265C419.52,260 420.7,255.33 421.9,250C423.1,244.67 424.32,238.67 425.5,233C426.68,227.33 427.87,221.5 429,216C430.13,210.5 431.22,205.17 432.3,200C433.38,194.83 434.38,190.5 435.5,185C436.62,179.5 437.85,172.83 439,167C440.15,161.17 441.32,155.33 442.4,150C443.48,144.67 444.48,140 445.5,135C446.52,130 447.53,124.08 448.5,120C449.47,115.92 450.38,112.83 451.3,110.5C452.22,108.17 453.12,107 454,106C454.88,105 455.7,104.47 456.6,104.5C457.5,104.53 458.45,105.03 459.4,106.2C460.35,107.37 461.32,109.2 462.3,111.5C463.28,113.8 464.3,116.58 465.3,120C466.3,123.42 467.27,127.67 468.3,132C469.33,136.33 470.42,141.67 471.5,146C472.58,150.33 473.63,154.17 474.8,158C475.97,161.83 477.13,165.5 478.5,169C479.87,172.5 481.42,175.92 483,179C484.58,182.08 486.1,184.92 488,187.5C489.9,190.08 493.33,193.33 494.4,194.5C494.55,195.92 495.17,200.08 495.3,203C495.43,205.92 495.32,208.33 495.2,212C495.08,215.67 494.88,220.33 494.6,225C494.32,229.67 493.88,235.83 493.5,240C493.12,244.17 492.8,245 492.3,250C491.8,255 491.22,263.33 490.5,270C489.78,276.67 489.03,283.33 488,290C486.97,296.67 485.63,303.33 484.3,310C482.97,316.67 481.65,323.33 480,330C478.35,336.67 476.48,345 474.4,350C472.32,355 470.4,356.92 467.5,360C464.6,363.08 460.58,365.83 457,368.5C453.42,371.17 449.17,373.67 446,376C442.83,378.33 440.33,380.17 438,382.5C435.67,384.83 433.92,387.5 432,390C430.08,392.5 428.5,394.92 426.5,397.5C424.5,400.08 422.17,402.67 420,405.5C417.83,408.33 415.1,412.08 413.5,414.5C411.9,416.92 411.85,417.48 410.4,420C408.95,422.52 406.7,426.68 404.8,429.6C402.9,432.52 400.97,435.35 399,437.5C397.03,439.65 395.17,441.33 393,442.5C390.83,443.67 388.5,444.67 386,444.5C383.5,444.33 380.67,443.17 378,441.5C375.33,439.83 372.83,437.08 370,434.5C367.17,431.92 363.67,428.83 361,426C358.33,423.17 355.83,420.33 354,417.5C352.17,414.67 350.67,410.42 350,409Z" fill="#7c7c7c"/>
<path d="M350,409C350.33,407.5 351.25,403 352,400C352.75,397 353.5,393.83 354.5,391C355.5,388.17 356.5,385.75 358,383C359.5,380.25 361.42,377.25 363.5,374.5C365.58,371.75 368.08,369.17 370.5,366.5C372.92,363.83 375.48,361.25 378,358.5C380.52,355.75 383.35,352.75 385.6,350C387.85,347.25 389.52,344.83 391.5,342C393.48,339.17 395.58,336.33 397.5,333C399.42,329.67 401.33,325.83 403,322C404.67,318.17 406.17,314.5 407.5,310C408.83,305.5 409.82,300 411,295C412.18,290 413.38,285 414.6,280C415.82,275 417.08,270 418.3,265C419.52,260 420.7,255.33 421.9,250C423.1,244.67 424.32,238.67 425.5,233C426.68,227.33 427.87,221.5 429,216C430.13,210.5 431.22,205.17 432.3,200C433.38,194.83 434.38,190.5 435.5,185C436.62,179.5 437.85,172.83 439,167C440.15,161.17 441.32,155.33 442.4,150C443.48,144.67 444.38,139.86 445.5,135C446.62,130.14 448.03,123.45 449.1,120.85C450.17,118.25 450.98,119.77 451.9,119.42C452.82,119.08 453.82,118.9 454.6,118.75C455.38,118.6 455.8,118.52 456.6,118.53C457.4,118.53 458.45,118.61 459.4,118.78C460.35,118.95 461.32,119.23 462.3,119.58C463.28,119.92 464.3,118.78 465.3,120.85C466.3,122.92 467.27,127.81 468.3,132C469.33,136.19 470.42,141.67 471.5,146C472.58,150.33 473.63,154.17 474.8,158C475.97,161.83 477.13,165.5 478.5,169C479.87,172.5 481.42,175.92 483,179C484.58,182.08 486.1,184.92 488,187.5C489.9,190.08 493.33,193.33 494.4,194.5C494.55,195.92 495.17,200.08 495.3,203C495.43,205.92 495.32,208.33 495.2,212C495.08,215.67 494.88,220.33 494.6,225C494.32,229.67 493.88,235.83 493.5,240C493.12,244.17 492.8,245 492.3,250C491.8,255 491.22,263.33 490.5,270C489.78,276.67 489.03,283.33 488,290C486.97,296.67 485.63,303.33 484.3,310C482.97,316.67 481.65,323.33 480,330C478.35,336.67 476.48,345 474.4,350C472.32,355 470.4,356.92 467.5,360C464.6,363.08 460.58,365.83 457,368.5C453.42,371.17 449.17,373.67 446,376C442.83,378.33 440.33,380.17 438,382.5C435.67,384.83 433.92,387.5 432,390C430.08,392.5 428.5,394.92 426.5,397.5C424.5,400.08 422.17,402.67 420,405.5C417.83,408.33 415.1,412.08 413.5,414.5C411.9,416.92 411.85,417.48 410.4,420C408.95,422.52 406.7,426.68 404.8,429.6C402.9,432.52 400.97,435.35 399,437.5C397.03,439.65 395.17,441.33 393,442.5C390.83,443.67 388.5,444.67 386,444.5C383.5,444.33 380.67,443.17 378,441.5C375.33,439.83 372.83,437.08 370,434.5C367.17,431.92 363.67,428.83 361,426C358.33,423.17 355.83,420.33 354,417.5C352.17,414.67 350.67,410.42 350,409Z" fill="#ffb1bf"/>
<path d="M361.82,413.18 362.19,413.72 362.6,414.27 363.04,414.84 363.51,415.43 364.01,416.03 364.53,416.65 365.08,417.28 365.65,417.92 366.24,418.57 366.86,419.23 367.46,419.88 368.06,420.51 368.68,421.14 369.34,421.79 370.04,422.45 370.75,423.13 371.49,423.82 372.24,424.51 372.99,425.2 373.75,425.89 374.51,426.57 375.26,427.25 376.01,427.94 376.78,428.65 377.52,429.35 378.23,430.02 378.89,430.66 379.52,431.26 380.11,431.82 380.66,432.32 381.17,432.77 381.64,433.16 382.05,433.49 382.41,433.75 382.76,433.98 383.17,434.23 383.63,434.49 384.06,434.72 384.48,434.92 384.88,435.1 385.26,435.25 385.6,435.38 385.9,435.47 386.15,435.54 386.36,435.59 386.51,435.61 386.54,435.62 386.55,435.62 386.56,435.61 386.57,435.62 386.63,435.6 386.74,435.57 386.91,435.52 387.12,435.45 387.38,435.35 387.67,435.22 388.01,435.06" fill="none" stroke="#ffffff" stroke-width="3.2" stroke-linecap="round"/>
<path d="M355.48,407.81 355.74,408.44 356.01,409.11 356.3,409.81 356.61,410.54 356.93,411.27 357.27,412.01 357.61,412.71 357.96,413.38 358.3,413.99 358.63,414.54 359.01,415.1 359.43,415.7 359.89,416.32 360.37,416.94 360.87,417.57 361.4,418.22 361.96,418.87 362.53,419.53 363.13,420.19 363.74,420.87 364.37,421.55 364.99,422.22 365.62,422.88 366.28,423.54 366.97,424.22 367.69,424.91 368.42,425.61 369.18,426.31 369.94,427.01 370.7,427.71 371.47,428.41 372.23,429.09 372.97,429.77 373.72,430.45 374.46,431.13 375.18,431.81 375.88,432.48 376.54,433.12 377.19,433.73 377.8,434.31 378.39,434.85 378.96,435.35 379.49,435.8 380,436.2 380.47,436.54 380.94,436.85 381.45,437.16 381.99,437.47 382.52,437.75 383.04,438 383.55,438.23 384.04,438.43 384.5,438.6 384.95,438.74 385.36,438.85 385.73,438.93 386.07,438.98 386.35,439.01 386.58,439.02 386.81,439.01 387.05,438.98 387.32,438.93 387.62,438.86 387.95,438.76 388.3,438.64 388.68,438.49 389.08,438.32 389.5,438.12 389.94,437.9 390.36,437.67" fill="none" stroke="#4d5354" stroke-width="3.8" stroke-linecap="round"/>
<path d="M358.9,411.24 359.22,411.91 359.54,412.53 359.85,413.08 360.15,413.57 360.5,414.08 360.89,414.65 361.32,415.23 361.78,415.83 362.27,416.44 362.78,417.06 363.32,417.69 363.88,418.34 364.46,418.99 365.07,419.65 365.68,420.32 366.3,420.98 366.91,421.62 367.55,422.27 368.23,422.93 368.93,423.61 369.66,424.3 370.4,424.99 371.16,425.69 371.92,426.38 372.68,427.07 373.44,427.76 374.18,428.44 374.93,429.12 375.69,429.81 376.42,430.51 377.12,431.18 377.79,431.82 378.42,432.42 379.03,432.99 379.6,433.51 380.13,433.98 380.63,434.4 381.09,434.76 381.5,435.07 381.91,435.33 382.36,435.61 382.86,435.89 383.34,436.14 383.8,436.37 384.25,436.57 384.68,436.75 385.08,436.89 385.45,437.01 385.78,437.1 386.07,437.16 386.3,437.2 386.47,437.21 386.57,437.22 386.66,437.21 386.79,437.2 386.96,437.17 387.16,437.12 387.4,437.05 387.67,436.95 387.99,436.83 388.33,436.68 388.71,436.5" fill="none" stroke="#a4aaab" stroke-width="1.2" stroke-linecap="round"/>
<path d="M566.1,409C566.77,407.5 568.77,403 570.1,400C571.43,397 572.85,393.83 574.1,391C575.35,388.17 576.1,385.75 577.6,383C579.1,380.25 581.02,377.25 583.1,374.5C585.18,371.75 587.68,369.17 590.1,366.5C592.52,363.83 595.08,361.25 597.6,358.5C600.12,355.75 602.95,352.75 605.2,350C607.45,347.25 609.37,344.83 611.1,342C612.83,339.17 613.93,336.33 615.6,333C617.27,329.67 619.43,325.83 621.1,322C622.77,318.17 624.27,314.5 625.6,310C626.93,305.5 627.92,300 629.1,295C630.28,290 631.48,285 632.7,280C633.92,275 635.18,270 636.4,265C637.62,260 638.8,255.33 640,250C641.2,244.67 642.42,238.67 643.6,233C644.78,227.33 645.97,221.5 647.1,216C648.23,210.5 649.32,205.17 650.4,200C651.48,194.83 652.48,190.5 653.6,185C654.72,179.5 655.95,172.83 657.1,167C658.25,161.17 659.42,155.33 660.5,150C661.58,144.67 662.58,140 663.6,135C664.62,130 665.63,124.08 666.6,120C667.57,115.92 668.48,112.83 669.4,110.5C670.32,108.17 671.22,107 672.1,106C672.98,105 673.8,104.47 674.7,104.5C675.6,104.53 676.53,105.03 677.5,106.2C678.47,107.37 679.42,109.2 680.5,111.5C681.58,113.8 682.87,116.58 684,120C685.13,123.42 686.22,127.83 687.3,132C688.38,136.17 689.45,141 690.5,145C691.55,149 692.48,152.42 693.6,156C694.72,159.58 695.87,163.17 697.2,166.5C698.53,169.83 699.97,173.08 701.6,176C703.23,178.92 705.18,181.53 707,184C708.82,186.47 711.58,189.67 712.5,190.8C712.65,192.83 713.27,199.47 713.4,203C713.53,206.53 713.42,208.33 713.3,212C713.18,215.67 712.98,220.33 712.7,225C712.42,229.67 711.98,235.83 711.6,240C711.22,244.17 710.9,245 710.4,250C709.9,255 709.32,263.33 708.6,270C707.88,276.67 707.13,283.33 706.1,290C705.07,296.67 703.73,303.33 702.4,310C701.07,316.67 699.75,323.33 698.1,330C696.45,336.67 694.58,345 692.5,350C690.42,355 688.5,356.92 685.6,360C682.7,363.08 678.68,365.83 675.1,368.5C671.52,371.17 666.85,373.67 664.1,376C661.35,378.33 660.52,380.17 658.6,382.5C656.68,384.83 654.52,387.5 652.6,390C650.68,392.5 649.52,394.92 647.1,397.5C644.68,400.08 640.68,402.67 638.1,405.5C635.52,408.33 633.2,412.08 631.6,414.5C630,416.92 629.95,417.48 628.5,420C627.05,422.52 624.8,426.68 622.9,429.6C621,432.52 619.07,435.35 617.1,437.5C615.13,439.65 613.27,441.33 611.1,442.5C608.93,443.67 606.6,444.67 604.1,444.5C601.6,444.33 599.1,443.17 596.1,441.5C593.1,439.83 589.27,437.08 586.1,434.5C582.93,431.92 579.77,428.83 577.1,426C574.43,423.17 571.93,420.33 570.1,417.5C568.27,414.67 566.77,410.42 566.1,409Z" fill="#7c7c7c"/>
<path d="M566.1,409C566.77,407.5 568.77,403 570.1,400C571.43,397 572.85,393.83 574.1,391C575.35,388.17 576.1,385.75 577.6,383C579.1,380.25 581.02,377.25 583.1,374.5C585.18,371.75 587.68,369.17 590.1,366.5C592.52,363.83 595.08,361.25 597.6,358.5C600.12,355.75 602.95,352.75 605.2,350C607.45,347.25 609.37,344.83 611.1,342C612.83,339.17 613.93,336.33 615.6,333C617.27,329.67 619.43,325.83 621.1,322C622.77,318.17 624.27,314.5 625.6,310C626.93,305.5 627.92,300 629.1,295C630.28,290 631.48,285 632.7,280C633.92,275 635.18,270 636.4,265C637.62,260 638.8,255.33 640,250C641.2,244.67 642.42,238.67 643.6,233C644.78,227.33 645.97,221.5 647.1,216C648.23,210.5 649.32,205.17 650.4,200C651.48,194.83 652.48,190.5 653.6,185C654.72,179.5 655.95,172.83 657.1,167C658.25,161.17 659.42,155.33 660.5,150C661.58,144.67 662.58,140 663.6,135C664.62,130 665.53,123.73 666.6,120C667.67,116.27 668.98,113.97 670,112.62C671.02,111.28 671.92,112.1 672.7,111.95C673.48,111.8 673.9,111.72 674.7,111.72C675.5,111.73 676.53,111.81 677.5,111.98C678.47,112.16 679.42,111.44 680.5,112.78C681.58,114.11 682.87,116.8 684,120C685.13,123.2 686.22,127.83 687.3,132C688.38,136.17 689.45,141 690.5,145C691.55,149 692.48,152.42 693.6,156C694.72,159.58 695.87,163.17 697.2,166.5C698.53,169.83 699.97,173.08 701.6,176C703.23,178.92 705.18,181.53 707,184C708.82,186.47 711.58,189.67 712.5,190.8C712.65,192.83 713.27,199.47 713.4,203C713.53,206.53 713.42,208.33 713.3,212C713.18,215.67 712.98,220.33 712.7,225C712.42,229.67 711.98,235.83 711.6,240C711.22,244.17 710.9,245 710.4,250C709.9,255 709.32,263.33 708.6,270C707.88,276.67 707.13,283.33 706.1,290C705.07,296.67 703.73,303.33 702.4,310C701.07,316.67 699.75,323.33 698.1,330C696.45,336.67 694.58,345 692.5,350C690.42,355 688.5,356.92 685.6,360C682.7,363.08 678.68,365.83 675.1,368.5C671.52,371.17 666.85,373.67 664.1,376C661.35,378.33 660.52,380.17 658.6,382.5C656.68,384.83 654.52,387.5 652.6,390C650.68,392.5 649.52,394.92 647.1,397.5C644.68,400.08 640.68,402.67 638.1,405.5C635.52,408.33 633.2,412.08 631.6,414.5C630,416.92 629.95,417.48 628.5,420C627.05,422.52 624.8,426.68 622.9,429.6C621,432.52 619.07,435.35 617.1,437.5C615.13,439.65 613.27,441.33 611.1,442.5C608.93,443.67 606.6,444.67 604.1,444.5C601.6,444.33 599.1,443.17 596.1,441.5C593.1,439.83 589.27,437.08 586.1,434.5C582.93,431.92 579.77,428.83 577.1,426C574.43,423.17 571.93,420.33 570.1,417.5C568.27,414.67 566.77,410.42 566.1,409Z" fill="#ffb1bf"/>
<path d="M572.29,412.52 572.64,413.25 573,413.95 573.36,414.59 573.72,415.18 574.12,415.78 574.56,416.4 575.03,417.04 575.52,417.68 576.04,418.33 576.58,418.99 577.15,419.65 577.73,420.32 578.33,421 578.95,421.68 579.59,422.36 580.23,423.05 580.88,423.74 581.55,424.43 582.24,425.13 582.94,425.83 583.65,426.53 584.38,427.23 585.11,427.92 585.85,428.6 586.59,429.27 587.33,429.92 588.08,430.55 588.82,431.17 589.58,431.79 590.37,432.41 591.18,433.03 592,433.64 592.82,434.24 593.64,434.83 594.45,435.4 595.26,435.94 596.04,436.45 596.79,436.92 597.51,437.35 598.2,437.75 598.88,438.12 599.55,438.48 600.18,438.8 600.78,439.09 601.34,439.34 601.87,439.56 602.37,439.75 602.83,439.9 603.26,440.02 603.66,440.11 604.03,440.17 604.38,440.21 604.69,440.22 605,440.2 605.32,440.17 605.67,440.11 606.03,440.02 606.41,439.91 606.81,439.77 607.23,439.6 607.67,439.41 608.12,439.2 608.59,438.96 609.04,438.73 609.45,438.5 609.83,438.26" fill="none" stroke="#6d7374" stroke-width="1.5" stroke-linecap="round"/>
<path d="M449.8,123 L455.2,111 L457.6,116 Z" fill="#6a6a6a"/>
<path d="M668.5,121 L674.5,111 L677,116 Z" fill="#7a7a7a"/>
<path d="M489,189 L496,191 L495,196 Z" fill="#8a8a8a"/>
<path d="M707,184 L714,186 L713,191 Z" fill="#8a8a8a"/>
<path d="M349.6,390 Q352.2,378 359.5,369.5" fill="none" stroke="#c8a2aa" stroke-width="2.6"/>
<path d="M347.8,405 L348.9,390" fill="none" stroke="#6a6a6a" stroke-width="2.2"/>
<path d="M350,409C350.33,407.5 351.25,403 352,400C352.75,397 353.5,393.83 354.5,391C355.5,388.17 356.5,385.75 358,383C359.5,380.25 361.42,377.25 363.5,374.5C365.58,371.75 368.08,369.17 370.5,366.5C372.92,363.83 375.48,361.25 378,358.5C380.52,355.75 383.35,352.75 385.6,350C387.85,347.25 389.52,344.83 391.5,342C393.48,339.17 395.58,336.33 397.5,333C399.42,329.67 401.33,325.83 403,322C404.67,318.17 406.17,314.5 407.5,310C408.83,305.5 409.82,300 411,295C412.18,290 413.38,285 414.6,280C415.82,275 417.08,270 418.3,265C419.52,260 420.7,255.33 421.9,250C423.1,244.67 424.32,238.67 425.5,233C426.68,227.33 427.87,221.5 429,216C430.13,210.5 431.22,205.17 432.3,200C433.38,194.83 434.38,190.5 435.5,185C436.62,179.5 437.85,172.83 439,167C440.15,161.17 441.32,155.33 442.4,150C443.48,144.67 444.48,140 445.5,135C446.52,130 447.53,124.08 448.5,120C449.47,115.92 450.38,112.83 451.3,110.5C452.22,108.17 453.12,107 454,106C454.88,105 455.7,104.47 456.6,104.5C457.5,104.53 458.45,105.03 459.4,106.2C460.35,107.37 461.32,109.2 462.3,111.5C463.28,113.8 464.3,116.58 465.3,120C466.3,123.42 467.27,127.67 468.3,132C469.33,136.33 470.42,141.67 471.5,146C472.58,150.33 473.63,154.17 474.8,158C475.97,161.83 477.13,165.5 478.5,169C479.87,172.5 481.42,175.92 483,179C484.58,182.08 486.1,184.92 488,187.5C489.9,190.08 493.33,193.33 494.4,194.5C494.55,195.92 495.17,200.08 495.3,203C495.43,205.92 495.32,208.33 495.2,212C495.08,215.67 494.88,220.33 494.6,225C494.32,229.67 493.88,235.83 493.5,240C493.12,244.17 492.8,245 492.3,250C491.8,255 491.22,263.33 490.5,270C489.78,276.67 489.03,283.33 488,290C486.97,296.67 485.63,303.33 484.3,310C482.97,316.67 481.65,323.33 480,330C478.35,336.67 476.48,345 474.4,350C472.32,355 470.4,356.92 467.5,360C464.6,363.08 460.58,365.83 457,368.5C453.42,371.17 449.17,373.67 446,376C442.83,378.33 440.33,380.17 438,382.5C435.67,384.83 433.92,387.5 432,390C430.08,392.5 428.5,394.92 426.5,397.5C424.5,400.08 422.17,402.67 420,405.5C417.83,408.33 415.1,412.08 413.5,414.5C411.9,416.92 411.85,417.48 410.4,420C408.95,422.52 406.7,426.68 404.8,429.6C402.9,432.52 400.97,435.35 399,437.5C397.03,439.65 395.17,441.33 393,442.5C390.83,443.67 388.5,444.67 386,444.5C383.5,444.33 380.67,443.17 378,441.5C375.33,439.83 372.83,437.08 370,434.5C367.17,431.92 363.67,428.83 361,426C358.33,423.17 355.83,420.33 354,417.5C352.17,414.67 350.67,410.42 350,409Z" fill="none" stroke="#ff0424" stroke-width="7.2" stroke-linejoin="round"/>
<path d="M566.1,409C566.77,407.5 568.77,403 570.1,400C571.43,397 572.85,393.83 574.1,391C575.35,388.17 576.1,385.75 577.6,383C579.1,380.25 581.02,377.25 583.1,374.5C585.18,371.75 587.68,369.17 590.1,366.5C592.52,363.83 595.08,361.25 597.6,358.5C600.12,355.75 602.95,352.75 605.2,350C607.45,347.25 609.37,344.83 611.1,342C612.83,339.17 613.93,336.33 615.6,333C617.27,329.67 619.43,325.83 621.1,322C622.77,318.17 624.27,314.5 625.6,310C626.93,305.5 627.92,300 629.1,295C630.28,290 631.48,285 632.7,280C633.92,275 635.18,270 636.4,265C637.62,260 638.8,255.33 640,250C641.2,244.67 642.42,238.67 643.6,233C644.78,227.33 645.97,221.5 647.1,216C648.23,210.5 649.32,205.17 650.4,200C651.48,194.83 652.48,190.5 653.6,185C654.72,179.5 655.95,172.83 657.1,167C658.25,161.17 659.42,155.33 660.5,150C661.58,144.67 662.58,140 663.6,135C664.62,130 665.63,124.08 666.6,120C667.57,115.92 668.48,112.83 669.4,110.5C670.32,108.17 671.22,107 672.1,106C672.98,105 673.8,104.47 674.7,104.5C675.6,104.53 676.53,105.03 677.5,106.2C678.47,107.37 679.42,109.2 680.5,111.5C681.58,113.8 682.87,116.58 684,120C685.13,123.42 686.22,127.83 687.3,132C688.38,136.17 689.45,141 690.5,145C691.55,149 692.48,152.42 693.6,156C694.72,159.58 695.87,163.17 697.2,166.5C698.53,169.83 699.97,173.08 701.6,176C703.23,178.92 705.18,181.53 707,184C708.82,186.47 711.58,189.67 712.5,190.8C712.65,192.83 713.27,199.47 713.4,203C713.53,206.53 713.42,208.33 713.3,212C713.18,215.67 712.98,220.33 712.7,225C712.42,229.67 711.98,235.83 711.6,240C711.22,244.17 710.9,245 710.4,250C709.9,255 709.32,263.33 708.6,270C707.88,276.67 707.13,283.33 706.1,290C705.07,296.67 703.73,303.33 702.4,310C701.07,316.67 699.75,323.33 698.1,330C696.45,336.67 694.58,345 692.5,350C690.42,355 688.5,356.92 685.6,360C682.7,363.08 678.68,365.83 675.1,368.5C671.52,371.17 666.85,373.67 664.1,376C661.35,378.33 660.52,380.17 658.6,382.5C656.68,384.83 654.52,387.5 652.6,390C650.68,392.5 649.52,394.92 647.1,397.5C644.68,400.08 640.68,402.67 638.1,405.5C635.52,408.33 633.2,412.08 631.6,414.5C630,416.92 629.95,417.48 628.5,420C627.05,422.52 624.8,426.68 622.9,429.6C621,432.52 619.07,435.35 617.1,437.5C615.13,439.65 613.27,441.33 611.1,442.5C608.93,443.67 606.6,444.67 604.1,444.5C601.6,444.33 599.1,443.17 596.1,441.5C593.1,439.83 589.27,437.08 586.1,434.5C582.93,431.92 579.77,428.83 577.1,426C574.43,423.17 571.93,420.33 570.1,417.5C568.27,414.67 566.77,410.42 566.1,409Z" fill="none" stroke="#ff0424" stroke-width="7.2" stroke-linejoin="round"/>
<clipPath id="cc0"><rect x="116.3" y="1190" width="186.6" height="434.4"/></clipPath>
<path d="M114,1593 114.39,1592.29 114.78,1591.57 115.17,1590.84 115.56,1590.09 115.95,1589.32 116.34,1588.53 116.73,1587.72 117.11,1586.89 117.5,1586.05 117.89,1585.18 118.28,1584.31 118.67,1583.42 119.06,1582.52 119.45,1581.61 119.84,1580.7 120.23,1579.78 120.62,1578.86 121.01,1577.94 121.4,1577.02 121.79,1576.1 122.18,1575.19 122.56,1574.28 122.95,1573.36 123.34,1572.44 123.73,1571.52 124.12,1570.6 124.51,1569.67 124.9,1568.75 125.29,1567.82 125.68,1566.88 126.07,1565.95 126.46,1565.01 126.85,1564.07 127.24,1563.13 127.63,1562.19 128.02,1561.24 128.4,1560.3 128.79,1559.35 129.18,1558.4 129.57,1557.45 129.96,1556.49 130.35,1555.53 130.74,1554.54 131.13,1553.53 131.52,1552.5 131.91,1551.47 132.3,1550.43 132.69,1549.39 133.08,1548.35 133.47,1547.33 133.85,1546.31 134.24,1545.32 134.63,1544.35 135.02,1543.41 135.41,1542.51 135.8,1541.64 136.19,1540.82 136.58,1540.04 136.97,1539.26 137.36,1538.47 137.75,1537.69 138.14,1536.93 138.53,1536.19 138.92,1535.48 139.31,1534.8 139.69,1534.18 140.08,1533.62 140.47,1533.12 140.86,1532.7 141.25,1532.36 141.64,1532.05 142.03,1531.76 142.42,1531.47 142.81,1531.2 143.2,1530.96 143.59,1530.74 143.98,1530.56 144.37,1530.43 144.76,1530.34 145.14,1530.3 145.53,1530.33 145.92,1530.44 146.31,1530.61 146.7,1530.84 147.09,1531.13 147.48,1531.45 147.87,1531.82 148.26,1532.21 148.65,1532.61 149.04,1533.03 149.43,1533.46 149.82,1534.01 150.21,1534.65 150.6,1535.39 150.98,1536.2 151.37,1537.08 151.76,1538 152.15,1538.96 152.54,1539.94 152.93,1540.94 153.32,1541.92 153.71,1542.9 154.1,1543.84 154.49,1544.83 154.88,1545.9 155.27,1547.02 155.66,1548.17 156.05,1549.34 156.43,1550.5 156.82,1551.64 157.21,1552.74 157.6,1553.78 157.99,1554.74 158.38,1555.6 158.77,1556.35 159.16,1557.02 159.55,1557.67 159.94,1558.3 160.33,1558.91 160.72,1559.5 161.11,1560.07 161.5,1560.62 161.89,1561.14 162.27,1561.64 162.66,1562.11 163.05,1562.55 163.44,1562.96 163.83,1563.34 164.22,1563.68 164.61,1563.99 165,1564.27 165.39,1564.52 165.78,1564.75 166.17,1564.98 166.56,1565.2 166.95,1565.41 167.34,1565.61 167.72,1565.81 168.11,1566 168.5,1566.18 168.89,1566.35 169.28,1566.51 169.67,1566.66 170.06,1566.81 170.45,1566.94 170.84,1567.07 171.23,1567.18 171.62,1567.29 172.01,1567.38 172.4,1567.46 172.79,1567.54 173.18,1567.6 173.56,1567.65 173.95,1567.7 174.34,1567.76 174.73,1567.81 175.12,1567.86 175.51,1567.9 175.9,1567.95 176.29,1568 176.68,1568.04 177.07,1568.08 177.46,1568.12 177.85,1568.15 178.24,1568.19 178.63,1568.22 179.01,1568.25 179.4,1568.28 179.79,1568.3 180.18,1568.33 180.57,1568.35 180.96,1568.36 181.35,1568.38 181.74,1568.39 182.13,1568.39 182.52,1568.4 182.91,1568.4 183.3,1568.39 183.69,1568.38 184.08,1568.36 184.47,1568.34 184.85,1568.3 185.24,1568.27 185.63,1568.22 186.02,1568.18 186.41,1568.12 186.8,1568.07 187.19,1568.01 187.58,1567.95 187.97,1567.88 188.36,1567.81 188.75,1567.74 189.14,1567.67 189.53,1567.6 189.92,1567.52 190.3,1567.45 190.69,1567.38 191.08,1567.3 191.47,1567.23 191.86,1567.16 192.25,1567.09 192.64,1567.02 193.03,1566.95 193.42,1566.89 193.81,1566.83 194.2,1566.77 194.59,1566.71 194.98,1566.66 195.37,1566.6 195.76,1566.54 196.14,1566.49 196.53,1566.43 196.92,1566.38 197.31,1566.32 197.7,1566.26 198.09,1566.21 198.48,1566.15 198.87,1566.09 199.26,1566.04 199.65,1565.98 200.04,1565.92 200.43,1565.87 200.82,1565.81 201.21,1565.75 201.59,1565.7 201.98,1565.64 202.37,1565.58 202.76,1565.52 203.15,1565.47 203.54,1565.41 203.93,1565.35 204.32,1565.29 204.71,1565.23 205.1,1565.17 205.49,1565.11 205.88,1565.06 206.27,1565 206.66,1564.93 207.04,1564.87 207.43,1564.81 207.82,1564.75 208.21,1564.69 208.6,1564.63 208.99,1564.56 209.38,1564.5 209.77,1564.44 210.16,1564.37 210.55,1564.31 210.94,1564.25 211.33,1564.19 211.72,1564.12 212.11,1564.06 212.5,1564 212.88,1563.94 213.27,1563.88 213.66,1563.82 214.05,1563.76 214.44,1563.69 214.83,1563.63 215.22,1563.56 215.61,1563.5 216,1563.43 216.39,1563.36 216.78,1563.29 217.17,1563.21 217.56,1563.14 217.95,1563.06 218.33,1562.98 218.72,1562.89 219.11,1562.81 219.5,1562.72 219.89,1562.63 220.28,1562.53 220.67,1562.43 221.06,1562.33 221.45,1562.23 221.84,1562.12 222.23,1562.01 222.62,1561.9 223.01,1561.78 223.4,1561.67 223.79,1561.54 224.17,1561.42 224.56,1561.29 224.95,1561.16 225.34,1561.02 225.73,1560.88 226.12,1560.73 226.51,1560.58 226.9,1560.43 227.29,1560.27 227.68,1560.11 228.07,1559.94 228.46,1559.76 228.85,1559.59 229.24,1559.4 229.62,1559.21 230.01,1559.02 230.4,1558.82 230.79,1558.62 231.18,1558.4 231.57,1558.19 231.96,1557.96 232.35,1557.73 232.74,1557.5 233.13,1557.25 233.52,1556.99 233.91,1556.69 234.3,1556.38 234.69,1556.04 235.08,1555.67 235.46,1555.29 235.85,1554.88 236.24,1554.46 236.63,1554.01 237.02,1553.55 237.41,1553.06 237.8,1552.56 238.19,1552.03 238.58,1551.49 238.97,1550.94 239.36,1550.36 239.75,1549.76 240.14,1549.11 240.53,1548.42 240.91,1547.67 241.3,1546.88 241.69,1546.05 242.08,1545.16 242.47,1544.24 242.86,1543.27 243.25,1542.25 243.64,1541.19 244.03,1540.09 244.42,1538.94 244.81,1537.72 245.2,1536.33 245.59,1534.81 245.98,1533.18 246.37,1531.46 246.75,1529.67 247.14,1527.84 247.53,1525.98 247.92,1524.13 248.31,1522.31 248.7,1520.5 249.09,1518.65 249.48,1516.77 249.87,1514.85 250.26,1512.91 250.65,1510.96 251.04,1508.99 251.43,1507.02 251.82,1505.04 252.2,1503.08 252.59,1501.13 252.98,1499.19 253.37,1497.25 253.76,1495.31 254.15,1493.37 254.54,1491.4 254.93,1489.41 255.32,1487.39 255.71,1485.32 256.1,1483.21 256.49,1481.05 256.88,1478.85 257.27,1476.6 257.66,1474.32 258.04,1472.01 258.43,1469.67 258.82,1467.29 259.21,1464.9 259.6,1462.49 259.99,1460.06 260.38,1457.61 260.77,1455.13 261.16,1452.63 261.55,1450.1 261.94,1447.55 262.33,1444.97 262.72,1442.35 263.11,1439.7 263.49,1437.02 263.88,1434.31 264.27,1431.55 264.66,1428.72 265.05,1425.84 265.44,1422.92 265.83,1419.97 266.22,1417.01 266.61,1414.04 267,1411.08 267.39,1408.14 267.78,1405.23 268.17,1402.36 268.56,1399.53 268.95,1396.72 269.33,1393.9 269.72,1391.05 270.11,1388.14 270.5,1385.15 270.89,1382.07 271.28,1378.89 271.67,1375.65 272.06,1372.35 272.45,1368.97 272.84,1365.53 273.23,1362.02 273.62,1358.43 274.01,1354.76 274.4,1351.02 274.78,1347.18 275.17,1343.22 275.56,1339.15 275.95,1334.98 276.34,1330.74 276.73,1326.42 277.12,1322.05 277.51,1317.64 277.9,1313.19 278.29,1308.74 278.68,1304.28 279.07,1299.84 279.46,1295.42 279.85,1291.04 280.24,1286.73 280.62,1282.46 281.01,1278.23 281.4,1274.03 281.79,1269.86 282.18,1265.69 282.57,1261.52 282.96,1257.34 283.35,1253.14 283.74,1248.91 284.13,1244.63 284.52,1240.31 284.91,1235.93 285.3,1231.47 285.69,1226.94 286.07,1222.31 286.46,1217.58 286.85,1212.74 287.24,1207.78 287.63,1202.68 288.02,1197.45 288.41,1192.06 288.8,1186M114,1626 114.39,1625.45 114.78,1624.91 115.17,1624.37 115.56,1623.85 115.95,1623.35 116.33,1622.88 116.72,1622.43 117.11,1621.99 117.5,1621.57 117.89,1621.17 118.28,1620.77 118.67,1620.39 119.06,1620.01 119.45,1619.63 119.84,1619.27 120.23,1618.9 120.61,1618.54 121,1618.17 121.39,1617.8 121.78,1617.43 122.17,1617.06 122.56,1616.67 122.95,1616.28 123.34,1615.88 123.73,1615.46 124.12,1615.03 124.51,1614.59 124.89,1614.14 125.28,1613.68 125.67,1613.21 126.06,1612.74 126.45,1612.26 126.84,1611.77 127.23,1611.28 127.62,1610.79 128.01,1610.3 128.4,1609.81 128.79,1609.33 129.17,1608.84 129.56,1608.37 129.95,1607.9 130.34,1607.43 130.73,1606.98 131.12,1606.54 131.51,1606.1 131.9,1605.69 132.29,1605.28 132.68,1604.89 133.07,1604.52 133.45,1604.17 133.84,1603.82 134.23,1603.48 134.62,1603.14 135.01,1602.81 135.4,1602.48 135.79,1602.16 136.18,1601.84 136.57,1601.53 136.96,1601.22 137.35,1600.92 137.73,1600.63 138.12,1600.34 138.51,1600.05 138.9,1599.77 139.29,1599.49 139.68,1599.22 140.07,1598.95 140.46,1598.69 140.85,1598.43 141.24,1598.18 141.63,1597.93 142.01,1597.68 142.4,1597.44 142.79,1597.2 143.18,1596.97 143.57,1596.74 143.96,1596.51 144.35,1596.28 144.74,1596.05 145.13,1595.82 145.52,1595.6 145.91,1595.38 146.29,1595.16 146.68,1594.95 147.07,1594.73 147.46,1594.52 147.85,1594.32 148.24,1594.11 148.63,1593.91 149.02,1593.72 149.41,1593.53 149.8,1593.34 150.19,1593.15 150.57,1592.97 150.96,1592.8 151.35,1592.63 151.74,1592.46 152.13,1592.3 152.52,1592.14 152.91,1591.99 153.3,1591.85 153.69,1591.71 154.08,1591.57 154.47,1591.44 154.85,1591.31 155.24,1591.18 155.63,1591.06 156.02,1590.93 156.41,1590.81 156.8,1590.69 157.19,1590.56 157.58,1590.44 157.97,1590.33 158.36,1590.21 158.74,1590.1 159.13,1589.98 159.52,1589.87 159.91,1589.76 160.3,1589.66 160.69,1589.55 161.08,1589.44 161.47,1589.34 161.86,1589.24 162.25,1589.14 162.64,1589.05 163.02,1588.95 163.41,1588.86 163.8,1588.77 164.19,1588.68 164.58,1588.59 164.97,1588.51 165.36,1588.42 165.75,1588.34 166.14,1588.26 166.53,1588.19 166.92,1588.11 167.3,1588.04 167.69,1587.97 168.08,1587.9 168.47,1587.84 168.86,1587.77 169.25,1587.71 169.64,1587.65 170.03,1587.6 170.42,1587.54 170.81,1587.49 171.2,1587.44 171.58,1587.38 171.97,1587.33 172.36,1587.28 172.75,1587.24 173.14,1587.19 173.53,1587.14 173.92,1587.1 174.31,1587.05 174.7,1587.01 175.09,1586.97 175.48,1586.93 175.86,1586.89 176.25,1586.85 176.64,1586.81 177.03,1586.77 177.42,1586.73 177.81,1586.7 178.2,1586.66 178.59,1586.62 178.98,1586.59 179.37,1586.55 179.76,1586.52 180.14,1586.48 180.53,1586.45 180.92,1586.42 181.31,1586.38 181.7,1586.35 182.09,1586.32 182.48,1586.29 182.87,1586.25 183.26,1586.22 183.65,1586.19 184.04,1586.16 184.42,1586.13 184.81,1586.1 185.2,1586.06 185.59,1586.03 185.98,1586 186.37,1585.97 186.76,1585.94 187.15,1585.91 187.54,1585.88 187.93,1585.85 188.32,1585.82 188.7,1585.8 189.09,1585.77 189.48,1585.74 189.87,1585.71 190.26,1585.69 190.65,1585.66 191.04,1585.64 191.43,1585.61 191.82,1585.59 192.21,1585.56 192.6,1585.54 192.98,1585.51 193.37,1585.49 193.76,1585.46 194.15,1585.44 194.54,1585.42 194.93,1585.39 195.32,1585.37 195.71,1585.34 196.1,1585.32 196.49,1585.29 196.88,1585.27 197.26,1585.24 197.65,1585.22 198.04,1585.19 198.43,1585.16 198.82,1585.14 199.21,1585.11 199.6,1585.08 199.99,1585.06 200.38,1585.03 200.77,1585 201.16,1584.97 201.54,1584.94 201.93,1584.91 202.32,1584.87 202.71,1584.84 203.1,1584.81 203.49,1584.78 203.88,1584.75 204.27,1584.72 204.66,1584.68 205.05,1584.65 205.44,1584.62 205.82,1584.59 206.21,1584.56 206.6,1584.52 206.99,1584.49 207.38,1584.46 207.77,1584.42 208.16,1584.39 208.55,1584.35 208.94,1584.32 209.33,1584.28 209.72,1584.25 210.1,1584.21 210.49,1584.17 210.88,1584.14 211.27,1584.1 211.66,1584.06 212.05,1584.02 212.44,1583.98 212.83,1583.94 213.22,1583.89 213.61,1583.85 214,1583.81 214.38,1583.76 214.77,1583.72 215.16,1583.67 215.55,1583.62 215.94,1583.58 216.33,1583.53 216.72,1583.48 217.11,1583.42 217.5,1583.37 217.89,1583.32 218.28,1583.26 218.66,1583.2 219.05,1583.14 219.44,1583.07 219.83,1583 220.22,1582.93 220.61,1582.85 221,1582.78 221.39,1582.7 221.78,1582.61 222.17,1582.53 222.56,1582.44 222.94,1582.35 223.33,1582.26 223.72,1582.17 224.11,1582.07 224.5,1581.98 224.89,1581.88 225.28,1581.78 225.67,1581.68 226.06,1581.59 226.45,1581.49 226.84,1581.39 227.22,1581.29 227.61,1581.19 228,1581.09 228.39,1580.99 228.78,1580.89 229.17,1580.78 229.56,1580.67 229.95,1580.55 230.34,1580.43 230.73,1580.3 231.12,1580.16 231.5,1580.01 231.89,1579.85 232.28,1579.69 232.67,1579.51 233.06,1579.32 233.45,1579.1 233.84,1578.85 234.23,1578.57 234.62,1578.25 235.01,1577.92 235.4,1577.56 235.78,1577.17 236.17,1576.76 236.56,1576.33 236.95,1575.88 237.34,1575.41 237.73,1574.93 238.12,1574.43 238.51,1573.92 238.9,1573.39 239.29,1572.86 239.68,1572.32 240.06,1571.77 240.45,1571.21 240.84,1570.65 241.23,1570.05 241.62,1569.43 242.01,1568.77 242.4,1568.08 242.79,1567.36 243.18,1566.6 243.57,1565.81 243.96,1564.99 244.34,1564.13 244.73,1563.24 245.12,1562.31 245.51,1561.34 245.9,1560.34 246.29,1559.26 246.68,1558.09 247.07,1556.85 247.46,1555.53 247.85,1554.15 248.23,1552.71 248.62,1551.21 249.01,1549.67 249.4,1548.09 249.79,1546.47 250.18,1544.82 250.57,1543.16 250.96,1541.48 251.35,1539.77 251.74,1537.98 252.13,1536.14 252.51,1534.23 252.9,1532.26 253.29,1530.23 253.68,1528.15 254.07,1526.02 254.46,1523.84 254.85,1521.61 255.24,1519.29 255.63,1516.86 256.02,1514.34 256.41,1511.75 256.79,1509.11 257.18,1506.44 257.57,1503.75 257.96,1501.08 258.35,1498.43 258.74,1495.83 259.13,1493.3 259.52,1490.82 259.91,1488.37 260.3,1485.92 260.69,1483.46 261.07,1480.96 261.46,1478.39 261.85,1475.73 262.24,1472.96 262.63,1470.06 263.02,1466.98 263.41,1463.71 263.8,1460.31 264.19,1456.79 264.58,1453.21 264.97,1449.59 265.35,1445.98 265.74,1442.41 266.13,1438.89 266.52,1435.4 266.91,1431.9 267.3,1428.38 267.69,1424.82 268.08,1421.2 268.47,1417.51 268.86,1413.72 269.25,1409.81 269.63,1405.74 270.02,1401.56 270.41,1397.3 270.8,1393.02 271.19,1388.76 271.58,1384.56 271.97,1380.4 272.36,1376.25 272.75,1372.11 273.14,1367.95 273.53,1363.77 273.91,1359.55 274.3,1355.29 274.69,1350.96 275.08,1346.58 275.47,1342.15 275.86,1337.68 276.25,1333.17 276.64,1328.63 277.03,1324.07 277.42,1319.49 277.81,1314.91 278.19,1310.31 278.58,1305.73 278.97,1301.15 279.36,1296.58 279.75,1292.04 280.14,1287.57 280.53,1283.17 280.92,1278.82 281.31,1274.52 281.7,1270.26 282.09,1266.01 282.47,1261.78 282.86,1257.55 283.25,1253.31 283.64,1249.04 284.03,1244.75 284.42,1240.4 284.81,1236.01 285.2,1231.54 285.59,1227 285.98,1222.37 286.37,1217.63 286.75,1212.79 287.14,1207.82 287.53,1202.72 287.92,1197.47 288.31,1192.06 288.7,1186" fill="none" stroke="#ff0424" stroke-width="2.25" stroke-linejoin="round" clip-path="url(#cc0)"/>
<clipPath id="cc1"><rect x="334.2" y="1190" width="186.6" height="434.4"/></clipPath>
<path d="M332,1595 332.39,1594.2 332.78,1593.39 333.17,1592.58 333.56,1591.77 333.96,1590.94 334.35,1590.11 334.74,1589.28 335.13,1588.45 335.52,1587.61 335.91,1586.78 336.3,1585.95 336.69,1585.12 337.08,1584.28 337.48,1583.44 337.87,1582.59 338.26,1581.74 338.65,1580.88 339.04,1580 339.43,1579.12 339.82,1578.23 340.21,1577.33 340.6,1576.41 341,1575.48 341.39,1574.53 341.78,1573.56 342.17,1572.57 342.56,1571.57 342.95,1570.54 343.34,1569.5 343.73,1568.45 344.12,1567.37 344.51,1566.29 344.91,1565.2 345.3,1564.09 345.69,1562.98 346.08,1561.85 346.47,1560.72 346.86,1559.59 347.25,1558.45 347.64,1557.31 348.03,1556.16 348.43,1555.02 348.82,1553.88 349.21,1552.74 349.6,1551.6 349.99,1550.45 350.38,1549.27 350.77,1548.07 351.16,1546.85 351.55,1545.62 351.95,1544.38 352.34,1543.14 352.73,1541.9 353.12,1540.68 353.51,1539.46 353.9,1538.27 354.29,1537.09 354.68,1535.95 355.07,1534.85 355.47,1533.78 355.86,1532.76 356.25,1531.78 356.64,1530.78 357.03,1529.77 357.42,1528.76 357.81,1527.77 358.2,1526.81 358.59,1525.89 358.99,1525.02 359.38,1524.21 359.77,1523.48 360.16,1522.84 360.55,1522.29 360.94,1521.85 361.33,1521.43 361.72,1521.02 362.11,1520.64 362.51,1520.28 362.9,1519.96 363.29,1519.69 363.68,1519.49 364.07,1519.35 364.46,1519.3 364.85,1519.34 365.24,1519.46 365.63,1519.67 366.02,1519.94 366.42,1520.27 366.81,1520.65 367.2,1521.06 367.59,1521.51 367.98,1521.98 368.37,1522.56 368.76,1523.36 369.15,1524.35 369.54,1525.49 369.94,1526.75 370.33,1528.09 370.72,1529.48 371.11,1530.9 371.5,1532.29 371.89,1533.64 372.28,1534.96 372.67,1536.37 373.06,1537.85 373.46,1539.39 373.85,1540.96 374.24,1542.55 374.63,1544.12 375.02,1545.65 375.41,1547.13 375.8,1548.53 376.19,1549.83 376.58,1551.01 376.98,1552.06 377.37,1553.08 377.76,1554.08 378.15,1555.06 378.54,1556.02 378.93,1556.96 379.32,1557.86 379.71,1558.73 380.1,1559.57 380.5,1560.36 380.89,1561.11 381.28,1561.81 381.67,1562.45 382.06,1563.04 382.45,1563.57 382.84,1564.03 383.23,1564.43 383.62,1564.79 384.02,1565.14 384.41,1565.48 384.8,1565.82 385.19,1566.14 385.58,1566.45 385.97,1566.75 386.36,1567.04 386.75,1567.31 387.14,1567.58 387.53,1567.83 387.93,1568.08 388.32,1568.31 388.71,1568.52 389.1,1568.73 389.49,1568.92 389.88,1569.1 390.27,1569.26 390.66,1569.42 391.05,1569.56 391.45,1569.68 391.84,1569.79 392.23,1569.89 392.62,1569.97 393.01,1570.04 393.4,1570.1 393.79,1570.17 394.18,1570.23 394.57,1570.29 394.97,1570.35 395.36,1570.41 395.75,1570.46 396.14,1570.52 396.53,1570.57 396.92,1570.62 397.31,1570.67 397.7,1570.71 398.09,1570.76 398.49,1570.8 398.88,1570.84 399.27,1570.87 399.66,1570.91 400.05,1570.94 400.44,1570.97 400.83,1571 401.22,1571.02 401.61,1571.04 402.01,1571.06 402.4,1571.07 402.79,1571.08 403.18,1571.09 403.57,1571.1 403.96,1571.1 404.35,1571.1 404.74,1571.1 405.13,1571.1 405.53,1571.09 405.92,1571.09 406.31,1571.08 406.7,1571.07 407.09,1571.07 407.48,1571.06 407.87,1571.05 408.26,1571.04 408.65,1571.03 409.04,1571.01 409.44,1571 409.83,1570.99 410.22,1570.97 410.61,1570.96 411,1570.94 411.39,1570.93 411.78,1570.91 412.17,1570.9 412.56,1570.88 412.96,1570.86 413.35,1570.84 413.74,1570.82 414.13,1570.8 414.52,1570.78 414.91,1570.76 415.3,1570.75 415.69,1570.73 416.08,1570.7 416.48,1570.68 416.87,1570.66 417.26,1570.64 417.65,1570.62 418.04,1570.6 418.43,1570.58 418.82,1570.56 419.21,1570.54 419.6,1570.52 420,1570.5 420.39,1570.48 420.78,1570.46 421.17,1570.44 421.56,1570.42 421.95,1570.4 422.34,1570.38 422.73,1570.36 423.12,1570.34 423.52,1570.31 423.91,1570.29 424.3,1570.27 424.69,1570.25 425.08,1570.22 425.47,1570.2 425.86,1570.18 426.25,1570.15 426.64,1570.13 427.04,1570.1 427.43,1570.07 427.82,1570.05 428.21,1570.02 428.6,1569.99 428.99,1569.96 429.38,1569.93 429.77,1569.9 430.16,1569.87 430.56,1569.83 430.95,1569.8 431.34,1569.77 431.73,1569.73 432.12,1569.69 432.51,1569.66 432.9,1569.62 433.29,1569.58 433.68,1569.54 434.07,1569.49 434.47,1569.45 434.86,1569.41 435.25,1569.36 435.64,1569.31 436.03,1569.27 436.42,1569.22 436.81,1569.16 437.2,1569.11 437.59,1569.06 437.99,1569 438.38,1568.94 438.77,1568.87 439.16,1568.8 439.55,1568.71 439.94,1568.62 440.33,1568.52 440.72,1568.41 441.11,1568.3 441.51,1568.18 441.9,1568.05 442.29,1567.92 442.68,1567.78 443.07,1567.63 443.46,1567.48 443.85,1567.33 444.24,1567.16 444.63,1566.99 445.03,1566.82 445.42,1566.64 445.81,1566.46 446.2,1566.27 446.59,1566.08 446.98,1565.89 447.37,1565.69 447.76,1565.48 448.15,1565.28 448.55,1565.07 448.94,1564.84 449.33,1564.6 449.72,1564.35 450.11,1564.08 450.5,1563.79 450.89,1563.49 451.28,1563.18 451.67,1562.85 452.07,1562.51 452.46,1562.15 452.85,1561.78 453.24,1561.39 453.63,1560.99 454.02,1560.57 454.41,1560.14 454.8,1559.69 455.19,1559.23 455.58,1558.75 455.98,1558.26 456.37,1557.74 456.76,1557.17 457.15,1556.54 457.54,1555.87 457.93,1555.14 458.32,1554.37 458.71,1553.57 459.1,1552.72 459.5,1551.84 459.89,1550.93 460.28,1550 460.67,1549.04 461.06,1548.06 461.45,1547.04 461.84,1545.96 462.23,1544.81 462.62,1543.6 463.02,1542.33 463.41,1541.01 463.8,1539.64 464.19,1538.23 464.58,1536.78 464.97,1535.3 465.36,1533.77 465.75,1532.16 466.14,1530.49 466.54,1528.74 466.93,1526.94 467.32,1525.09 467.71,1523.2 468.1,1521.28 468.49,1519.34 468.88,1517.39 469.27,1515.42 469.66,1513.41 470.06,1511.35 470.45,1509.25 470.84,1507.12 471.23,1504.96 471.62,1502.78 472.01,1500.58 472.4,1498.36 472.79,1496.14 473.18,1493.91 473.58,1491.66 473.97,1489.39 474.36,1487.1 474.75,1484.79 475.14,1482.46 475.53,1480.1 475.92,1477.72 476.31,1475.31 476.7,1472.88 477.09,1470.41 477.49,1467.92 477.88,1465.39 478.27,1462.84 478.66,1460.26 479.05,1457.66 479.44,1455.03 479.83,1452.38 480.22,1449.7 480.61,1447 481.01,1444.26 481.4,1441.49 481.79,1438.67 482.18,1435.83 482.57,1432.97 482.96,1430.09 483.35,1427.19 483.74,1424.3 484.13,1421.4 484.53,1418.51 484.92,1415.58 485.31,1412.58 485.7,1409.54 486.09,1406.49 486.48,1403.45 486.87,1400.46 487.26,1397.53 487.65,1394.7 488.05,1391.99 488.44,1389.43 488.83,1387.14 489.22,1385 489.61,1382.87 490,1380.6 490.39,1378.06 490.78,1375.17 491.17,1372.02 491.57,1368.64 491.96,1365.07 492.35,1361.36 492.74,1357.55 493.13,1353.68 493.52,1349.79 493.91,1345.83 494.3,1341.74 494.69,1337.53 495.09,1333.22 495.48,1328.83 495.87,1324.37 496.26,1319.86 496.65,1315.32 497.04,1310.75 497.43,1306.18 497.82,1301.62 498.21,1297.09 498.6,1292.6 499,1288.17 499.39,1283.8 499.78,1279.48 500.17,1275.19 500.56,1270.92 500.95,1266.67 501.34,1262.42 501.73,1258.17 502.12,1253.89 502.52,1249.59 502.91,1245.26 503.3,1240.87 503.69,1236.43 504.08,1231.92 504.47,1227.33 504.86,1222.64 505.25,1217.86 505.64,1212.97 506.04,1207.96 506.43,1202.81 506.82,1197.53 507.21,1192.09 507.6,1186M334,1627 334.39,1626.66 334.77,1626.31 335.16,1625.96 335.55,1625.6 335.93,1625.24 336.32,1624.87 336.7,1624.49 337.09,1624.11 337.48,1623.72 337.86,1623.32 338.25,1622.91 338.64,1622.51 339.02,1622.09 339.41,1621.67 339.8,1621.25 340.18,1620.82 340.57,1620.4 340.96,1619.96 341.34,1619.53 341.73,1619.09 342.11,1618.65 342.5,1618.22 342.89,1617.78 343.27,1617.34 343.66,1616.89 344.05,1616.45 344.43,1616.02 344.82,1615.58 345.21,1615.14 345.59,1614.68 345.98,1614.22 346.37,1613.76 346.75,1613.29 347.14,1612.81 347.52,1612.33 347.91,1611.85 348.3,1611.36 348.68,1610.88 349.07,1610.4 349.46,1609.92 349.84,1609.44 350.23,1608.96 350.62,1608.49 351,1608.03 351.39,1607.58 351.78,1607.13 352.16,1606.69 352.55,1606.27 352.93,1605.85 353.32,1605.45 353.71,1605.06 354.09,1604.69 354.48,1604.33 354.87,1603.98 355.25,1603.63 355.64,1603.28 356.03,1602.94 356.41,1602.61 356.8,1602.27 357.18,1601.94 357.57,1601.62 357.96,1601.3 358.34,1600.99 358.73,1600.68 359.12,1600.38 359.5,1600.08 359.89,1599.79 360.28,1599.51 360.66,1599.24 361.05,1598.97 361.44,1598.71 361.82,1598.46 362.21,1598.21 362.59,1597.98 362.98,1597.75 363.37,1597.53 363.75,1597.33 364.14,1597.13 364.53,1596.94 364.91,1596.75 365.3,1596.56 365.69,1596.38 366.07,1596.2 366.46,1596.02 366.85,1595.85 367.23,1595.68 367.62,1595.51 368,1595.35 368.39,1595.19 368.78,1595.03 369.16,1594.88 369.55,1594.73 369.94,1594.58 370.32,1594.44 370.71,1594.3 371.1,1594.16 371.48,1594.02 371.87,1593.89 372.26,1593.76 372.64,1593.63 373.03,1593.5 373.41,1593.38 373.8,1593.26 374.19,1593.14 374.57,1593.02 374.96,1592.91 375.35,1592.8 375.73,1592.69 376.12,1592.58 376.51,1592.48 376.89,1592.38 377.28,1592.27 377.66,1592.17 378.05,1592.07 378.44,1591.97 378.82,1591.87 379.21,1591.78 379.6,1591.68 379.98,1591.58 380.37,1591.49 380.76,1591.39 381.14,1591.3 381.53,1591.21 381.92,1591.12 382.3,1591.03 382.69,1590.94 383.07,1590.85 383.46,1590.77 383.85,1590.68 384.23,1590.6 384.62,1590.52 385.01,1590.43 385.39,1590.36 385.78,1590.28 386.17,1590.2 386.55,1590.13 386.94,1590.06 387.33,1589.99 387.71,1589.92 388.1,1589.85 388.48,1589.78 388.87,1589.72 389.26,1589.66 389.64,1589.6 390.03,1589.54 390.42,1589.49 390.8,1589.44 391.19,1589.39 391.58,1589.34 391.96,1589.29 392.35,1589.25 392.73,1589.21 393.12,1589.17 393.51,1589.13 393.89,1589.09 394.28,1589.06 394.67,1589.02 395.05,1588.98 395.44,1588.95 395.83,1588.92 396.21,1588.89 396.6,1588.85 396.99,1588.82 397.37,1588.79 397.76,1588.76 398.14,1588.73 398.53,1588.71 398.92,1588.68 399.3,1588.65 399.69,1588.63 400.08,1588.6 400.46,1588.57 400.85,1588.55 401.24,1588.52 401.62,1588.5 402.01,1588.48 402.4,1588.45 402.78,1588.43 403.17,1588.41 403.55,1588.38 403.94,1588.36 404.33,1588.34 404.71,1588.32 405.1,1588.3 405.49,1588.27 405.87,1588.25 406.26,1588.23 406.65,1588.21 407.03,1588.19 407.42,1588.17 407.81,1588.14 408.19,1588.12 408.58,1588.1 408.96,1588.08 409.35,1588.06 409.74,1588.04 410.12,1588.01 410.51,1587.99 410.9,1587.97 411.28,1587.94 411.67,1587.92 412.06,1587.9 412.44,1587.87 412.83,1587.85 413.21,1587.82 413.6,1587.8 413.99,1587.78 414.37,1587.75 414.76,1587.73 415.15,1587.71 415.53,1587.68 415.92,1587.66 416.31,1587.63 416.69,1587.61 417.08,1587.59 417.47,1587.56 417.85,1587.54 418.24,1587.52 418.62,1587.49 419.01,1587.47 419.4,1587.45 419.78,1587.43 420.17,1587.4 420.56,1587.38 420.94,1587.36 421.33,1587.33 421.72,1587.31 422.1,1587.29 422.49,1587.27 422.88,1587.24 423.26,1587.22 423.65,1587.2 424.03,1587.18 424.42,1587.16 424.81,1587.14 425.19,1587.11 425.58,1587.09 425.97,1587.07 426.35,1587.05 426.74,1587.03 427.13,1587.01 427.51,1586.99 427.9,1586.97 428.29,1586.95 428.67,1586.93 429.06,1586.91 429.44,1586.89 429.83,1586.87 430.22,1586.85 430.6,1586.83 430.99,1586.81 431.38,1586.79 431.76,1586.77 432.15,1586.76 432.54,1586.74 432.92,1586.73 433.31,1586.71 433.69,1586.7 434.08,1586.69 434.47,1586.67 434.85,1586.66 435.24,1586.65 435.63,1586.63 436.01,1586.61 436.4,1586.6 436.79,1586.58 437.17,1586.55 437.56,1586.53 437.95,1586.5 438.33,1586.47 438.72,1586.44 439.1,1586.4 439.49,1586.35 439.88,1586.29 440.26,1586.23 440.65,1586.17 441.04,1586.1 441.42,1586.02 441.81,1585.94 442.2,1585.85 442.58,1585.76 442.97,1585.67 443.36,1585.56 443.74,1585.46 444.13,1585.35 444.51,1585.23 444.9,1585.11 445.29,1584.99 445.67,1584.86 446.06,1584.73 446.45,1584.6 446.83,1584.46 447.22,1584.32 447.61,1584.17 447.99,1584.02 448.38,1583.87 448.77,1583.7 449.15,1583.52 449.54,1583.31 449.92,1583.09 450.31,1582.85 450.7,1582.59 451.08,1582.31 451.47,1582.02 451.86,1581.71 452.24,1581.39 452.63,1581.05 453.02,1580.7 453.4,1580.33 453.79,1579.95 454.17,1579.56 454.56,1579.15 454.95,1578.73 455.33,1578.29 455.72,1577.85 456.11,1577.39 456.49,1576.91 456.88,1576.37 457.27,1575.8 457.65,1575.18 458.04,1574.53 458.43,1573.83 458.81,1573.1 459.2,1572.33 459.58,1571.52 459.97,1570.69 460.36,1569.82 460.74,1568.92 461.13,1567.99 461.52,1567.04 461.9,1566.06 462.29,1565.06 462.68,1564.02 463.06,1562.91 463.45,1561.72 463.84,1560.44 464.22,1559.09 464.61,1557.67 464.99,1556.18 465.38,1554.64 465.77,1553.03 466.15,1551.38 466.54,1549.67 466.93,1547.84 467.31,1545.88 467.7,1543.81 468.09,1541.65 468.47,1539.41 468.86,1537.12 469.24,1534.79 469.63,1532.45 470.02,1530.1 470.4,1527.77 470.79,1525.41 471.18,1522.99 471.56,1520.53 471.95,1518.03 472.34,1515.51 472.72,1512.97 473.11,1510.42 473.5,1507.87 473.88,1505.33 474.27,1502.8 474.65,1500.26 475.04,1497.72 475.43,1495.17 475.81,1492.61 476.2,1490.04 476.59,1487.48 476.97,1484.91 477.36,1482.34 477.75,1479.78 478.13,1477.23 478.52,1474.72 478.91,1472.25 479.29,1469.8 479.68,1467.35 480.06,1464.88 480.45,1462.37 480.84,1459.8 481.22,1457.16 481.61,1454.43 482,1451.58 482.38,1448.6 482.77,1445.52 483.16,1442.34 483.54,1439.07 483.93,1435.72 484.32,1432.3 484.7,1428.83 485.09,1425.31 485.47,1421.65 485.86,1417.78 486.25,1413.8 486.63,1409.8 487.02,1405.87 487.41,1402.1 487.79,1398.58 488.18,1395.29 488.57,1392.16 488.95,1389.11 489.34,1386.1 489.72,1383.05 490.11,1379.91 490.5,1376.72 490.88,1373.55 491.27,1370.39 491.66,1367.2 492.04,1363.96 492.43,1360.66 492.82,1357.26 493.2,1353.75 493.59,1350.11 493.98,1346.3 494.36,1342.34 494.75,1338.24 495.13,1334.03 495.52,1329.71 495.91,1325.31 496.29,1320.85 496.68,1316.33 497.07,1311.79 497.45,1307.23 497.84,1302.68 498.23,1298.15 498.61,1293.66 499,1289.21 499.39,1284.82 499.77,1280.45 500.16,1276.12 500.54,1271.8 500.93,1267.48 501.32,1263.17 501.7,1258.84 502.09,1254.5 502.48,1250.12 502.86,1245.71 503.25,1241.25 503.64,1236.73 504.02,1232.15 504.41,1227.49 504.8,1222.75 505.18,1217.92 505.57,1212.98 505.95,1207.94 506.34,1202.77 506.73,1197.47 507.11,1192.04 507.5,1186" fill="none" stroke="#ff0424" stroke-width="2.25" stroke-linejoin="round" clip-path="url(#cc1)"/>
<clipPath id="cc2"><rect x="552.3" y="1190" width="186.6" height="434.4"/></clipPath>
<path d="M550,1596 550.39,1595.16 550.78,1594.31 551.18,1593.46 551.57,1592.62 551.96,1591.76 552.35,1590.91 552.74,1590.05 553.13,1589.2 553.53,1588.36 553.92,1587.52 554.31,1586.68 554.7,1585.85 555.09,1585.01 555.48,1584.17 555.88,1583.32 556.27,1582.47 556.66,1581.61 557.05,1580.75 557.44,1579.87 557.84,1578.98 558.23,1578.08 558.62,1577.17 559.01,1576.24 559.4,1575.29 559.79,1574.32 560.19,1573.33 560.58,1572.33 560.97,1571.3 561.36,1570.27 561.75,1569.22 562.14,1568.15 562.54,1567.07 562.93,1565.98 563.32,1564.88 563.71,1563.77 564.1,1562.65 564.5,1561.52 564.89,1560.38 565.28,1559.24 565.67,1558.1 566.06,1556.94 566.45,1555.79 566.85,1554.63 567.24,1553.47 567.63,1552.31 568.02,1551.13 568.41,1549.92 568.8,1548.68 569.2,1547.42 569.59,1546.14 569.98,1544.86 570.37,1543.57 570.76,1542.28 571.16,1540.99 571.55,1539.72 571.94,1538.47 572.33,1537.24 572.72,1536.04 573.11,1534.88 573.51,1533.75 573.9,1532.67 574.29,1531.62 574.68,1530.54 575.07,1529.45 575.46,1528.35 575.86,1527.27 576.25,1526.23 576.64,1525.22 577.03,1524.28 577.42,1523.41 577.81,1522.64 578.21,1521.97 578.6,1521.43 578.99,1521 579.38,1520.6 579.77,1520.22 580.17,1519.85 580.56,1519.51 580.95,1519.19 581.34,1518.92 581.73,1518.69 582.12,1518.5 582.52,1518.37 582.91,1518.31 583.3,1518.31 583.69,1518.4 584.08,1518.57 584.47,1518.8 584.87,1519.1 585.26,1519.45 585.65,1519.85 586.04,1520.29 586.43,1520.75 586.83,1521.23 587.22,1521.87 587.61,1522.76 588,1523.84 588.39,1525.09 588.78,1526.46 589.18,1527.92 589.57,1529.42 589.96,1530.93 590.35,1532.4 590.74,1533.8 591.13,1535.18 591.53,1536.63 591.92,1538.14 592.31,1539.69 592.7,1541.27 593.09,1542.85 593.49,1544.4 593.88,1545.92 594.27,1547.37 594.66,1548.75 595.05,1550.03 595.44,1551.18 595.84,1552.22 596.23,1553.23 596.62,1554.23 597.01,1555.21 597.4,1556.17 597.79,1557.1 598.19,1558 598.58,1558.87 598.97,1559.7 599.36,1560.48 599.75,1561.22 600.15,1561.91 600.54,1562.55 600.93,1563.13 601.32,1563.65 601.71,1564.11 602.1,1564.5 602.5,1564.86 602.89,1565.22 603.28,1565.57 603.67,1565.91 604.06,1566.24 604.45,1566.56 604.85,1566.86 605.24,1567.16 605.63,1567.45 606.02,1567.73 606.41,1568 606.81,1568.25 607.2,1568.5 607.59,1568.73 607.98,1568.95 608.37,1569.16 608.76,1569.35 609.16,1569.53 609.55,1569.7 609.94,1569.86 610.33,1570 610.72,1570.12 611.11,1570.24 611.51,1570.33 611.9,1570.42 612.29,1570.48 612.68,1570.54 613.07,1570.59 613.47,1570.65 613.86,1570.7 614.25,1570.75 614.64,1570.8 615.03,1570.84 615.42,1570.89 615.82,1570.94 616.21,1570.98 616.6,1571.02 616.99,1571.06 617.38,1571.1 617.77,1571.14 618.17,1571.18 618.56,1571.22 618.95,1571.25 619.34,1571.28 619.73,1571.31 620.12,1571.34 620.52,1571.37 620.91,1571.4 621.3,1571.42 621.69,1571.45 622.08,1571.47 622.48,1571.49 622.87,1571.51 623.26,1571.53 623.65,1571.54 624.04,1571.55 624.43,1571.57 624.83,1571.58 625.22,1571.58 625.61,1571.59 626,1571.6 626.39,1571.6 626.78,1571.6 627.18,1571.6 627.57,1571.6 627.96,1571.59 628.35,1571.59 628.74,1571.58 629.14,1571.57 629.53,1571.56 629.92,1571.55 630.31,1571.54 630.7,1571.53 631.09,1571.51 631.49,1571.5 631.88,1571.48 632.27,1571.46 632.66,1571.44 633.05,1571.42 633.44,1571.4 633.84,1571.38 634.23,1571.36 634.62,1571.34 635.01,1571.31 635.4,1571.29 635.8,1571.27 636.19,1571.24 636.58,1571.22 636.97,1571.19 637.36,1571.16 637.75,1571.14 638.15,1571.11 638.54,1571.08 638.93,1571.06 639.32,1571.03 639.71,1571 640.1,1570.98 640.5,1570.95 640.89,1570.92 641.28,1570.9 641.67,1570.87 642.06,1570.85 642.46,1570.82 642.85,1570.8 643.24,1570.77 643.63,1570.75 644.02,1570.72 644.41,1570.7 644.81,1570.68 645.2,1570.65 645.59,1570.63 645.98,1570.61 646.37,1570.58 646.76,1570.56 647.16,1570.53 647.55,1570.51 647.94,1570.48 648.33,1570.45 648.72,1570.43 649.12,1570.4 649.51,1570.37 649.9,1570.34 650.29,1570.31 650.68,1570.28 651.07,1570.24 651.47,1570.21 651.86,1570.17 652.25,1570.14 652.64,1570.1 653.03,1570.06 653.42,1570.02 653.82,1569.97 654.21,1569.93 654.6,1569.88 654.99,1569.83 655.38,1569.78 655.78,1569.73 656.17,1569.68 656.56,1569.61 656.95,1569.54 657.34,1569.46 657.73,1569.37 658.13,1569.28 658.52,1569.17 658.91,1569.06 659.3,1568.94 659.69,1568.82 660.08,1568.68 660.48,1568.54 660.87,1568.4 661.26,1568.25 661.65,1568.09 662.04,1567.92 662.43,1567.75 662.83,1567.58 663.22,1567.39 663.61,1567.21 664,1567.01 664.39,1566.82 664.79,1566.62 665.18,1566.41 665.57,1566.2 665.96,1565.99 666.35,1565.77 666.74,1565.54 667.14,1565.29 667.53,1565.02 667.92,1564.74 668.31,1564.43 668.7,1564.11 669.09,1563.78 669.49,1563.42 669.88,1563.05 670.27,1562.66 670.66,1562.26 671.05,1561.84 671.45,1561.41 671.84,1560.96 672.23,1560.5 672.62,1560.02 673.01,1559.53 673.4,1559.03 673.8,1558.51 674.19,1557.98 674.58,1557.41 674.97,1556.79 675.36,1556.13 675.75,1555.42 676.15,1554.67 676.54,1553.89 676.93,1553.06 677.32,1552.21 677.71,1551.32 678.11,1550.4 678.5,1549.46 678.89,1548.49 679.28,1547.49 679.67,1546.44 680.06,1545.32 680.46,1544.13 680.85,1542.89 681.24,1541.58 681.63,1540.23 682.02,1538.83 682.41,1537.4 682.81,1535.92 683.2,1534.42 683.59,1532.84 683.98,1531.19 684.37,1529.47 684.77,1527.69 685.16,1525.85 685.55,1523.98 685.94,1522.06 686.33,1520.13 686.72,1518.18 687.12,1516.22 687.51,1514.22 687.9,1512.17 688.29,1510.09 688.68,1507.97 689.07,1505.81 689.47,1503.64 689.86,1501.44 690.25,1499.22 690.64,1497 691.03,1494.77 691.43,1492.52 691.82,1490.26 692.21,1487.97 692.6,1485.67 692.99,1483.34 693.38,1480.99 693.78,1478.61 694.17,1476.21 694.56,1473.78 694.95,1471.33 695.34,1468.89 695.73,1466.45 696.13,1464 696.52,1461.51 696.91,1458.97 697.3,1456.37 697.69,1453.69 698.09,1450.92 698.48,1448.03 698.87,1444.98 699.26,1441.67 699.65,1438.16 700.04,1434.53 700.44,1430.85 700.83,1427.19 701.22,1423.63 701.61,1420.25 702,1417.08 702.39,1413.99 702.79,1410.95 703.18,1407.97 703.57,1405.04 703.96,1402.18 704.35,1399.38 704.74,1396.66 705.14,1394 705.53,1391.41 705.92,1388.93 706.31,1386.68 706.7,1384.53 707.1,1382.37 707.49,1380.05 707.88,1377.45 708.27,1374.54 708.66,1371.4 709.05,1368.06 709.45,1364.56 709.84,1360.95 710.23,1357.27 710.62,1353.57 711.01,1349.88 711.4,1346.17 711.8,1342.4 712.19,1338.58 712.58,1334.69 712.97,1330.76 713.36,1326.78 713.76,1322.76 714.15,1318.7 714.54,1314.61 714.93,1310.49 715.32,1306.35 715.71,1302.19 716.11,1298.01 716.5,1293.82 716.89,1289.66 717.28,1285.53 717.67,1281.43 718.06,1277.36 718.46,1273.29 718.85,1269.23 719.24,1265.17 719.63,1261.09 720.02,1256.99 720.42,1252.86 720.81,1248.68 721.2,1244.45 721.59,1240.17 721.98,1235.82 722.37,1231.39 722.77,1226.87 723.16,1222.26 723.55,1217.54 723.94,1212.71 724.33,1207.76 724.72,1202.68 725.12,1197.45 725.51,1192.08 725.9,1186M552,1627 552.39,1626.66 552.77,1626.31 553.16,1625.96 553.55,1625.6 553.94,1625.24 554.32,1624.87 554.71,1624.49 555.1,1624.1 555.48,1623.71 555.87,1623.31 556.26,1622.91 556.64,1622.5 557.03,1622.08 557.42,1621.66 557.81,1621.24 558.19,1620.81 558.58,1620.38 558.97,1619.95 559.35,1619.51 559.74,1619.08 560.13,1618.64 560.52,1618.2 560.9,1617.76 561.29,1617.32 561.68,1616.88 562.06,1616.44 562.45,1616 562.84,1615.56 563.23,1615.11 563.61,1614.66 564,1614.2 564.39,1613.73 564.77,1613.26 565.16,1612.78 565.55,1612.3 565.93,1611.82 566.32,1611.33 566.71,1610.85 567.1,1610.36 567.48,1609.88 567.87,1609.4 568.26,1608.93 568.64,1608.46 569.03,1608 569.42,1607.54 569.81,1607.09 570.19,1606.66 570.58,1606.23 570.97,1605.82 571.35,1605.41 571.74,1605.03 572.13,1604.65 572.52,1604.29 572.9,1603.94 573.29,1603.6 573.68,1603.25 574.06,1602.91 574.45,1602.57 574.84,1602.24 575.22,1601.91 575.61,1601.59 576,1601.27 576.39,1600.95 576.77,1600.65 577.16,1600.34 577.55,1600.05 577.93,1599.76 578.32,1599.48 578.71,1599.2 579.1,1598.94 579.48,1598.68 579.87,1598.43 580.26,1598.18 580.64,1597.95 581.03,1597.72 581.42,1597.51 581.81,1597.3 582.19,1597.1 582.58,1596.91 582.97,1596.72 583.35,1596.53 583.74,1596.35 584.13,1596.16 584.51,1595.99 584.9,1595.81 585.29,1595.64 585.68,1595.47 586.06,1595.3 586.45,1595.14 586.84,1594.98 587.22,1594.82 587.61,1594.67 588,1594.52 588.39,1594.37 588.77,1594.23 589.16,1594.09 589.55,1593.95 589.93,1593.81 590.32,1593.68 590.71,1593.55 591.1,1593.43 591.48,1593.31 591.87,1593.19 592.26,1593.07 592.64,1592.96 593.03,1592.85 593.42,1592.75 593.8,1592.65 594.19,1592.55 594.58,1592.45 594.97,1592.36 595.35,1592.27 595.74,1592.18 596.13,1592.09 596.51,1592 596.9,1591.92 597.29,1591.83 597.68,1591.75 598.06,1591.66 598.45,1591.58 598.84,1591.5 599.22,1591.41 599.61,1591.33 600,1591.26 600.39,1591.18 600.77,1591.1 601.16,1591.03 601.55,1590.95 601.93,1590.88 602.32,1590.81 602.71,1590.73 603.09,1590.66 603.48,1590.6 603.87,1590.53 604.26,1590.46 604.64,1590.4 605.03,1590.33 605.42,1590.27 605.8,1590.21 606.19,1590.15 606.58,1590.09 606.97,1590.03 607.35,1589.97 607.74,1589.92 608.13,1589.86 608.51,1589.81 608.9,1589.76 609.29,1589.71 609.68,1589.66 610.06,1589.61 610.45,1589.56 610.84,1589.52 611.22,1589.47 611.61,1589.43 612,1589.39 612.38,1589.35 612.77,1589.31 613.16,1589.28 613.55,1589.24 613.93,1589.21 614.32,1589.17 614.71,1589.14 615.09,1589.11 615.48,1589.08 615.87,1589.05 616.26,1589.02 616.64,1589 617.03,1588.97 617.42,1588.94 617.8,1588.92 618.19,1588.89 618.58,1588.87 618.97,1588.84 619.35,1588.82 619.74,1588.8 620.13,1588.78 620.51,1588.75 620.9,1588.73 621.29,1588.71 621.67,1588.69 622.06,1588.67 622.45,1588.65 622.84,1588.63 623.22,1588.61 623.61,1588.59 624,1588.57 624.38,1588.56 624.77,1588.54 625.16,1588.52 625.55,1588.5 625.93,1588.48 626.32,1588.46 626.71,1588.44 627.09,1588.43 627.48,1588.41 627.87,1588.39 628.26,1588.37 628.64,1588.35 629.03,1588.33 629.42,1588.31 629.8,1588.29 630.19,1588.27 630.58,1588.25 630.96,1588.23 631.35,1588.21 631.74,1588.19 632.13,1588.16 632.51,1588.14 632.9,1588.12 633.29,1588.09 633.67,1588.07 634.06,1588.05 634.45,1588.02 634.84,1588 635.22,1587.97 635.61,1587.95 636,1587.92 636.38,1587.89 636.77,1587.87 637.16,1587.84 637.55,1587.81 637.93,1587.79 638.32,1587.76 638.71,1587.73 639.09,1587.71 639.48,1587.68 639.87,1587.65 640.25,1587.63 640.64,1587.6 641.03,1587.57 641.42,1587.54 641.8,1587.52 642.19,1587.49 642.58,1587.46 642.96,1587.43 643.35,1587.41 643.74,1587.38 644.13,1587.35 644.51,1587.32 644.9,1587.3 645.29,1587.27 645.67,1587.24 646.06,1587.21 646.45,1587.19 646.84,1587.16 647.22,1587.13 647.61,1587.11 648,1587.08 648.38,1587.06 648.77,1587.03 649.16,1587 649.54,1586.98 649.93,1586.95 650.32,1586.93 650.71,1586.9 651.09,1586.88 651.48,1586.86 651.87,1586.83 652.25,1586.81 652.64,1586.79 653.03,1586.77 653.42,1586.75 653.8,1586.73 654.19,1586.71 654.58,1586.69 654.96,1586.67 655.35,1586.65 655.74,1586.62 656.13,1586.59 656.51,1586.56 656.9,1586.52 657.29,1586.48 657.67,1586.43 658.06,1586.39 658.45,1586.34 658.83,1586.28 659.22,1586.22 659.61,1586.16 660,1586.1 660.38,1586.03 660.77,1585.95 661.16,1585.88 661.54,1585.8 661.93,1585.71 662.32,1585.63 662.71,1585.54 663.09,1585.44 663.48,1585.34 663.87,1585.24 664.25,1585.13 664.64,1585.02 665.03,1584.91 665.42,1584.79 665.8,1584.66 666.19,1584.54 666.58,1584.4 666.96,1584.24 667.35,1584.06 667.74,1583.86 668.12,1583.63 668.51,1583.39 668.9,1583.13 669.29,1582.84 669.67,1582.54 670.06,1582.23 670.45,1581.89 670.83,1581.55 671.22,1581.18 671.61,1580.8 672,1580.41 672.38,1580.01 672.77,1579.6 673.16,1579.17 673.54,1578.74 673.93,1578.3 674.32,1577.84 674.71,1577.35 675.09,1576.81 675.48,1576.24 675.87,1575.64 676.25,1575 676.64,1574.32 677.03,1573.6 677.41,1572.86 677.8,1572.08 678.19,1571.27 678.58,1570.42 678.96,1569.55 679.35,1568.65 679.74,1567.72 680.12,1566.76 680.51,1565.77 680.9,1564.72 681.29,1563.58 681.67,1562.35 682.06,1561.04 682.45,1559.66 682.83,1558.19 683.22,1556.66 683.61,1555.06 684,1553.4 684.38,1551.68 684.77,1549.84 685.16,1547.83 685.54,1545.67 685.93,1543.39 686.32,1541.02 686.7,1538.58 687.09,1536.1 687.48,1533.6 687.87,1531.13 688.25,1528.69 688.64,1526.28 689.03,1523.84 689.41,1521.38 689.8,1518.89 690.19,1516.39 690.58,1513.87 690.96,1511.34 691.35,1508.81 691.74,1506.27 692.12,1503.74 692.51,1501.24 692.9,1498.75 693.29,1496.28 693.67,1493.8 694.06,1491.31 694.45,1488.79 694.83,1486.23 695.22,1483.6 695.61,1480.91 695.99,1478.14 696.38,1475.29 696.77,1472.39 697.16,1469.43 697.54,1466.39 697.93,1463.27 698.32,1460.05 698.7,1456.73 699.09,1453.29 699.48,1449.68 699.87,1445.81 700.25,1441.75 700.64,1437.57 701.03,1433.37 701.41,1429.22 701.8,1425.19 702.19,1421.21 702.58,1417.19 702.96,1413.18 703.35,1409.24 703.74,1405.44 704.12,1401.83 704.51,1398.47 704.9,1395.35 705.28,1392.4 705.67,1389.57 706.06,1386.8 706.45,1384.04 706.83,1381.24 707.22,1378.37 707.61,1375.53 707.99,1372.74 708.38,1369.97 708.77,1367.19 709.16,1364.39 709.54,1361.54 709.93,1358.62 710.32,1355.6 710.7,1352.48 711.09,1349.22 711.48,1345.84 711.87,1342.33 712.25,1338.72 712.64,1335.02 713.03,1331.23 713.41,1327.36 713.8,1323.42 714.19,1319.42 714.57,1315.38 714.96,1311.29 715.35,1307.18 715.74,1303.05 716.12,1298.91 716.51,1294.76 716.9,1290.63 717.28,1286.52 717.67,1282.42 718.06,1278.33 718.45,1274.24 718.83,1270.14 719.22,1266.03 719.61,1261.89 719.99,1257.72 720.38,1253.52 720.77,1249.26 721.16,1244.96 721.54,1240.6 721.93,1236.17 722.32,1231.66 722.7,1227.07 723.09,1222.39 723.48,1217.62 723.86,1212.74 724.25,1207.75 724.64,1202.64 725.03,1197.4 725.41,1192.03 725.8,1186" fill="none" stroke="#ff0424" stroke-width="2.25" stroke-linejoin="round" clip-path="url(#cc2)"/>
<text transform="translate(-1.03,47.26) scale(0.6758,0.6647)" class="b" font-size="100">A</text>
<text transform="translate(0.84,620.8) scale(0.6230,0.6522)" class="b" font-size="100">B</text>
<text transform="translate(15.56,1195.14) scale(0.6092,0.6648)" class="b" font-size="100">C</text>
<g transform="translate(209.4,83.5) scale(1,1.04)"><text id="o1" text-anchor="middle" class="b one" font-size="25"> <tspan font-size="16.5" dy="-9.6">st</tspan><tspan dy="9.6"> activation</tspan></text><path d="M780,0L500,0L500,1020Q440,965 345,915Q250,865 150,840L150,1070Q290,1115 390,1200Q490,1285 535,1409L780,1409Z" transform="translate(-76.10,0.00) scale(0.01221,-0.01221)"/></g>
<g transform="translate(209.4,657.7) scale(1,1.04)"><text id="o2" text-anchor="middle" class="b one" font-size="25"> <tspan font-size="16.5" dy="-9.6">st</tspan><tspan dy="9.6"> activation</tspan></text><path d="M780,0L500,0L500,1020Q440,965 345,915Q250,865 150,840L150,1070Q290,1115 390,1200Q490,1285 535,1409L780,1409Z" transform="translate(-76.10,0.00) scale(0.01221,-0.01221)"/></g>
<g transform="translate(209.4,1227.3) scale(1,1.04)"><text id="o3" text-anchor="middle" class="b one" font-size="25"> <tspan font-size="16.5" dy="-9.6">st</tspan><tspan dy="9.6"> LSV</tspan></text><path d="M780,0L500,0L500,1020Q440,965 345,915Q250,865 150,840L150,1070Q290,1115 390,1200Q490,1285 535,1409L780,1409Z" transform="translate(-42.07,0.00) scale(0.01221,-0.01221)"/></g>
<g transform="translate(427.3,83.5) scale(1,1.04)"><text id="o4" text-anchor="middle" class="b one" font-size="25">2<tspan font-size="16.5" dy="-9.6">nd</tspan><tspan dy="9.6"> activation</tspan></text></g>
<g transform="translate(427.3,657.7) scale(1,1.04)"><text id="o5" text-anchor="middle" class="b one" font-size="25">2<tspan font-size="16.5" dy="-9.6">nd</tspan><tspan dy="9.6"> activation</tspan></text></g>
<g transform="translate(427.3,1227.3) scale(1,1.04)"><text id="o6" text-anchor="middle" class="b one" font-size="25">2<tspan font-size="16.5" dy="-9.6">nd</tspan><tspan dy="9.6"> LSV</tspan></text></g>
<g transform="translate(645.4,83.5) scale(1,1.04)"><text id="o7" text-anchor="middle" class="b one" font-size="25">3<tspan font-size="16.5" dy="-9.6">rd</tspan><tspan dy="9.6"> activation</tspan></text></g>
<g transform="translate(645.4,657.7) scale(1,1.04)"><text id="o8" text-anchor="middle" class="b one" font-size="25">3<tspan font-size="16.5" dy="-9.6">rd</tspan><tspan dy="9.6"> activation</tspan></text></g>
<g transform="translate(645.4,1227.3) scale(1,1.04)"><text id="o9" text-anchor="middle" class="b one" font-size="25">3<tspan font-size="16.5" dy="-9.6">rd</tspan><tspan dy="9.6"> LSV</tspan></text></g>
<g transform="translate(126.2,504.8) scale(1,1.04)"><text id="o10" text-anchor="middle" class="t one">0.8</text></g>
<g transform="translate(209.96,504.8) scale(1,1.04)"><text id="o11" text-anchor="middle" class="t one"> .2</text><path d="M763,0L583,0L583,1102Q518,1042 412,982Q306,923 222,893L222,1061Q373,1129 486,1226Q599,1323 646,1414L763,1414Z" transform="translate(-17.79,0.00) scale(0.01250,-0.01250)"/></g>
<g transform="translate(293.72,504.8) scale(1,1.04)"><text id="o12" text-anchor="middle" class="t one"> .6</text><path d="M763,0L583,0L583,1102Q518,1042 412,982Q306,923 222,893L222,1061Q373,1129 486,1226Q599,1323 646,1414L763,1414Z" transform="translate(-17.79,0.00) scale(0.01250,-0.01250)"/></g>
<g transform="translate(344.1,504.8) scale(1,1.04)"><text id="o13" text-anchor="middle" class="t one">0.8</text></g>
<g transform="translate(427.86,504.8) scale(1,1.04)"><text id="o14" text-anchor="middle" class="t one"> .2</text><path d="M763,0L583,0L583,1102Q518,1042 412,982Q306,923 222,893L222,1061Q373,1129 486,1226Q599,1323 646,1414L763,1414Z" transform="translate(-17.79,0.00) scale(0.01250,-0.01250)"/></g>
<g transform="translate(511.62,504.8) scale(1,1.04)"><text id="o15" text-anchor="middle" class="t one"> .6</text><path d="M763,0L583,0L583,1102Q518,1042 412,982Q306,923 222,893L222,1061Q373,1129 486,1226Q599,1323 646,1414L763,1414Z" transform="translate(-17.79,0.00) scale(0.01250,-0.01250)"/></g>
<g transform="translate(562.2,504.8) scale(1,1.04)"><text id="o16" text-anchor="middle" class="t one">0.8</text></g>
<g transform="translate(645.96,504.8) scale(1,1.04)"><text id="o17" text-anchor="middle" class="t one"> .2</text><path d="M763,0L583,0L583,1102Q518,1042 412,982Q306,923 222,893L222,1061Q373,1129 486,1226Q599,1323 646,1414L763,1414Z" transform="translate(-17.79,0.00) scale(0.01250,-0.01250)"/></g>
<g transform="translate(729.72,504.8) scale(1,1.04)"><text id="o18" text-anchor="middle" class="t one"> .6</text><path d="M763,0L583,0L583,1102Q518,1042 412,982Q306,923 222,893L222,1061Q373,1129 486,1226Q599,1323 646,1414L763,1414Z" transform="translate(-17.79,0.00) scale(0.01250,-0.01250)"/></g>
<g transform="translate(109.5,454.7) scale(1,1.04)"><text id="o19" text-anchor="end" class="t one">- 0</text><path d="M763,0L583,0L583,1102Q518,1042 412,982Q306,923 222,893L222,1061Q373,1129 486,1226Q599,1323 646,1414L763,1414Z" transform="translate(-28.49,0.00) scale(0.01250,-0.01250)"/></g>
<g transform="translate(109.5,330) scale(1,1.04)"><text id="o20" text-anchor="end" class="t one">0</text></g>
<g transform="translate(109.5,205.3) scale(1,1.04)"><text id="o21" text-anchor="end" class="t one"> 0</text><path d="M763,0L583,0L583,1102Q518,1042 412,982Q306,923 222,893L222,1061Q373,1129 486,1226Q599,1323 646,1414L763,1414Z" transform="translate(-28.47,0.00) scale(0.01250,-0.01250)"/></g>
<g transform="translate(109.5,80.6) scale(1,1.04)"><text id="o22" text-anchor="end" class="t one">20</text></g>
<g transform="translate(119.1,1079.2) scale(1,1.04)"><text id="o23" text-anchor="middle" class="t one">0</text></g>
<g transform="translate(179.4,1079.2) scale(1,1.04)"><text id="o24" text-anchor="middle" class="t one"> 0</text><path d="M763,0L583,0L583,1102Q518,1042 412,982Q306,923 222,893L222,1061Q373,1129 486,1226Q599,1323 646,1414L763,1414Z" transform="translate(-14.24,0.00) scale(0.01250,-0.01250)"/></g>
<g transform="translate(239.7,1079.2) scale(1,1.04)"><text id="o25" text-anchor="middle" class="t one">20</text></g>
<g transform="translate(300,1079.2) scale(1,1.04)"><text id="o26" text-anchor="middle" class="t one">30</text></g>
<g transform="translate(337,1079.2) scale(1,1.04)"><text id="o27" text-anchor="middle" class="t one">0</text></g>
<g transform="translate(397.3,1079.2) scale(1,1.04)"><text id="o28" text-anchor="middle" class="t one"> 0</text><path d="M763,0L583,0L583,1102Q518,1042 412,982Q306,923 222,893L222,1061Q373,1129 486,1226Q599,1323 646,1414L763,1414Z" transform="translate(-14.24,0.00) scale(0.01250,-0.01250)"/></g>
<g transform="translate(457.6,1079.2) scale(1,1.04)"><text id="o29" text-anchor="middle" class="t one">20</text></g>
<g transform="translate(517.9,1079.2) scale(1,1.04)"><text id="o30" text-anchor="middle" class="t one">30</text></g>
<g transform="translate(555.1,1079.2) scale(1,1.04)"><text id="o31" text-anchor="middle" class="t one">0</text></g>
<g transform="translate(615.4,1079.2) scale(1,1.04)"><text id="o32" text-anchor="middle" class="t one"> 0</text><path d="M763,0L583,0L583,1102Q518,1042 412,982Q306,923 222,893L222,1061Q373,1129 486,1226Q599,1323 646,1414L763,1414Z" transform="translate(-14.24,0.00) scale(0.01250,-0.01250)"/></g>
<g transform="translate(675.7,1079.2) scale(1,1.04)"><text id="o33" text-anchor="middle" class="t one">20</text></g>
<g transform="translate(736,1079.2) scale(1,1.04)"><text id="o34" text-anchor="middle" class="t one">30</text></g>
<g transform="translate(109.5,1060.2) scale(1,1.04)"><text id="o35" text-anchor="end" class="t one">0</text></g>
<g transform="translate(109.5,885.9) scale(1,1.04)"><text id="o36" text-anchor="end" class="t one">50</text></g>
<g transform="translate(109.5,711.6) scale(1,1.04)"><text id="o37" text-anchor="end" class="t one"> 00</text><path d="M763,0L583,0L583,1102Q518,1042 412,982Q306,923 222,893L222,1061Q373,1129 486,1226Q599,1323 646,1414L763,1414Z" transform="translate(-42.70,0.00) scale(0.01250,-0.01250)"/></g>
<g transform="translate(182.9,1650.7) scale(1,1.04)"><text id="o38" text-anchor="middle" class="t one">0. </text><path d="M763,0L583,0L583,1102Q518,1042 412,982Q306,923 222,893L222,1061Q373,1129 486,1226Q599,1323 646,1414L763,1414Z" transform="translate(3.55,0.00) scale(0.01250,-0.01250)"/></g>
<g transform="translate(262.7,1650.7) scale(1,1.04)"><text id="o39" text-anchor="middle" class="t one">0.4</text></g>
<g transform="translate(400.8,1650.7) scale(1,1.04)"><text id="o40" text-anchor="middle" class="t one">0. </text><path d="M763,0L583,0L583,1102Q518,1042 412,982Q306,923 222,893L222,1061Q373,1129 486,1226Q599,1323 646,1414L763,1414Z" transform="translate(3.55,0.00) scale(0.01250,-0.01250)"/></g>
<g transform="translate(480.6,1650.7) scale(1,1.04)"><text id="o41" text-anchor="middle" class="t one">0.4</text></g>
<g transform="translate(618.9,1650.7) scale(1,1.04)"><text id="o42" text-anchor="middle" class="t one">0. </text><path d="M763,0L583,0L583,1102Q518,1042 412,982Q306,923 222,893L222,1061Q373,1129 486,1226Q599,1323 646,1414L763,1414Z" transform="translate(3.55,0.00) scale(0.01250,-0.01250)"/></g>
<g transform="translate(698.7,1650.7) scale(1,1.04)"><text id="o43" text-anchor="middle" class="t one">0.4</text></g>
<g transform="translate(109.5,1589) scale(1,1.04)"><text id="o44" text-anchor="end" class="t one">0</text></g>
<g transform="translate(109.5,1502.15) scale(1,1.04)"><text id="o45" text-anchor="end" class="t one">5</text></g>
<g transform="translate(109.5,1415.3) scale(1,1.04)"><text id="o46" text-anchor="end" class="t one"> 0</text><path d="M763,0L583,0L583,1102Q518,1042 412,982Q306,923 222,893L222,1061Q373,1129 486,1226Q599,1323 646,1414L763,1414Z" transform="translate(-28.47,0.00) scale(0.01250,-0.01250)"/></g>
<g transform="translate(109.5,1328.45) scale(1,1.04)"><text id="o47" text-anchor="end" class="t one"> 5</text><path d="M763,0L583,0L583,1102Q518,1042 412,982Q306,923 222,893L222,1061Q373,1129 486,1226Q599,1323 646,1414L763,1414Z" transform="translate(-28.47,0.00) scale(0.01250,-0.01250)"/></g>
<g transform="translate(109.5,1241.6) scale(1,1.04)"><text id="o48" text-anchor="end" class="t one">20</text></g>
<text transform="translate(271.06,550.3) scale(1,1.045)" font-size="32" class="b">Potential</text>
<text transform="translate(415.4,550.3) scale(1,1.045)" font-size="32">(V vs. RHE)</text>
<text transform="translate(326,1696.6) scale(1,1.045)" font-size="32" class="b">Overpotential</text>
<text transform="translate(540.5,1696.6) scale(1,1.045)" font-size="32">(V)</text>
<text transform="translate(158,1125.2) scale(1,1.045)" font-size="32" class="b">Cycles</text>
<text transform="translate(375.9,1125.2) scale(1,1.045)" font-size="32" class="b">Cycles</text>
<text transform="translate(594,1125.2) scale(1,1.045)" font-size="32" class="b">Cycles</text>
<text transform="translate(62.5,449.3) rotate(-90) scale(1,1.045)" font-size="32" class="b">Current density</text>
<text transform="translate(62.5,203.9) rotate(-90) scale(1,1.045)" font-size="32">(mA/cm</text>
<text transform="translate(49.2,93.8) rotate(-90) scale(1,1.045)" font-size="22">2</text>
<text transform="translate(62.5,80.6) rotate(-90) scale(1,1.045)" font-size="32">)</text>
<text transform="translate(57.2,1000.5) rotate(-90) scale(1,1.045)" font-size="32" class="b">Cathodic charge</text>
<text transform="translate(57.2,740.7) rotate(-90) scale(1,1.045)" font-size="32">(mQ)</text>
<text transform="translate(70.8,1596.1) rotate(-90) scale(1,1.045)" font-size="32" class="b">Current density</text>
<text transform="translate(70.8,1351.5) rotate(-90) scale(1,1.045)" font-size="32">(mA/cm</text>
<text transform="translate(57.6,1241.4) rotate(-90) scale(1,1.045)" font-size="22">2</text>
<text transform="translate(70.8,1228.6) rotate(-90) scale(1,1.045)" font-size="32">)</text>
</svg>
</body></html>
